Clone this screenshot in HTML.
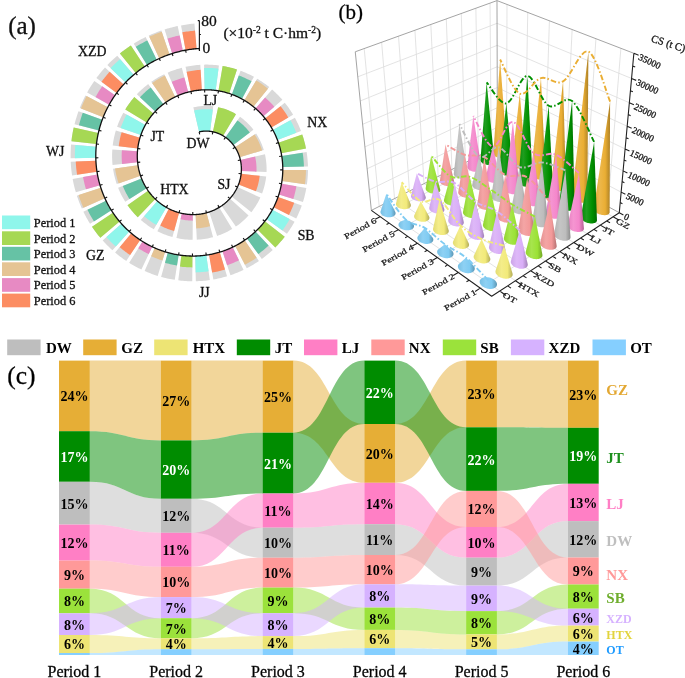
<!DOCTYPE html>
<html><head><meta charset="utf-8"><style>
html,body{margin:0;padding:0;background:#fff;width:685px;height:678px;overflow:hidden}
svg{display:block;will-change:transform}
text{font-family:"Liberation Serif",serif}
.th,.sl,.pa,.per,.c3,.c3c,.c3z,.c3t,.apl{stroke:#111;stroke-width:0.3px}
.pl{font-weight:bold;font-size:14px;text-anchor:middle}
.per{font-size:16px;text-anchor:middle}
.lg{font-weight:bold;font-size:15px}
.pa{font-size:24px}
.sl{font-size:15.5px;fill:#111}
.c3{font-size:10.6px;fill:#222}
.c3c{font-size:11px;fill:#222}
.c3z{font-size:9.3px;fill:#222}
.c3t{font-size:10.6px;fill:#222}
</style></head><body>
<svg width="685" height="678" viewBox="0 0 685 678">
<path d="M89.80,481.80 C125.29,481.80 125.29,498.80 160.78,498.80 L160.78,532.80 C125.29,532.80 125.29,524.60 89.80,524.60 Z" fill="#BEBEBE" fill-opacity="0.5"/>
<path d="M191.58,498.80 C227.07,498.80 227.07,527.70 262.56,527.70 L262.56,557.70 C227.07,557.70 227.07,532.80 191.58,532.80 Z" fill="#BEBEBE" fill-opacity="0.5"/>
<path d="M293.36,527.70 C328.85,527.70 328.85,524.20 364.34,524.20 L364.34,555.00 C328.85,555.00 328.85,557.70 293.36,557.70 Z" fill="#BEBEBE" fill-opacity="0.5"/>
<path d="M395.14,524.20 C430.63,524.20 430.63,557.70 466.12,557.70 L466.12,585.60 C430.63,585.60 430.63,555.00 395.14,555.00 Z" fill="#BEBEBE" fill-opacity="0.5"/>
<path d="M496.92,557.70 C532.41,557.70 532.41,521.10 567.90,521.10 L567.90,557.50 C532.41,557.50 532.41,585.60 496.92,585.60 Z" fill="#BEBEBE" fill-opacity="0.5"/>
<path d="M89.80,360.60 C125.29,360.60 125.29,360.60 160.78,360.60 L160.78,440.40 C125.29,440.40 125.29,431.20 89.80,431.20 Z" fill="#E6AE36" fill-opacity="0.5"/>
<path d="M191.58,360.60 C227.07,360.60 227.07,360.60 262.56,360.60 L262.56,432.70 C227.07,432.70 227.07,440.40 191.58,440.40 Z" fill="#E6AE36" fill-opacity="0.5"/>
<path d="M293.36,360.60 C328.85,360.60 328.85,424.00 364.34,424.00 L364.34,482.80 C328.85,482.80 328.85,432.70 293.36,432.70 Z" fill="#E6AE36" fill-opacity="0.5"/>
<path d="M395.14,424.00 C430.63,424.00 430.63,360.60 466.12,360.60 L466.12,427.30 C430.63,427.30 430.63,482.80 395.14,482.80 Z" fill="#E6AE36" fill-opacity="0.5"/>
<path d="M496.92,360.60 C532.41,360.60 532.41,360.60 567.90,360.60 L567.90,427.80 C532.41,427.80 532.41,427.30 496.92,427.30 Z" fill="#E6AE36" fill-opacity="0.5"/>
<path d="M89.80,635.00 C125.29,635.00 125.29,638.30 160.78,638.30 L160.78,649.20 C125.29,649.20 125.29,653.00 89.80,653.00 Z" fill="#EDE474" fill-opacity="0.5"/>
<path d="M191.58,638.30 C227.07,638.30 227.07,636.10 262.56,636.10 L262.56,648.90 C227.07,648.90 227.07,649.20 191.58,649.20 Z" fill="#EDE474" fill-opacity="0.5"/>
<path d="M293.36,636.10 C328.85,636.10 328.85,629.90 364.34,629.90 L364.34,648.20 C328.85,648.20 328.85,648.90 293.36,648.90 Z" fill="#EDE474" fill-opacity="0.5"/>
<path d="M395.14,629.90 C430.63,629.90 430.63,634.40 466.12,634.40 L466.12,649.30 C430.63,649.30 430.63,648.20 395.14,648.20 Z" fill="#EDE474" fill-opacity="0.5"/>
<path d="M496.92,634.40 C532.41,634.40 532.41,625.60 567.90,625.60 L567.90,641.60 C532.41,641.60 532.41,649.30 496.92,649.30 Z" fill="#EDE474" fill-opacity="0.5"/>
<path d="M89.80,431.20 C125.29,431.20 125.29,440.40 160.78,440.40 L160.78,498.80 C125.29,498.80 125.29,481.80 89.80,481.80 Z" fill="#008C00" fill-opacity="0.5"/>
<path d="M191.58,440.40 C227.07,440.40 227.07,432.70 262.56,432.70 L262.56,493.50 C227.07,493.50 227.07,498.80 191.58,498.80 Z" fill="#008C00" fill-opacity="0.5"/>
<path d="M293.36,432.70 C328.85,432.70 328.85,360.60 364.34,360.60 L364.34,424.00 C328.85,424.00 328.85,493.50 293.36,493.50 Z" fill="#008C00" fill-opacity="0.5"/>
<path d="M395.14,360.60 C430.63,360.60 430.63,427.30 466.12,427.30 L466.12,490.90 C430.63,490.90 430.63,424.00 395.14,424.00 Z" fill="#008C00" fill-opacity="0.5"/>
<path d="M496.92,427.30 C532.41,427.30 532.41,427.80 567.90,427.80 L567.90,483.80 C532.41,483.80 532.41,490.90 496.92,490.90 Z" fill="#008C00" fill-opacity="0.5"/>
<path d="M89.80,524.60 C125.29,524.60 125.29,532.80 160.78,532.80 L160.78,566.80 C125.29,566.80 125.29,560.60 89.80,560.60 Z" fill="#FF7FC5" fill-opacity="0.5"/>
<path d="M191.58,532.80 C227.07,532.80 227.07,493.50 262.56,493.50 L262.56,527.70 C227.07,527.70 227.07,566.80 191.58,566.80 Z" fill="#FF7FC5" fill-opacity="0.5"/>
<path d="M293.36,493.50 C328.85,493.50 328.85,482.80 364.34,482.80 L364.34,524.20 C328.85,524.20 328.85,527.70 293.36,527.70 Z" fill="#FF7FC5" fill-opacity="0.5"/>
<path d="M395.14,482.80 C430.63,482.80 430.63,527.00 466.12,527.00 L466.12,557.70 C430.63,557.70 430.63,524.20 395.14,524.20 Z" fill="#FF7FC5" fill-opacity="0.5"/>
<path d="M496.92,527.00 C532.41,527.00 532.41,483.80 567.90,483.80 L567.90,521.10 C532.41,521.10 532.41,557.70 496.92,557.70 Z" fill="#FF7FC5" fill-opacity="0.5"/>
<path d="M89.80,560.60 C125.29,560.60 125.29,566.80 160.78,566.80 L160.78,597.10 C125.29,597.10 125.29,588.70 89.80,588.70 Z" fill="#FF9999" fill-opacity="0.5"/>
<path d="M191.58,566.80 C227.07,566.80 227.07,557.70 262.56,557.70 L262.56,587.60 C227.07,587.60 227.07,597.10 191.58,597.10 Z" fill="#FF9999" fill-opacity="0.5"/>
<path d="M293.36,557.70 C328.85,557.70 328.85,555.00 364.34,555.00 L364.34,584.30 C328.85,584.30 328.85,587.60 293.36,587.60 Z" fill="#FF9999" fill-opacity="0.5"/>
<path d="M395.14,555.00 C430.63,555.00 430.63,490.90 466.12,490.90 L466.12,527.00 C430.63,527.00 430.63,584.30 395.14,584.30 Z" fill="#FF9999" fill-opacity="0.5"/>
<path d="M496.92,490.90 C532.41,490.90 532.41,557.50 567.90,557.50 L567.90,584.50 C532.41,584.50 532.41,527.00 496.92,527.00 Z" fill="#FF9999" fill-opacity="0.5"/>
<path d="M89.80,588.70 C125.29,588.70 125.29,618.20 160.78,618.20 L160.78,638.30 C125.29,638.30 125.29,613.30 89.80,613.30 Z" fill="#9BE23B" fill-opacity="0.5"/>
<path d="M191.58,618.20 C227.07,618.20 227.07,587.60 262.56,587.60 L262.56,613.20 C227.07,613.20 227.07,638.30 191.58,638.30 Z" fill="#9BE23B" fill-opacity="0.5"/>
<path d="M293.36,587.60 C328.85,587.60 328.85,607.60 364.34,607.60 L364.34,629.90 C328.85,629.90 328.85,613.20 293.36,613.20 Z" fill="#9BE23B" fill-opacity="0.5"/>
<path d="M395.14,607.60 C430.63,607.60 430.63,611.10 466.12,611.10 L466.12,634.40 C430.63,634.40 430.63,629.90 395.14,629.90 Z" fill="#9BE23B" fill-opacity="0.5"/>
<path d="M496.92,611.10 C532.41,611.10 532.41,584.50 567.90,584.50 L567.90,608.70 C532.41,608.70 532.41,634.40 496.92,634.40 Z" fill="#9BE23B" fill-opacity="0.5"/>
<path d="M89.80,613.30 C125.29,613.30 125.29,597.10 160.78,597.10 L160.78,618.20 C125.29,618.20 125.29,635.00 89.80,635.00 Z" fill="#D6B2FF" fill-opacity="0.5"/>
<path d="M191.58,597.10 C227.07,597.10 227.07,613.20 262.56,613.20 L262.56,636.10 C227.07,636.10 227.07,618.20 191.58,618.20 Z" fill="#D6B2FF" fill-opacity="0.5"/>
<path d="M293.36,613.20 C328.85,613.20 328.85,584.30 364.34,584.30 L364.34,607.60 C328.85,607.60 328.85,636.10 293.36,636.10 Z" fill="#D6B2FF" fill-opacity="0.5"/>
<path d="M395.14,584.30 C430.63,584.30 430.63,585.60 466.12,585.60 L466.12,611.10 C430.63,611.10 430.63,607.60 395.14,607.60 Z" fill="#D6B2FF" fill-opacity="0.5"/>
<path d="M496.92,585.60 C532.41,585.60 532.41,608.70 567.90,608.70 L567.90,625.60 C532.41,625.60 532.41,611.10 496.92,611.10 Z" fill="#D6B2FF" fill-opacity="0.5"/>
<path d="M89.80,653.00 C125.29,653.00 125.29,649.20 160.78,649.20 L160.78,655.00 C125.29,655.00 125.29,655.00 89.80,655.00 Z" fill="#85CFFF" fill-opacity="0.5"/>
<path d="M191.58,649.20 C227.07,649.20 227.07,648.90 262.56,648.90 L262.56,655.00 C227.07,655.00 227.07,655.00 191.58,655.00 Z" fill="#85CFFF" fill-opacity="0.5"/>
<path d="M293.36,648.90 C328.85,648.90 328.85,648.20 364.34,648.20 L364.34,655.00 C328.85,655.00 328.85,655.00 293.36,655.00 Z" fill="#85CFFF" fill-opacity="0.5"/>
<path d="M395.14,648.20 C430.63,648.20 430.63,649.30 466.12,649.30 L466.12,655.00 C430.63,655.00 430.63,655.00 395.14,655.00 Z" fill="#85CFFF" fill-opacity="0.5"/>
<path d="M496.92,649.30 C532.41,649.30 532.41,641.60 567.90,641.60 L567.90,655.00 C532.41,655.00 532.41,655.00 496.92,655.00 Z" fill="#85CFFF" fill-opacity="0.5"/>
<rect x="59.00" y="360.60" width="30.80" height="70.60" fill="#E6AE36"/>
<rect x="59.00" y="431.20" width="30.80" height="50.60" fill="#008C00"/>
<rect x="59.00" y="481.80" width="30.80" height="42.80" fill="#BEBEBE"/>
<rect x="59.00" y="524.60" width="30.80" height="36.00" fill="#FF7FC5"/>
<rect x="59.00" y="560.60" width="30.80" height="28.10" fill="#FF9999"/>
<rect x="59.00" y="588.70" width="30.80" height="24.60" fill="#9BE23B"/>
<rect x="59.00" y="613.30" width="30.80" height="21.70" fill="#D6B2FF"/>
<rect x="59.00" y="635.00" width="30.80" height="18.00" fill="#EDE474"/>
<rect x="59.00" y="653.00" width="30.80" height="2.00" fill="#85CFFF"/>
<rect x="160.78" y="360.60" width="30.80" height="79.80" fill="#E6AE36"/>
<rect x="160.78" y="440.40" width="30.80" height="58.40" fill="#008C00"/>
<rect x="160.78" y="498.80" width="30.80" height="34.00" fill="#BEBEBE"/>
<rect x="160.78" y="532.80" width="30.80" height="34.00" fill="#FF7FC5"/>
<rect x="160.78" y="566.80" width="30.80" height="30.30" fill="#FF9999"/>
<rect x="160.78" y="597.10" width="30.80" height="21.10" fill="#D6B2FF"/>
<rect x="160.78" y="618.20" width="30.80" height="20.10" fill="#9BE23B"/>
<rect x="160.78" y="638.30" width="30.80" height="10.90" fill="#EDE474"/>
<rect x="160.78" y="649.20" width="30.80" height="5.80" fill="#85CFFF"/>
<rect x="262.56" y="360.60" width="30.80" height="72.10" fill="#E6AE36"/>
<rect x="262.56" y="432.70" width="30.80" height="60.80" fill="#008C00"/>
<rect x="262.56" y="493.50" width="30.80" height="34.20" fill="#FF7FC5"/>
<rect x="262.56" y="527.70" width="30.80" height="30.00" fill="#BEBEBE"/>
<rect x="262.56" y="557.70" width="30.80" height="29.90" fill="#FF9999"/>
<rect x="262.56" y="587.60" width="30.80" height="25.60" fill="#9BE23B"/>
<rect x="262.56" y="613.20" width="30.80" height="22.90" fill="#D6B2FF"/>
<rect x="262.56" y="636.10" width="30.80" height="12.80" fill="#EDE474"/>
<rect x="262.56" y="648.90" width="30.80" height="6.10" fill="#85CFFF"/>
<rect x="364.34" y="360.60" width="30.80" height="63.40" fill="#008C00"/>
<rect x="364.34" y="424.00" width="30.80" height="58.80" fill="#E6AE36"/>
<rect x="364.34" y="482.80" width="30.80" height="41.40" fill="#FF7FC5"/>
<rect x="364.34" y="524.20" width="30.80" height="30.80" fill="#BEBEBE"/>
<rect x="364.34" y="555.00" width="30.80" height="29.30" fill="#FF9999"/>
<rect x="364.34" y="584.30" width="30.80" height="23.30" fill="#D6B2FF"/>
<rect x="364.34" y="607.60" width="30.80" height="22.30" fill="#9BE23B"/>
<rect x="364.34" y="629.90" width="30.80" height="18.30" fill="#EDE474"/>
<rect x="364.34" y="648.20" width="30.80" height="6.80" fill="#85CFFF"/>
<rect x="466.12" y="360.60" width="30.80" height="66.70" fill="#E6AE36"/>
<rect x="466.12" y="427.30" width="30.80" height="63.60" fill="#008C00"/>
<rect x="466.12" y="490.90" width="30.80" height="36.10" fill="#FF9999"/>
<rect x="466.12" y="527.00" width="30.80" height="30.70" fill="#FF7FC5"/>
<rect x="466.12" y="557.70" width="30.80" height="27.90" fill="#BEBEBE"/>
<rect x="466.12" y="585.60" width="30.80" height="25.50" fill="#D6B2FF"/>
<rect x="466.12" y="611.10" width="30.80" height="23.30" fill="#9BE23B"/>
<rect x="466.12" y="634.40" width="30.80" height="14.90" fill="#EDE474"/>
<rect x="466.12" y="649.30" width="30.80" height="5.70" fill="#85CFFF"/>
<rect x="567.90" y="360.60" width="30.80" height="67.20" fill="#E6AE36"/>
<rect x="567.90" y="427.80" width="30.80" height="56.00" fill="#008C00"/>
<rect x="567.90" y="483.80" width="30.80" height="37.30" fill="#FF7FC5"/>
<rect x="567.90" y="521.10" width="30.80" height="36.40" fill="#BEBEBE"/>
<rect x="567.90" y="557.50" width="30.80" height="27.00" fill="#FF9999"/>
<rect x="567.90" y="584.50" width="30.80" height="24.20" fill="#9BE23B"/>
<rect x="567.90" y="608.70" width="30.80" height="16.90" fill="#D6B2FF"/>
<rect x="567.90" y="625.60" width="30.80" height="16.00" fill="#EDE474"/>
<rect x="567.90" y="641.60" width="30.80" height="13.40" fill="#85CFFF"/>
<text id="pc0GZ" x="74.40" y="401.30" class="pl" fill="#000000">24%</text>
<text id="pc0JT" x="74.40" y="461.90" class="pl" fill="#FFFFFF">17%</text>
<text id="pc0DW" x="74.40" y="508.60" class="pl" fill="#000000">15%</text>
<text id="pc0LJ" x="74.40" y="548.00" class="pl" fill="#000000">12%</text>
<text id="pc0NX" x="74.40" y="580.05" class="pl" fill="#000000">9%</text>
<text id="pc0SB" x="74.40" y="606.40" class="pl" fill="#000000">8%</text>
<text id="pc0XZD" x="74.40" y="629.55" class="pl" fill="#000000">8%</text>
<text id="pc0HTX" x="74.40" y="649.40" class="pl" fill="#000000">6%</text>
<text id="cp1" x="74.40" y="676.8" class="per">Period 1</text>
<text id="pc1GZ" x="176.18" y="405.90" class="pl" fill="#000000">27%</text>
<text id="pc1JT" x="176.18" y="475.00" class="pl" fill="#FFFFFF">20%</text>
<text id="pc1DW" x="176.18" y="521.20" class="pl" fill="#000000">12%</text>
<text id="pc1LJ" x="176.18" y="555.20" class="pl" fill="#000000">11%</text>
<text id="pc1NX" x="176.18" y="587.35" class="pl" fill="#000000">10%</text>
<text id="pc1XZD" x="176.18" y="613.05" class="pl" fill="#000000">7%</text>
<text id="pc1SB" x="176.18" y="633.65" class="pl" fill="#000000">7%</text>
<text id="pc1HTX" x="176.18" y="649.15" class="pl" fill="#000000">4%</text>
<text id="cp2" x="176.18" y="676.8" class="per">Period 2</text>
<text id="pc2GZ" x="277.96" y="402.05" class="pl" fill="#000000">25%</text>
<text id="pc2JT" x="277.96" y="468.50" class="pl" fill="#FFFFFF">21%</text>
<text id="pc2LJ" x="277.96" y="516.00" class="pl" fill="#000000">11%</text>
<text id="pc2DW" x="277.96" y="548.10" class="pl" fill="#000000">10%</text>
<text id="pc2NX" x="277.96" y="578.05" class="pl" fill="#000000">10%</text>
<text id="pc2SB" x="277.96" y="605.80" class="pl" fill="#000000">9%</text>
<text id="pc2XZD" x="277.96" y="630.05" class="pl" fill="#000000">8%</text>
<text id="pc2HTX" x="277.96" y="647.90" class="pl" fill="#000000">4%</text>
<text id="cp3" x="277.96" y="676.8" class="per">Period 3</text>
<text id="pc3JT" x="379.74" y="397.70" class="pl" fill="#FFFFFF">22%</text>
<text id="pc3GZ" x="379.74" y="458.80" class="pl" fill="#000000">20%</text>
<text id="pc3LJ" x="379.74" y="508.90" class="pl" fill="#000000">14%</text>
<text id="pc3DW" x="379.74" y="545.00" class="pl" fill="#000000">11%</text>
<text id="pc3NX" x="379.74" y="575.05" class="pl" fill="#000000">10%</text>
<text id="pc3XZD" x="379.74" y="601.35" class="pl" fill="#000000">8%</text>
<text id="pc3SB" x="379.74" y="624.15" class="pl" fill="#000000">8%</text>
<text id="pc3HTX" x="379.74" y="644.45" class="pl" fill="#000000">6%</text>
<text id="cp4" x="379.74" y="676.8" class="per">Period 4</text>
<text id="pc4GZ" x="481.52" y="399.35" class="pl" fill="#000000">23%</text>
<text id="pc4JT" x="481.52" y="464.50" class="pl" fill="#FFFFFF">22%</text>
<text id="pc4NX" x="481.52" y="514.35" class="pl" fill="#000000">12%</text>
<text id="pc4LJ" x="481.52" y="547.75" class="pl" fill="#000000">10%</text>
<text id="pc4DW" x="481.52" y="577.05" class="pl" fill="#000000">9%</text>
<text id="pc4XZD" x="481.52" y="603.75" class="pl" fill="#000000">9%</text>
<text id="pc4SB" x="481.52" y="628.15" class="pl" fill="#000000">8%</text>
<text id="pc4HTX" x="481.52" y="647.25" class="pl" fill="#000000">5%</text>
<text id="cp5" x="481.52" y="676.8" class="per">Period 5</text>
<text id="pc5GZ" x="583.30" y="399.60" class="pl" fill="#000000">23%</text>
<text id="pc5JT" x="583.30" y="461.20" class="pl" fill="#FFFFFF">19%</text>
<text id="pc5LJ" x="583.30" y="507.85" class="pl" fill="#000000">13%</text>
<text id="pc5DW" x="583.30" y="544.70" class="pl" fill="#000000">12%</text>
<text id="pc5NX" x="583.30" y="576.40" class="pl" fill="#000000">9%</text>
<text id="pc5SB" x="583.30" y="602.00" class="pl" fill="#000000">8%</text>
<text id="pc5XZD" x="583.30" y="622.55" class="pl" fill="#000000">6%</text>
<text id="pc5HTX" x="583.30" y="639.00" class="pl" fill="#000000">6%</text>
<text id="pc5OT" x="583.30" y="653.70" class="pl" fill="#000000">4%</text>
<text id="cp6" x="583.30" y="676.8" class="per">Period 6</text>
<rect x="7.2" y="339.5" width="33.4" height="15.7" fill="#BEBEBE"/>
<text id="lgDW" x="46.0" y="352.8" class="lg">DW</text>
<rect x="83.2" y="339.5" width="33.4" height="15.7" fill="#E6AE36"/>
<text id="lgGZ" x="121.3" y="352.8" class="lg">GZ</text>
<rect x="154.2" y="339.5" width="33.4" height="15.7" fill="#EDE474"/>
<text id="lgHTX" x="192.7" y="352.8" class="lg">HTX</text>
<rect x="236.8" y="339.5" width="33.4" height="15.7" fill="#008C00"/>
<text id="lgJT" x="274.7" y="352.8" class="lg">JT</text>
<rect x="304.0" y="339.5" width="33.4" height="15.7" fill="#FF7FC5"/>
<text id="lgLJ" x="341.7" y="352.8" class="lg">LJ</text>
<rect x="371.3" y="339.5" width="33.4" height="15.7" fill="#FF9999"/>
<text id="lgNX" x="408.8" y="352.8" class="lg">NX</text>
<rect x="442.8" y="339.5" width="33.4" height="15.7" fill="#9BE23B"/>
<text id="lgSB" x="480.3" y="352.8" class="lg">SB</text>
<rect x="510.9" y="339.5" width="33.4" height="15.7" fill="#D6B2FF"/>
<text id="lgXZD" x="548.6" y="352.8" class="lg">XZD</text>
<rect x="592.5" y="339.5" width="33.4" height="15.7" fill="#85CFFF"/>
<text id="lgOT" x="630.2" y="352.8" class="lg">OT</text>
<text id="lc" x="7.3" y="383.6" class="pa" style="font-size:25.5px">(c)</text>
<text id="rlGZ" x="606.3" y="395.2" fill="#E3A833" style="font-weight:bold;font-size:15px">GZ</text>
<text id="rlJT" x="606.3" y="462.8" fill="#1D8F1D" style="font-weight:bold;font-size:15px">JT</text>
<text id="rlLJ" x="606.3" y="509.2" fill="#FF7FC5" style="font-weight:bold;font-size:15px">LJ</text>
<text id="rlDW" x="606.3" y="546.0" fill="#BFBFBF" style="font-weight:bold;font-size:15px">DW</text>
<text id="rlNX" x="606.3" y="580.0" fill="#FF9999" style="font-weight:bold;font-size:15px">NX</text>
<text id="rlSB" x="606.3" y="602.9" fill="#6FAE2E" style="font-weight:bold;font-size:15px">SB</text>
<text id="rlXZD" x="606.3" y="622.9" fill="#D6B2FF" style="font-weight:bold;font-size:12px">XZD</text>
<text id="rlHTX" x="606.3" y="639.3" fill="#E2D43E" style="font-weight:bold;font-size:12px">HTX</text>
<text id="rlOT" x="606.3" y="654.2" fill="#1E9BFF" style="font-weight:bold;font-size:12px">OT</text>
<path d="M199.12,131.88 L200.32,131.63 L201.53,131.42 L202.75,131.26 L203.97,131.15 L205.20,131.09 L206.43,131.08 L207.66,131.11 L208.89,131.19 L210.11,131.32 L213.22,106.31 L211.04,106.08 L208.85,105.94 L206.65,105.88 L204.43,105.90 L202.21,106.01 L199.99,106.21 L197.77,106.50 L195.56,106.88 L193.35,107.35 Z" fill="#D9D9D9"/>
<path d="M199.12,131.88 L200.32,131.63 L201.53,131.42 L202.75,131.26 L203.97,131.15 L205.20,131.09 L206.43,131.08 L207.66,131.11 L208.89,131.19 L210.11,131.32 L212.82,109.56 L210.76,109.35 L208.70,109.21 L206.62,109.15 L204.53,109.18 L202.44,109.28 L200.35,109.47 L198.26,109.74 L196.18,110.10 L194.10,110.54 Z" fill="#8FF6EB"/>
<path d="M212.87,131.79 L214.07,132.06 L215.25,132.39 L216.43,132.75 L217.58,133.16 L218.73,133.61 L219.85,134.10 L220.96,134.63 L222.05,135.20 L223.12,135.81 L235.98,114.14 L234.14,113.09 L232.26,112.11 L230.34,111.19 L228.39,110.33 L226.39,109.55 L224.37,108.84 L222.31,108.20 L220.23,107.63 L218.12,107.14 Z" fill="#D9D9D9"/>
<path d="M212.87,131.79 L214.07,132.06 L215.25,132.39 L216.43,132.75 L217.58,133.16 L218.73,133.61 L219.85,134.10 L220.96,134.63 L222.05,135.20 L223.12,135.81 L235.98,114.14 L234.14,113.09 L232.26,112.11 L230.34,111.19 L228.39,110.33 L226.39,109.55 L224.37,108.84 L222.31,108.20 L220.23,107.63 L218.12,107.14 Z" fill="#A6D854"/>
<path d="M225.47,137.34 L226.46,138.06 L227.43,138.82 L228.36,139.61 L229.28,140.44 L230.16,141.29 L231.01,142.18 L231.84,143.09 L232.63,144.03 L233.40,144.99 L253.41,129.68 L252.14,128.07 L250.81,126.50 L249.42,124.96 L247.98,123.47 L246.49,122.03 L244.94,120.63 L243.34,119.29 L241.70,117.99 L240.01,116.75 Z" fill="#D9D9D9"/>
<path d="M225.47,137.34 L226.46,138.06 L227.43,138.82 L228.36,139.61 L229.28,140.44 L230.16,141.29 L231.01,142.18 L231.84,143.09 L232.63,144.03 L233.40,144.99 L249.81,132.44 L248.63,130.94 L247.39,129.48 L246.11,128.06 L244.77,126.68 L243.39,125.34 L241.96,124.05 L240.48,122.80 L238.96,121.61 L237.39,120.46 Z" fill="#66C2A5"/>
<path d="M235.01,147.28 L235.67,148.32 L236.29,149.38 L236.88,150.46 L237.43,151.55 L237.95,152.67 L238.43,153.80 L238.87,154.94 L239.29,156.10 L239.66,157.27 L263.78,149.97 L263.17,148.05 L262.49,146.16 L261.76,144.28 L260.97,142.42 L260.11,140.58 L259.20,138.77 L258.23,136.98 L257.20,135.22 L256.11,133.50 Z" fill="#D9D9D9"/>
<path d="M235.01,147.28 L235.67,148.32 L236.29,149.38 L236.88,150.46 L237.43,151.55 L237.95,152.67 L238.43,153.80 L238.87,154.94 L239.29,156.10 L239.66,157.27 L262.09,150.48 L261.49,148.62 L260.84,146.77 L260.13,144.94 L259.36,143.14 L258.53,141.35 L257.64,139.59 L256.69,137.85 L255.69,136.14 L254.63,134.46 Z" fill="#E5C494"/>
<path d="M240.38,159.98 L240.63,161.18 L240.85,162.39 L241.03,163.61 L241.18,164.83 L241.29,166.05 L241.36,167.28 L241.39,168.51 L241.39,169.74 L241.36,170.96 L266.53,172.08 L266.59,170.12 L266.59,168.15 L266.53,166.17 L266.42,164.20 L266.24,162.22 L266.01,160.25 L265.71,158.29 L265.36,156.33 L264.95,154.37 Z" fill="#D9D9D9"/>
<path d="M240.38,159.98 L240.63,161.18 L240.85,162.39 L241.03,163.61 L241.18,164.83 L241.29,166.05 L241.36,167.28 L241.39,168.51 L241.39,169.74 L241.36,170.96 L256.46,171.64 L256.51,169.96 L256.51,168.29 L256.46,166.61 L256.37,164.94 L256.22,163.27 L256.02,161.59 L255.77,159.93 L255.47,158.27 L255.12,156.62 Z" fill="#E78AC3"/>
<path d="M241.14,173.76 L240.99,174.97 L240.80,176.19 L240.58,177.40 L240.32,178.60 L240.03,179.79 L239.70,180.98 L239.34,182.15 L238.95,183.32 L238.53,184.47 L262.06,193.49 L262.72,191.68 L263.34,189.85 L263.91,187.99 L264.42,186.12 L264.88,184.23 L265.29,182.33 L265.64,180.41 L265.94,178.48 L266.19,176.54 Z" fill="#D9D9D9"/>
<path d="M241.14,173.76 L240.99,174.97 L240.80,176.19 L240.58,177.40 L240.32,178.60 L240.03,179.79 L239.70,180.98 L239.34,182.15 L238.95,183.32 L238.53,184.47 L255.94,191.15 L256.54,189.51 L257.10,187.85 L257.61,186.17 L258.08,184.48 L258.49,182.77 L258.86,181.05 L259.18,179.31 L259.45,177.57 L259.67,175.81 Z" fill="#FC8D62"/>
<path d="M237.44,187.05 L236.92,188.16 L236.36,189.26 L235.77,190.34 L235.16,191.40 L234.51,192.45 L233.84,193.48 L233.14,194.49 L232.41,195.48 L231.66,196.45 L251.36,212.16 L252.53,210.66 L253.65,209.12 L254.74,207.56 L255.78,205.96 L256.79,204.33 L257.75,202.67 L258.66,200.99 L259.53,199.28 L260.36,197.54 Z" fill="#D9D9D9"/>
<path d="M229.85,198.59 L229.01,199.49 L228.15,200.37 L227.27,201.22 L226.37,202.06 L225.45,202.87 L224.50,203.65 L223.54,204.42 L222.55,205.15 L221.55,205.86 L235.85,226.61 L237.38,225.53 L238.88,224.40 L240.36,223.24 L241.80,222.04 L243.22,220.80 L244.61,219.52 L245.96,218.20 L247.28,216.85 L248.57,215.46 Z" fill="#D9D9D9"/>
<path d="M219.20,207.38 L218.14,208.01 L217.06,208.60 L215.98,209.18 L214.87,209.72 L213.76,210.23 L212.63,210.72 L211.49,211.18 L210.34,211.61 L209.18,212.01 L217.12,235.93 L218.87,235.32 L220.60,234.67 L222.32,233.98 L224.03,233.24 L225.72,232.47 L227.39,231.64 L229.04,230.78 L230.67,229.87 L232.27,228.93 Z" fill="#D9D9D9"/>
<path d="M206.49,212.82 L205.30,213.13 L204.11,213.40 L202.90,213.65 L201.69,213.87 L200.48,214.06 L199.26,214.22 L198.04,214.36 L196.82,214.46 L195.59,214.53 L196.80,239.70 L198.62,239.59 L200.45,239.44 L202.27,239.24 L204.09,239.00 L205.90,238.72 L207.71,238.39 L209.51,238.02 L211.31,237.60 L213.09,237.14 Z" fill="#D9D9D9"/>
<path d="M206.49,212.82 L205.30,213.13 L204.11,213.40 L202.90,213.65 L201.69,213.87 L200.48,214.06 L199.26,214.22 L198.04,214.36 L196.82,214.46 L195.59,214.53 L196.25,228.38 L197.81,228.28 L199.36,228.15 L200.92,227.99 L202.47,227.78 L204.01,227.54 L205.55,227.26 L207.08,226.94 L208.61,226.59 L210.12,226.20 Z" fill="#E5C494"/>
<path d="M192.79,214.59 L191.56,214.57 L190.33,214.52 L189.11,214.44 L187.88,214.33 L186.66,214.20 L185.44,214.03 L184.23,213.84 L183.02,213.62 L181.82,213.37 L176.43,237.99 L178.20,238.35 L179.98,238.68 L181.77,238.96 L183.57,239.21 L185.37,239.41 L187.18,239.57 L189.00,239.68 L190.82,239.76 L192.64,239.79 Z" fill="#D9D9D9"/>
<path d="M192.79,214.59 L191.56,214.57 L190.33,214.52 L189.11,214.44 L187.88,214.33 L186.66,214.20 L185.44,214.03 L184.23,213.84 L183.02,213.62 L181.82,213.37 L180.52,219.28 L181.86,219.55 L183.21,219.80 L184.56,220.01 L185.92,220.20 L187.28,220.35 L188.64,220.47 L190.01,220.56 L191.38,220.62 L192.75,220.64 Z" fill="#E78AC3"/>
<path d="M179.10,212.70 L177.92,212.36 L176.74,211.99 L175.58,211.60 L174.42,211.18 L173.28,210.74 L172.14,210.27 L171.02,209.77 L169.90,209.25 L168.80,208.71 L157.37,231.17 L158.98,231.96 L160.60,232.72 L162.24,233.44 L163.90,234.13 L165.58,234.78 L167.27,235.39 L168.98,235.97 L170.70,236.50 L172.43,237.00 Z" fill="#D9D9D9"/>
<path d="M179.10,212.70 L177.92,212.36 L176.74,211.99 L175.58,211.60 L174.42,211.18 L173.28,210.74 L172.14,210.27 L171.02,209.77 L169.90,209.25 L168.80,208.71 L160.23,225.55 L161.71,226.29 L163.20,226.98 L164.72,227.65 L166.25,228.28 L167.79,228.88 L169.35,229.45 L170.92,229.97 L172.50,230.47 L174.10,230.93 Z" fill="#FC8D62"/>
<path d="M166.34,207.38 L165.28,206.75 L164.23,206.10 L163.20,205.43 L162.19,204.74 L161.19,204.03 L160.20,203.29 L159.24,202.53 L158.29,201.76 L157.35,200.96 L140.76,219.93 L142.11,221.08 L143.49,222.21 L144.89,223.30 L146.31,224.37 L147.76,225.40 L149.23,226.41 L150.73,227.38 L152.25,228.32 L153.79,229.23 Z" fill="#D9D9D9"/>
<path d="M166.34,207.38 L165.28,206.75 L164.23,206.10 L163.20,205.43 L162.19,204.74 L161.19,204.03 L160.20,203.29 L159.24,202.53 L158.29,201.76 L157.35,200.96 L144.08,216.13 L145.35,217.22 L146.64,218.27 L147.95,219.30 L149.29,220.30 L150.65,221.27 L152.03,222.21 L153.43,223.13 L154.85,224.01 L156.30,224.86 Z" fill="#8FF6EB"/>
<path d="M155.29,199.06 L154.41,198.20 L153.56,197.32 L152.72,196.42 L151.90,195.50 L151.10,194.57 L150.33,193.61 L149.57,192.65 L148.83,191.66 L148.11,190.66 L127.48,205.13 L128.51,206.56 L129.56,207.97 L130.65,209.36 L131.77,210.73 L132.92,212.07 L134.09,213.39 L135.30,214.68 L136.53,215.95 L137.79,217.20 Z" fill="#D9D9D9"/>
<path d="M155.29,199.06 L154.41,198.20 L153.56,197.32 L152.72,196.42 L151.90,195.50 L151.10,194.57 L150.33,193.61 L149.57,192.65 L148.83,191.66 L148.11,190.66 L127.48,205.13 L128.51,206.56 L129.56,207.97 L130.65,209.36 L131.77,210.73 L132.92,212.07 L134.09,213.39 L135.30,214.68 L136.53,215.95 L137.79,217.20 Z" fill="#A6D854"/>
<path d="M146.56,188.33 L145.92,187.29 L145.29,186.23 L144.69,185.16 L144.11,184.07 L143.56,182.98 L143.02,181.87 L142.51,180.75 L142.02,179.62 L141.56,178.49 L118.13,187.77 L118.79,189.38 L119.48,190.99 L120.21,192.58 L120.97,194.16 L121.76,195.72 L122.59,197.26 L123.45,198.79 L124.34,200.30 L125.26,201.80 Z" fill="#D9D9D9"/>
<path d="M146.56,188.33 L145.92,187.29 L145.29,186.23 L144.69,185.16 L144.11,184.07 L143.56,182.98 L143.02,181.87 L142.51,180.75 L142.02,179.62 L141.56,178.49 L122.82,185.91 L123.44,187.43 L124.09,188.94 L124.77,190.44 L125.49,191.92 L126.23,193.39 L127.01,194.84 L127.82,196.28 L128.65,197.70 L129.52,199.11 Z" fill="#66C2A5"/>
<path d="M140.59,175.86 L140.20,174.69 L139.84,173.52 L139.50,172.34 L139.18,171.15 L138.89,169.96 L138.63,168.76 L138.38,167.55 L138.17,166.34 L137.97,165.13 L113.05,168.86 L113.32,170.57 L113.63,172.28 L113.97,173.98 L114.35,175.68 L114.76,177.36 L115.21,179.05 L115.69,180.72 L116.20,182.38 L116.75,184.04 Z" fill="#D9D9D9"/>
<path d="M140.59,175.86 L140.20,174.69 L139.84,173.52 L139.50,172.34 L139.18,171.15 L138.89,169.96 L138.63,168.76 L138.38,167.55 L138.17,166.34 L137.97,165.13 L115.04,168.56 L115.31,170.23 L115.61,171.90 L115.95,173.56 L116.31,175.22 L116.72,176.87 L117.15,178.51 L117.62,180.14 L118.12,181.77 L118.66,183.38 Z" fill="#E5C494"/>
<path d="M137.62,162.35 L137.51,161.13 L137.42,159.90 L137.35,158.67 L137.31,157.44 L137.29,156.22 L137.30,154.99 L137.33,153.76 L137.39,152.53 L137.47,151.30 L112.34,149.43 L112.22,151.15 L112.15,152.87 L112.10,154.59 L112.09,156.32 L112.12,158.04 L112.17,159.77 L112.27,161.50 L112.39,163.22 L112.55,164.94 Z" fill="#D9D9D9"/>
<path d="M137.62,162.35 L137.51,161.13 L137.42,159.90 L137.35,158.67 L137.31,157.44 L137.29,156.22 L137.30,154.99 L137.33,153.76 L137.39,152.53 L137.47,151.30 L121.88,150.14 L121.79,151.67 L121.72,153.21 L121.68,154.74 L121.67,156.28 L121.69,157.82 L121.74,159.35 L121.82,160.89 L121.94,162.42 L122.08,163.96 Z" fill="#E78AC3"/>
<path d="M137.74,148.52 L137.89,147.30 L138.07,146.08 L138.28,144.87 L138.51,143.66 L138.76,142.46 L139.03,141.26 L139.33,140.07 L139.65,138.88 L140.00,137.70 L115.87,130.44 L115.39,132.08 L114.94,133.73 L114.53,135.40 L114.14,137.07 L113.79,138.74 L113.47,140.43 L113.19,142.12 L112.93,143.82 L112.71,145.53 Z" fill="#D9D9D9"/>
<path d="M137.74,148.52 L137.89,147.30 L138.07,146.08 L138.28,144.87 L138.51,143.66 L138.76,142.46 L139.03,141.26 L139.33,140.07 L139.65,138.88 L140.00,137.70 L121.66,132.18 L121.21,133.71 L120.79,135.25 L120.41,136.80 L120.05,138.36 L119.72,139.92 L119.43,141.50 L119.16,143.07 L118.92,144.66 L118.72,146.24 Z" fill="#FC8D62"/>
<path d="M140.86,135.04 L141.28,133.88 L141.71,132.73 L142.17,131.59 L142.66,130.46 L143.16,129.34 L143.68,128.23 L144.23,127.13 L144.79,126.04 L145.38,124.96 L123.33,112.75 L122.52,114.24 L121.74,115.76 L120.98,117.28 L120.26,118.82 L119.56,120.38 L118.89,121.95 L118.26,123.53 L117.65,125.13 L117.07,126.73 Z" fill="#D9D9D9"/>
<path d="M140.86,135.04 L141.28,133.88 L141.71,132.73 L142.17,131.59 L142.66,130.46 L143.16,129.34 L143.68,128.23 L144.23,127.13 L144.79,126.04 L145.38,124.96 L126.64,114.58 L125.86,116.01 L125.11,117.46 L124.39,118.92 L123.69,120.40 L123.03,121.89 L122.39,123.40 L121.77,124.91 L121.19,126.44 L120.64,127.98 Z" fill="#8FF6EB"/>
<path d="M146.78,122.54 L147.43,121.49 L148.10,120.46 L148.79,119.44 L149.50,118.44 L150.23,117.45 L150.97,116.47 L151.73,115.50 L152.51,114.55 L153.31,113.62 L134.27,97.11 L133.17,98.39 L132.10,99.70 L131.05,101.03 L130.03,102.38 L129.03,103.75 L128.05,105.13 L127.10,106.54 L126.17,107.96 L125.28,109.40 Z" fill="#D9D9D9"/>
<path d="M146.78,122.54 L147.43,121.49 L148.10,120.46 L148.79,119.44 L149.50,118.44 L150.23,117.45 L150.97,116.47 L151.73,115.50 L152.51,114.55 L153.31,113.62 L134.27,97.11 L133.17,98.39 L132.10,99.70 L131.05,101.03 L130.03,102.38 L129.03,103.75 L128.05,105.13 L127.10,106.54 L126.17,107.96 L125.28,109.40 Z" fill="#A6D854"/>
<path d="M155.19,111.54 L156.04,110.65 L156.90,109.78 L157.79,108.93 L158.69,108.09 L159.60,107.27 L160.53,106.46 L161.47,105.67 L162.43,104.90 L163.40,104.15 L148.11,84.11 L146.78,85.15 L145.47,86.20 L144.18,87.28 L142.91,88.39 L141.66,89.51 L140.42,90.67 L139.21,91.84 L138.02,93.03 L136.85,94.25 Z" fill="#D9D9D9"/>
<path d="M155.19,111.54 L156.04,110.65 L156.90,109.78 L157.79,108.93 L158.69,108.09 L159.60,107.27 L160.53,106.46 L161.47,105.67 L162.43,104.90 L163.40,104.15 L150.71,87.52 L149.44,88.50 L148.19,89.51 L146.96,90.54 L145.75,91.60 L144.55,92.67 L143.38,93.77 L142.22,94.89 L141.08,96.03 L139.97,97.19 Z" fill="#66C2A5"/>
<path d="M165.66,102.49 L166.67,101.80 L167.69,101.12 L168.73,100.46 L169.78,99.82 L170.84,99.20 L171.91,98.59 L172.99,98.01 L174.08,97.44 L175.19,96.90 L164.20,74.22 L162.70,74.96 L161.21,75.73 L159.74,76.53 L158.28,77.35 L156.83,78.20 L155.40,79.08 L153.98,79.98 L152.58,80.90 L151.20,81.85 Z" fill="#D9D9D9"/>
<path d="M165.66,102.49 L166.67,101.80 L167.69,101.12 L168.73,100.46 L169.78,99.82 L170.84,99.20 L171.91,98.59 L172.99,98.01 L174.08,97.44 L175.19,96.90 L164.86,75.58 L163.38,76.31 L161.92,77.07 L160.47,77.85 L159.03,78.66 L157.61,79.50 L156.20,80.36 L154.81,81.25 L153.43,82.16 L152.07,83.09 Z" fill="#E5C494"/>
<path d="M177.73,95.73 L178.86,95.25 L180.00,94.79 L181.15,94.34 L182.30,93.92 L183.46,93.52 L184.63,93.14 L185.81,92.78 L186.99,92.44 L188.17,92.12 L181.83,67.73 L180.22,68.16 L178.62,68.63 L177.03,69.11 L175.44,69.63 L173.87,70.18 L172.30,70.75 L170.74,71.35 L169.19,71.97 L167.66,72.63 Z" fill="#D9D9D9"/>
<path d="M177.73,95.73 L178.86,95.25 L180.00,94.79 L181.15,94.34 L182.30,93.92 L183.46,93.52 L184.63,93.14 L185.81,92.78 L186.99,92.44 L188.17,92.12 L184.37,77.49 L182.93,77.87 L181.50,78.29 L180.07,78.72 L178.65,79.19 L177.24,79.67 L175.84,80.19 L174.45,80.72 L173.06,81.28 L171.69,81.87 Z" fill="#E78AC3"/>
<path d="M190.90,91.47 L192.10,91.22 L193.31,90.99 L194.52,90.78 L195.73,90.59 L196.95,90.42 L198.17,90.27 L199.39,90.14 L200.62,90.04 L201.84,89.95 L200.31,64.80 L198.65,64.91 L197.00,65.06 L195.35,65.23 L193.70,65.43 L192.06,65.66 L190.42,65.91 L188.78,66.20 L187.15,66.51 L185.52,66.85 Z" fill="#D9D9D9"/>
<path d="M190.90,91.47 L192.10,91.22 L193.31,90.99 L194.52,90.78 L195.73,90.59 L196.95,90.42 L198.17,90.27 L199.39,90.14 L200.62,90.04 L201.84,89.95 L200.61,69.83 L199.04,69.94 L197.48,70.07 L195.91,70.24 L194.35,70.43 L192.79,70.64 L191.24,70.88 L189.69,71.15 L188.14,71.45 L186.59,71.77 Z" fill="#FC8D62"/>
<path d="M204.64,89.83 L205.87,89.82 L207.10,89.82 L208.33,89.84 L209.56,89.89 L210.78,89.95 L212.01,90.04 L213.23,90.15 L214.46,90.28 L215.68,90.42 L218.92,65.43 L217.28,65.23 L215.64,65.06 L213.99,64.92 L212.34,64.80 L210.69,64.71 L209.04,64.65 L207.39,64.62 L205.73,64.62 L204.08,64.64 Z" fill="#D9D9D9"/>
<path d="M204.64,89.83 L205.87,89.82 L207.10,89.82 L208.33,89.84 L209.56,89.89 L210.78,89.95 L212.01,90.04 L213.23,90.15 L214.46,90.28 L215.68,90.42 L218.49,68.68 L216.91,68.49 L215.32,68.32 L213.73,68.19 L212.14,68.07 L210.54,67.99 L208.95,67.93 L207.35,67.90 L205.75,67.89 L204.15,67.91 Z" fill="#8FF6EB"/>
<path d="M218.45,90.84 L219.66,91.05 L220.86,91.28 L222.07,91.54 L223.26,91.81 L224.46,92.11 L225.65,92.42 L226.83,92.75 L228.01,93.11 L229.18,93.48 L237.00,69.52 L235.43,69.03 L233.86,68.55 L232.28,68.11 L230.69,67.69 L229.09,67.30 L227.48,66.93 L225.87,66.59 L224.25,66.27 L222.63,65.99 Z" fill="#D9D9D9"/>
<path d="M218.45,90.84 L219.66,91.05 L220.86,91.28 L222.07,91.54 L223.26,91.81 L224.46,92.11 L225.65,92.42 L226.83,92.75 L228.01,93.11 L229.18,93.48 L237.00,69.52 L235.43,69.03 L233.86,68.55 L232.28,68.11 L230.69,67.69 L229.09,67.30 L227.48,66.93 L225.87,66.59 L224.25,66.27 L222.63,65.99 Z" fill="#A6D854"/>
<path d="M231.82,94.40 L232.97,94.83 L234.11,95.28 L235.25,95.76 L236.38,96.25 L237.50,96.76 L238.61,97.28 L239.71,97.83 L240.80,98.39 L241.88,98.97 L253.95,76.85 L252.51,76.07 L251.06,75.33 L249.59,74.60 L248.11,73.90 L246.61,73.22 L245.11,72.57 L243.60,71.94 L242.07,71.33 L240.54,70.75 Z" fill="#D9D9D9"/>
<path d="M231.82,94.40 L232.97,94.83 L234.11,95.28 L235.25,95.76 L236.38,96.25 L237.50,96.76 L238.61,97.28 L239.71,97.83 L240.80,98.39 L241.88,98.97 L251.54,81.27 L250.17,80.54 L248.79,79.83 L247.39,79.14 L245.98,78.47 L244.57,77.83 L243.14,77.20 L241.70,76.61 L240.25,76.03 L238.79,75.48 Z" fill="#66C2A5"/>
<path d="M244.32,100.35 L245.37,100.99 L246.41,101.64 L247.44,102.31 L248.46,103.00 L249.47,103.70 L250.47,104.42 L251.45,105.16 L252.43,105.91 L253.39,106.67 L269.24,87.08 L267.96,86.07 L266.67,85.07 L265.36,84.10 L264.04,83.14 L262.70,82.21 L261.34,81.30 L259.97,80.41 L258.59,79.54 L257.19,78.69 Z" fill="#D9D9D9"/>
<path d="M244.32,100.35 L245.37,100.99 L246.41,101.64 L247.44,102.31 L248.46,103.00 L249.47,103.70 L250.47,104.42 L251.45,105.16 L252.43,105.91 L253.39,106.67 L267.97,88.65 L266.72,87.65 L265.45,86.68 L264.17,85.72 L262.87,84.79 L261.56,83.87 L260.23,82.98 L258.89,82.11 L257.53,81.25 L256.16,80.42 Z" fill="#E5C494"/>
<path d="M255.53,108.47 L256.45,109.29 L257.36,110.12 L258.25,110.96 L259.13,111.82 L260.00,112.69 L260.85,113.57 L261.69,114.47 L262.52,115.38 L263.33,116.30 L282.40,99.83 L281.33,98.61 L280.24,97.41 L279.13,96.22 L278.00,95.05 L276.85,93.90 L275.69,92.76 L274.50,91.65 L273.30,90.55 L272.08,89.47 Z" fill="#D9D9D9"/>
<path d="M255.53,108.47 L256.45,109.29 L257.36,110.12 L258.25,110.96 L259.13,111.82 L260.00,112.69 L260.85,113.57 L261.69,114.47 L262.52,115.38 L263.33,116.30 L274.39,106.75 L273.43,105.66 L272.45,104.57 L271.45,103.51 L270.44,102.46 L269.41,101.42 L268.36,100.40 L267.30,99.40 L266.22,98.42 L265.13,97.45 Z" fill="#E78AC3"/>
<path d="M265.12,118.46 L265.88,119.42 L266.63,120.40 L267.36,121.38 L268.08,122.38 L268.78,123.39 L269.46,124.41 L270.13,125.44 L270.79,126.49 L271.42,127.54 L293.08,114.65 L292.24,113.26 L291.38,111.89 L290.50,110.53 L289.59,109.19 L288.67,107.86 L287.73,106.54 L286.76,105.24 L285.77,103.95 L284.77,102.68 Z" fill="#D9D9D9"/>
<path d="M265.12,118.46 L265.88,119.42 L266.63,120.40 L267.36,121.38 L268.08,122.38 L268.78,123.39 L269.46,124.41 L270.13,125.44 L270.79,126.49 L271.42,127.54 L288.31,117.48 L287.52,116.17 L286.70,114.87 L285.87,113.59 L285.02,112.31 L284.14,111.05 L283.25,109.80 L282.33,108.57 L281.40,107.35 L280.45,106.15 Z" fill="#FC8D62"/>
<path d="M272.81,129.97 L273.40,131.05 L273.96,132.14 L274.51,133.24 L275.04,134.35 L275.56,135.46 L276.06,136.59 L276.54,137.72 L277.00,138.86 L277.45,140.00 L301.00,131.03 L300.41,129.53 L299.80,128.04 L299.17,126.55 L298.52,125.07 L297.84,123.61 L297.14,122.15 L296.42,120.71 L295.67,119.27 L294.91,117.85 Z" fill="#D9D9D9"/>
<path d="M272.81,129.97 L273.40,131.05 L273.96,132.14 L274.51,133.24 L275.04,134.35 L275.56,135.46 L276.06,136.59 L276.54,137.72 L277.00,138.86 L277.45,140.00 L296.29,132.83 L295.73,131.40 L295.15,129.97 L294.55,128.56 L293.92,127.15 L293.28,125.76 L292.61,124.37 L291.93,122.99 L291.22,121.63 L290.49,120.27 Z" fill="#8FF6EB"/>
<path d="M278.40,142.64 L278.79,143.80 L279.16,144.97 L279.51,146.15 L279.85,147.33 L280.16,148.52 L280.46,149.71 L280.74,150.91 L281.01,152.11 L281.25,153.31 L305.98,148.47 L305.66,146.90 L305.32,145.33 L304.95,143.76 L304.56,142.20 L304.14,140.64 L303.70,139.09 L303.24,137.55 L302.75,136.02 L302.24,134.49 Z" fill="#D9D9D9"/>
<path d="M278.40,142.64 L278.79,143.80 L279.16,144.97 L279.51,146.15 L279.85,147.33 L280.16,148.52 L280.46,149.71 L280.74,150.91 L281.01,152.11 L281.25,153.31 L305.98,148.47 L305.66,146.90 L305.32,145.33 L304.95,143.76 L304.56,142.20 L304.14,140.64 L303.70,139.09 L303.24,137.55 L302.75,136.02 L302.24,134.49 Z" fill="#A6D854"/>
<path d="M281.74,156.07 L281.93,157.29 L282.10,158.50 L282.25,159.72 L282.38,160.95 L282.49,162.17 L282.58,163.39 L282.66,164.62 L282.72,165.85 L282.76,167.08 L307.95,166.44 L307.90,164.84 L307.82,163.24 L307.72,161.64 L307.60,160.04 L307.45,158.44 L307.28,156.85 L307.09,155.25 L306.87,153.66 L306.62,152.08 Z" fill="#D9D9D9"/>
<path d="M281.74,156.07 L281.93,157.29 L282.10,158.50 L282.25,159.72 L282.38,160.95 L282.49,162.17 L282.58,163.39 L282.66,164.62 L282.72,165.85 L282.76,167.08 L303.92,166.55 L303.87,165.00 L303.80,163.46 L303.70,161.92 L303.58,160.38 L303.44,158.84 L303.28,157.31 L303.09,155.77 L302.88,154.24 L302.64,152.72 Z" fill="#66C2A5"/>
<path d="M282.78,169.88 L282.76,171.11 L282.72,172.34 L282.67,173.56 L282.60,174.79 L282.50,176.02 L282.39,177.24 L282.27,178.46 L282.12,179.68 L281.96,180.90 L306.91,184.44 L307.12,182.86 L307.31,181.27 L307.47,179.68 L307.62,178.09 L307.74,176.49 L307.83,174.89 L307.91,173.30 L307.96,171.70 L307.98,170.09 Z" fill="#D9D9D9"/>
<path d="M282.78,169.88 L282.76,171.11 L282.72,172.34 L282.67,173.56 L282.60,174.79 L282.50,176.02 L282.39,177.24 L282.27,178.46 L282.12,179.68 L281.96,180.90 L304.91,184.16 L305.12,182.60 L305.30,181.04 L305.47,179.48 L305.61,177.92 L305.73,176.36 L305.82,174.79 L305.89,173.22 L305.94,171.65 L305.97,170.08 Z" fill="#E5C494"/>
<path d="M281.52,183.67 L281.29,184.87 L281.06,186.08 L280.80,187.28 L280.52,188.48 L280.23,189.67 L279.92,190.86 L279.60,192.05 L279.25,193.23 L278.89,194.40 L302.93,201.97 L303.40,200.44 L303.84,198.91 L304.27,197.38 L304.67,195.83 L305.05,194.28 L305.40,192.73 L305.74,191.17 L306.05,189.60 L306.34,188.03 Z" fill="#D9D9D9"/>
<path d="M281.52,183.67 L281.29,184.87 L281.06,186.08 L280.80,187.28 L280.52,188.48 L280.23,189.67 L279.92,190.86 L279.60,192.05 L279.25,193.23 L278.89,194.40 L293.32,198.94 L293.74,197.56 L294.15,196.17 L294.53,194.77 L294.89,193.37 L295.24,191.96 L295.56,190.55 L295.86,189.13 L296.15,187.71 L296.41,186.29 Z" fill="#E78AC3"/>
<path d="M278.01,197.06 L277.59,198.22 L277.16,199.37 L276.71,200.51 L276.25,201.65 L275.77,202.78 L275.27,203.91 L274.76,205.02 L274.23,206.13 L273.68,207.23 L296.19,218.57 L296.89,217.15 L297.58,215.71 L298.24,214.27 L298.88,212.81 L299.51,211.35 L300.11,209.88 L300.69,208.40 L301.25,206.91 L301.79,205.41 Z" fill="#D9D9D9"/>
<path d="M278.01,197.06 L277.59,198.22 L277.16,199.37 L276.71,200.51 L276.25,201.65 L275.77,202.78 L275.27,203.91 L274.76,205.02 L274.23,206.13 L273.68,207.23 L288.99,214.94 L289.64,213.62 L290.27,212.29 L290.89,210.95 L291.49,209.60 L292.06,208.25 L292.62,206.88 L293.16,205.51 L293.68,204.13 L294.18,202.74 Z" fill="#FC8D62"/>
<path d="M272.38,209.71 L271.79,210.79 L271.18,211.85 L270.55,212.91 L269.91,213.96 L269.25,215.00 L268.58,216.03 L267.90,217.05 L267.20,218.06 L266.48,219.06 L286.90,233.84 L287.82,232.55 L288.72,231.24 L289.60,229.93 L290.47,228.60 L291.31,227.26 L292.14,225.90 L292.95,224.54 L293.74,223.16 L294.51,221.77 Z" fill="#D9D9D9"/>
<path d="M272.38,209.71 L271.79,210.79 L271.18,211.85 L270.55,212.91 L269.91,213.96 L269.25,215.00 L268.58,216.03 L267.90,217.05 L267.20,218.06 L266.48,219.06 L282.41,230.59 L283.28,229.36 L284.14,228.12 L284.98,226.87 L285.80,225.61 L286.61,224.33 L287.39,223.05 L288.16,221.75 L288.91,220.44 L289.64,219.12 Z" fill="#8FF6EB"/>
<path d="M264.81,221.30 L264.05,222.27 L263.27,223.23 L262.49,224.17 L261.69,225.11 L260.88,226.03 L260.05,226.94 L259.22,227.84 L258.37,228.73 L257.50,229.60 L275.34,247.40 L276.45,246.28 L277.54,245.14 L278.62,243.98 L279.68,242.81 L280.73,241.62 L281.75,240.42 L282.77,239.20 L283.76,237.97 L284.74,236.72 Z" fill="#D9D9D9"/>
<path d="M264.81,221.30 L264.05,222.27 L263.27,223.23 L262.49,224.17 L261.69,225.11 L260.88,226.03 L260.05,226.94 L259.22,227.84 L258.37,228.73 L257.50,229.60 L275.34,247.40 L276.45,246.28 L277.54,245.14 L278.62,243.98 L279.68,242.81 L280.73,241.62 L281.75,240.42 L282.77,239.20 L283.76,237.97 L284.74,236.72 Z" fill="#A6D854"/>
<path d="M255.50,231.55 L254.59,232.39 L253.68,233.21 L252.76,234.02 L251.82,234.82 L250.88,235.61 L249.92,236.38 L248.95,237.14 L247.97,237.88 L246.99,238.61 L261.84,258.97 L263.11,258.03 L264.36,257.08 L265.60,256.10 L266.83,255.11 L268.04,254.11 L269.24,253.08 L270.43,252.04 L271.60,250.98 L272.76,249.91 Z" fill="#D9D9D9"/>
<path d="M255.50,231.55 L254.59,232.39 L253.68,233.21 L252.76,234.02 L251.82,234.82 L250.88,235.61 L249.92,236.38 L248.95,237.14 L247.97,237.88 L246.99,238.61 L258.28,254.08 L259.48,253.20 L260.66,252.29 L261.84,251.37 L263.00,250.43 L264.15,249.48 L265.29,248.51 L266.41,247.52 L267.52,246.52 L268.62,245.51 Z" fill="#66C2A5"/>
<path d="M244.70,240.23 L243.68,240.91 L242.65,241.59 L241.61,242.24 L240.57,242.89 L239.51,243.52 L238.44,244.13 L237.37,244.73 L236.29,245.32 L235.20,245.89 L246.75,268.29 L248.14,267.56 L249.53,266.81 L250.90,266.04 L252.26,265.25 L253.61,264.45 L254.95,263.62 L256.28,262.78 L257.60,261.92 L258.91,261.04 Z" fill="#D9D9D9"/>
<path d="M244.70,240.23 L243.68,240.91 L242.65,241.59 L241.61,242.24 L240.57,242.89 L239.51,243.52 L238.44,244.13 L237.37,244.73 L236.29,245.32 L235.20,245.89 L244.90,264.70 L246.25,264.00 L247.58,263.27 L248.91,262.53 L250.22,261.77 L251.53,261.00 L252.82,260.20 L254.10,259.39 L255.37,258.56 L256.64,257.71 Z" fill="#E5C494"/>
<path d="M232.69,247.13 L231.58,247.65 L230.46,248.16 L229.34,248.65 L228.20,249.13 L227.06,249.59 L225.92,250.03 L224.77,250.46 L223.61,250.88 L222.45,251.28 L230.46,275.17 L231.94,274.66 L233.42,274.13 L234.89,273.58 L236.35,273.01 L237.80,272.43 L239.25,271.82 L240.69,271.19 L242.12,270.54 L243.55,269.88 Z" fill="#D9D9D9"/>
<path d="M232.69,247.13 L231.58,247.65 L230.46,248.16 L229.34,248.65 L228.20,249.13 L227.06,249.59 L225.92,250.03 L224.77,250.46 L223.61,250.88 L222.45,251.28 L227.09,265.13 L228.44,264.67 L229.78,264.19 L231.12,263.69 L232.45,263.18 L233.77,262.64 L235.09,262.09 L236.40,261.52 L237.70,260.93 L238.99,260.32 Z" fill="#E78AC3"/>
<path d="M219.78,252.13 L218.60,252.47 L217.41,252.80 L216.23,253.12 L215.03,253.42 L213.84,253.70 L212.64,253.97 L211.44,254.22 L210.23,254.46 L209.02,254.67 L213.35,279.50 L214.89,279.22 L216.42,278.92 L217.96,278.60 L219.48,278.26 L221.01,277.90 L222.53,277.52 L224.04,277.12 L225.55,276.69 L227.05,276.25 Z" fill="#D9D9D9"/>
<path d="M219.78,252.13 L218.60,252.47 L217.41,252.80 L216.23,253.12 L215.03,253.42 L213.84,253.70 L212.64,253.97 L211.44,254.22 L210.23,254.46 L209.02,254.67 L212.14,272.55 L213.58,272.29 L215.03,272.00 L216.47,271.70 L217.90,271.38 L219.34,271.04 L220.76,270.69 L222.19,270.31 L223.60,269.91 L225.02,269.50 Z" fill="#FC8D62"/>
<path d="M206.25,255.11 L205.04,255.28 L203.82,255.43 L202.60,255.56 L201.37,255.68 L200.15,255.78 L198.92,255.87 L197.69,255.94 L196.47,255.99 L195.24,256.03 L195.82,281.22 L197.38,281.17 L198.94,281.11 L200.50,281.02 L202.06,280.91 L203.62,280.78 L205.17,280.63 L206.73,280.46 L208.28,280.27 L209.83,280.06 Z" fill="#D9D9D9"/>
<path d="M206.25,255.11 L205.04,255.28 L203.82,255.43 L202.60,255.56 L201.37,255.68 L200.15,255.78 L198.92,255.87 L197.69,255.94 L196.47,255.99 L195.24,256.03 L195.62,272.40 L197.06,272.36 L198.51,272.30 L199.95,272.22 L201.39,272.12 L202.83,272.00 L204.27,271.86 L205.71,271.70 L207.14,271.52 L208.58,271.33 Z" fill="#8FF6EB"/>
<path d="M192.44,256.05 L191.21,256.03 L189.98,256.00 L188.75,255.95 L187.52,255.89 L186.30,255.81 L185.07,255.71 L183.85,255.60 L182.63,255.47 L181.41,255.33 L178.28,280.33 L179.82,280.51 L181.37,280.68 L182.93,280.82 L184.48,280.94 L186.04,281.04 L187.59,281.13 L189.15,281.19 L190.71,281.23 L192.27,281.25 Z" fill="#D9D9D9"/>
<path d="M192.44,256.05 L191.21,256.03 L189.98,256.00 L188.75,255.95 L187.52,255.89 L186.30,255.81 L185.07,255.71 L183.85,255.60 L182.63,255.47 L181.41,255.33 L180.00,266.58 L181.37,266.74 L182.73,266.88 L184.11,267.01 L185.48,267.12 L186.85,267.21 L188.23,267.28 L189.61,267.34 L190.98,267.37 L192.36,267.39 Z" fill="#A6D854"/>
<path d="M178.63,254.94 L177.42,254.74 L176.21,254.53 L175.00,254.30 L173.80,254.06 L172.59,253.80 L171.40,253.52 L170.20,253.23 L169.01,252.93 L167.83,252.61 L161.09,276.89 L162.59,277.29 L164.09,277.68 L165.61,278.05 L167.12,278.40 L168.64,278.72 L170.17,279.03 L171.70,279.32 L173.23,279.59 L174.77,279.84 Z" fill="#D9D9D9"/>
<path d="M178.63,254.94 L177.42,254.74 L176.21,254.53 L175.00,254.30 L173.80,254.06 L172.59,253.80 L171.40,253.52 L170.20,253.23 L169.01,252.93 L167.83,252.61 L165.00,262.80 L166.31,263.16 L167.64,263.50 L168.96,263.82 L170.30,264.13 L171.63,264.42 L172.97,264.69 L174.31,264.94 L175.66,265.18 L177.01,265.40 Z" fill="#66C2A5"/>
<path d="M165.14,251.82 L163.97,251.45 L162.80,251.06 L161.64,250.66 L160.48,250.24 L159.33,249.81 L158.18,249.37 L157.04,248.91 L155.91,248.43 L154.78,247.95 L144.61,271.00 L146.04,271.62 L147.47,272.22 L148.91,272.80 L150.35,273.36 L151.81,273.90 L153.27,274.43 L154.74,274.94 L156.21,275.42 L157.69,275.89 Z" fill="#D9D9D9"/>
<path d="M165.14,251.82 L163.97,251.45 L162.80,251.06 L161.64,250.66 L160.48,250.24 L159.33,249.81 L158.18,249.37 L157.04,248.91 L155.91,248.43 L154.78,247.95 L151.12,256.25 L152.36,256.78 L153.60,257.30 L154.84,257.80 L156.10,258.29 L157.36,258.76 L158.62,259.22 L159.90,259.66 L161.17,260.08 L162.46,260.48 Z" fill="#E5C494"/>
<path d="M152.24,246.78 L151.13,246.24 L150.03,245.69 L148.94,245.13 L147.85,244.55 L146.78,243.96 L145.71,243.36 L144.64,242.74 L143.59,242.11 L142.54,241.46 L129.19,262.83 L130.50,263.64 L131.83,264.44 L133.17,265.22 L134.52,265.98 L135.88,266.72 L137.24,267.45 L138.62,268.16 L140.01,268.86 L141.40,269.53 Z" fill="#D9D9D9"/>
<path d="M152.24,246.78 L151.13,246.24 L150.03,245.69 L148.94,245.13 L147.85,244.55 L146.78,243.96 L145.71,243.36 L144.64,242.74 L143.59,242.11 L142.54,241.46 L138.27,248.30 L139.40,249.00 L140.54,249.68 L141.69,250.35 L142.85,251.01 L144.02,251.65 L145.20,252.27 L146.38,252.88 L147.57,253.48 L148.77,254.06 Z" fill="#E78AC3"/>
<path d="M140.19,239.94 L139.17,239.26 L138.16,238.56 L137.16,237.84 L136.17,237.12 L135.19,236.38 L134.21,235.63 L133.25,234.87 L132.30,234.09 L131.35,233.30 L115.10,252.57 L116.29,253.56 L117.49,254.53 L118.70,255.49 L119.93,256.43 L121.16,257.36 L122.41,258.27 L123.67,259.17 L124.94,260.05 L126.22,260.92 Z" fill="#D9D9D9"/>
<path d="M140.19,239.94 L139.17,239.26 L138.16,238.56 L137.16,237.84 L136.17,237.12 L135.19,236.38 L134.21,235.63 L133.25,234.87 L132.30,234.09 L131.35,233.30 L119.65,247.17 L120.77,248.11 L121.90,249.02 L123.05,249.93 L124.20,250.82 L125.36,251.69 L126.54,252.55 L127.73,253.40 L128.93,254.23 L130.13,255.05 Z" fill="#FC8D62"/>
<path d="M129.24,231.47 L128.32,230.64 L127.42,229.81 L126.53,228.96 L125.65,228.10 L124.78,227.23 L123.93,226.35 L123.08,225.46 L122.24,224.56 L121.42,223.65 L102.63,240.45 L103.67,241.59 L104.72,242.72 L105.78,243.84 L106.86,244.94 L107.95,246.03 L109.05,247.11 L110.17,248.18 L111.30,249.23 L112.45,250.26 Z" fill="#D9D9D9"/>
<path d="M129.24,231.47 L128.32,230.64 L127.42,229.81 L126.53,228.96 L125.65,228.10 L124.78,227.23 L123.93,226.35 L123.08,225.46 L122.24,224.56 L121.42,223.65 L106.39,237.09 L107.38,238.19 L108.39,239.27 L109.41,240.34 L110.44,241.40 L111.49,242.45 L112.55,243.48 L113.62,244.50 L114.71,245.51 L115.80,246.50 Z" fill="#8FF6EB"/>
<path d="M119.58,221.54 L118.79,220.59 L118.02,219.64 L117.25,218.68 L116.50,217.71 L115.76,216.72 L115.04,215.73 L114.32,214.73 L113.62,213.73 L112.93,212.71 L91.99,226.73 L92.86,228.01 L93.74,229.27 L94.63,230.52 L95.54,231.76 L96.47,232.99 L97.41,234.21 L98.37,235.42 L99.34,236.61 L100.33,237.80 Z" fill="#D9D9D9"/>
<path d="M119.58,221.54 L118.79,220.59 L118.02,219.64 L117.25,218.68 L116.50,217.71 L115.76,216.72 L115.04,215.73 L114.32,214.73 L113.62,213.73 L112.93,212.71 L91.99,226.73 L92.86,228.01 L93.74,229.27 L94.63,230.52 L95.54,231.76 L96.47,232.99 L97.41,234.21 L98.37,235.42 L99.34,236.61 L100.33,237.80 Z" fill="#A6D854"/>
<path d="M111.40,210.36 L110.75,209.32 L110.12,208.26 L109.49,207.21 L108.88,206.14 L108.29,205.06 L107.70,203.98 L107.13,202.89 L106.57,201.80 L106.03,200.70 L83.36,211.71 L84.04,213.09 L84.74,214.45 L85.45,215.82 L86.18,217.17 L86.93,218.51 L87.69,219.85 L88.47,221.17 L89.27,222.49 L90.08,223.79 Z" fill="#D9D9D9"/>
<path d="M111.40,210.36 L110.75,209.32 L110.12,208.26 L109.49,207.21 L108.88,206.14 L108.29,205.06 L107.70,203.98 L107.13,202.89 L106.57,201.80 L106.03,200.70 L87.44,209.73 L88.10,211.05 L88.77,212.37 L89.46,213.69 L90.16,214.99 L90.88,216.29 L91.62,217.57 L92.37,218.85 L93.14,220.12 L93.92,221.38 Z" fill="#66C2A5"/>
<path d="M104.84,198.16 L104.34,197.04 L103.86,195.91 L103.39,194.77 L102.93,193.63 L102.48,192.49 L102.05,191.34 L101.64,190.18 L101.23,189.02 L100.85,187.85 L76.89,195.67 L77.37,197.13 L77.88,198.57 L78.40,200.02 L78.93,201.45 L79.49,202.89 L80.06,204.31 L80.65,205.73 L81.26,207.14 L81.88,208.54 Z" fill="#D9D9D9"/>
<path d="M104.84,198.16 L104.34,197.04 L103.86,195.91 L103.39,194.77 L102.93,193.63 L102.48,192.49 L102.05,191.34 L101.64,190.18 L101.23,189.02 L100.85,187.85 L78.57,195.12 L79.04,196.56 L79.54,197.99 L80.05,199.41 L80.58,200.83 L81.13,202.24 L81.69,203.64 L82.27,205.04 L82.87,206.43 L83.49,207.81 Z" fill="#E5C494"/>
<path d="M100.01,185.18 L99.67,184.00 L99.34,182.81 L99.03,181.62 L98.73,180.43 L98.45,179.24 L98.18,178.04 L97.92,176.84 L97.68,175.63 L97.45,174.42 L72.66,178.93 L72.94,180.44 L73.24,181.94 L73.56,183.44 L73.90,184.93 L74.25,186.42 L74.63,187.91 L75.02,189.39 L75.42,190.86 L75.85,192.34 Z" fill="#D9D9D9"/>
<path d="M100.01,185.18 L99.67,184.00 L99.34,182.81 L99.03,181.62 L98.73,180.43 L98.45,179.24 L98.18,178.04 L97.92,176.84 L97.68,175.63 L97.45,174.42 L83.07,177.04 L83.33,178.42 L83.61,179.79 L83.90,181.17 L84.21,182.54 L84.53,183.90 L84.88,185.27 L85.23,186.63 L85.61,187.98 L86.00,189.33 Z" fill="#E78AC3"/>
<path d="M96.99,171.66 L96.81,170.45 L96.64,169.23 L96.49,168.01 L96.36,166.79 L96.23,165.56 L96.13,164.34 L96.04,163.11 L95.96,161.89 L95.89,160.66 L70.72,161.80 L70.80,163.33 L70.90,164.86 L71.01,166.38 L71.14,167.90 L71.29,169.43 L71.46,170.95 L71.65,172.46 L71.86,173.98 L72.08,175.49 Z" fill="#D9D9D9"/>
<path d="M96.99,171.66 L96.81,170.45 L96.64,169.23 L96.49,168.01 L96.36,166.79 L96.23,165.56 L96.13,164.34 L96.04,163.11 L95.96,161.89 L95.89,160.66 L75.76,161.58 L75.83,163.04 L75.92,164.51 L76.03,165.97 L76.16,167.44 L76.31,168.90 L76.47,170.36 L76.65,171.82 L76.85,173.27 L77.06,174.73 Z" fill="#FC8D62"/>
<path d="M95.80,157.86 L95.79,156.63 L95.79,155.40 L95.80,154.17 L95.83,152.94 L95.87,151.72 L95.93,150.49 L96.00,149.26 L96.09,148.04 L96.19,146.81 L71.09,144.60 L70.96,146.12 L70.85,147.64 L70.76,149.17 L70.69,150.69 L70.64,152.22 L70.61,153.74 L70.59,155.27 L70.59,156.80 L70.61,158.33 Z" fill="#D9D9D9"/>
<path d="M95.80,157.86 L95.79,156.63 L95.79,155.40 L95.80,154.17 L95.83,152.94 L95.87,151.72 L95.93,150.49 L96.00,149.26 L96.09,148.04 L96.19,146.81 L75.35,144.98 L75.23,146.45 L75.13,147.92 L75.04,149.39 L74.97,150.87 L74.92,152.34 L74.89,153.82 L74.87,155.29 L74.87,156.77 L74.89,158.25 Z" fill="#8FF6EB"/>
<path d="M96.47,144.02 L96.62,142.80 L96.78,141.59 L96.96,140.37 L97.15,139.16 L97.35,137.94 L97.57,136.73 L97.80,135.53 L98.05,134.32 L98.31,133.12 L73.72,127.62 L73.40,129.11 L73.09,130.61 L72.80,132.10 L72.53,133.60 L72.28,135.10 L72.04,136.61 L71.82,138.12 L71.62,139.63 L71.44,141.14 Z" fill="#D9D9D9"/>
<path d="M96.47,144.02 L96.62,142.80 L96.78,141.59 L96.96,140.37 L97.15,139.16 L97.35,137.94 L97.57,136.73 L97.80,135.53 L98.05,134.32 L98.31,133.12 L73.72,127.62 L73.40,129.11 L73.09,130.61 L72.80,132.10 L72.53,133.60 L72.28,135.10 L72.04,136.61 L71.82,138.12 L71.62,139.63 L71.44,141.14 Z" fill="#A6D854"/>
<path d="M98.96,130.40 L99.27,129.21 L99.59,128.02 L99.92,126.84 L100.27,125.66 L100.63,124.48 L101.01,123.31 L101.40,122.15 L101.80,120.99 L102.21,119.83 L78.55,111.17 L78.04,112.60 L77.54,114.04 L77.06,115.48 L76.59,116.93 L76.14,118.38 L75.71,119.84 L75.30,121.31 L74.90,122.78 L74.52,124.25 Z" fill="#D9D9D9"/>
<path d="M98.96,130.40 L99.27,129.21 L99.59,128.02 L99.92,126.84 L100.27,125.66 L100.63,124.48 L101.01,123.31 L101.40,122.15 L101.80,120.99 L102.21,119.83 L82.81,112.73 L82.31,114.11 L81.83,115.50 L81.37,116.89 L80.92,118.29 L80.49,119.69 L80.07,121.10 L79.67,122.51 L79.29,123.93 L78.92,125.36 Z" fill="#66C2A5"/>
<path d="M103.21,117.21 L103.67,116.07 L104.14,114.94 L104.63,113.81 L105.13,112.69 L105.64,111.57 L106.16,110.46 L106.70,109.35 L107.25,108.25 L107.81,107.16 L85.47,95.50 L84.78,96.85 L84.10,98.21 L83.43,99.58 L82.79,100.95 L82.15,102.33 L81.54,103.72 L80.94,105.12 L80.35,106.52 L79.78,107.93 Z" fill="#D9D9D9"/>
<path d="M103.21,117.21 L103.67,116.07 L104.14,114.94 L104.63,113.81 L105.13,112.69 L105.64,111.57 L106.16,110.46 L106.70,109.35 L107.25,108.25 L107.81,107.16 L86.59,96.08 L85.90,97.42 L85.23,98.77 L84.57,100.12 L83.93,101.48 L83.30,102.85 L82.69,104.23 L82.10,105.61 L81.52,107.00 L80.96,108.39 Z" fill="#E5C494"/>
<path d="M109.14,104.69 L109.74,103.62 L110.36,102.56 L110.99,101.50 L111.63,100.45 L112.28,99.41 L112.94,98.38 L113.61,97.35 L114.30,96.33 L115.00,95.32 L94.34,80.88 L93.48,82.13 L92.63,83.39 L91.80,84.66 L90.98,85.93 L90.18,87.22 L89.39,88.52 L88.62,89.82 L87.86,91.13 L87.11,92.46 Z" fill="#D9D9D9"/>
<path d="M109.14,104.69 L109.74,103.62 L110.36,102.56 L110.99,101.50 L111.63,100.45 L112.28,99.41 L112.94,98.38 L113.61,97.35 L114.30,96.33 L115.00,95.32 L102.19,86.37 L101.39,87.53 L100.61,88.69 L99.83,89.87 L99.07,91.05 L98.33,92.25 L97.60,93.45 L96.88,94.66 L96.17,95.88 L95.48,97.11 Z" fill="#E78AC3"/>
<path d="M116.63,93.04 L117.37,92.06 L118.12,91.08 L118.87,90.12 L119.64,89.16 L120.42,88.21 L121.21,87.26 L122.01,86.33 L122.82,85.41 L123.65,84.49 L105.00,67.54 L103.99,68.67 L102.99,69.81 L102.00,70.95 L101.03,72.11 L100.07,73.29 L99.12,74.47 L98.19,75.66 L97.27,76.86 L96.36,78.08 Z" fill="#D9D9D9"/>
<path d="M116.63,93.04 L117.37,92.06 L118.12,91.08 L118.87,90.12 L119.64,89.16 L120.42,88.21 L121.21,87.26 L122.01,86.33 L122.82,85.41 L123.65,84.49 L109.66,71.78 L108.70,72.85 L107.74,73.94 L106.80,75.03 L105.88,76.14 L104.96,77.25 L104.06,78.38 L103.17,79.52 L102.29,80.66 L101.43,81.82 Z" fill="#FC8D62"/>
<path d="M125.56,82.45 L126.41,81.56 L127.28,80.69 L128.15,79.83 L129.03,78.97 L129.93,78.13 L130.83,77.30 L131.74,76.47 L132.67,75.66 L133.60,74.86 L117.25,55.68 L116.10,56.67 L114.97,57.67 L113.85,58.68 L112.73,59.71 L111.63,60.74 L110.55,61.80 L109.47,62.86 L108.40,63.93 L107.35,65.02 Z" fill="#D9D9D9"/>
<path d="M125.56,82.45 L126.41,81.56 L127.28,80.69 L128.15,79.83 L129.03,78.97 L129.93,78.13 L130.83,77.30 L131.74,76.47 L132.67,75.66 L133.60,74.86 L120.19,59.13 L119.08,60.09 L117.99,61.05 L116.90,62.03 L115.83,63.02 L114.77,64.03 L113.71,65.04 L112.67,66.07 L111.65,67.11 L110.63,68.16 Z" fill="#8FF6EB"/>
<path d="M135.75,73.07 L136.71,72.30 L137.68,71.54 L138.65,70.80 L139.64,70.06 L140.63,69.34 L141.63,68.62 L142.64,67.92 L143.66,67.23 L144.68,66.55 L130.87,45.47 L129.62,46.31 L128.37,47.16 L127.13,48.02 L125.90,48.89 L124.68,49.78 L123.47,50.69 L122.27,51.61 L121.08,52.54 L119.90,53.48 Z" fill="#D9D9D9"/>
<path d="M135.75,73.07 L136.71,72.30 L137.68,71.54 L138.65,70.80 L139.64,70.06 L140.63,69.34 L141.63,68.62 L142.64,67.92 L143.66,67.23 L144.68,66.55 L130.87,45.47 L129.62,46.31 L128.37,47.16 L127.13,48.02 L125.90,48.89 L124.68,49.78 L123.47,50.69 L122.27,51.61 L121.08,52.54 L119.90,53.48 Z" fill="#A6D854"/>
<path d="M147.05,65.05 L148.09,64.41 L149.15,63.78 L150.21,63.16 L151.28,62.55 L152.36,61.96 L153.44,61.37 L154.53,60.80 L155.62,60.25 L156.72,59.70 L145.65,37.06 L144.30,37.73 L142.96,38.42 L141.62,39.12 L140.29,39.83 L138.97,40.56 L137.66,41.31 L136.36,42.06 L135.06,42.84 L133.77,43.63 Z" fill="#D9D9D9"/>
<path d="M147.05,65.05 L148.09,64.41 L149.15,63.78 L150.21,63.16 L151.28,62.55 L152.36,61.96 L153.44,61.37 L154.53,60.80 L155.62,60.25 L156.72,59.70 L147.31,40.46 L146.00,41.11 L144.69,41.78 L143.39,42.46 L142.10,43.15 L140.82,43.86 L139.54,44.58 L138.28,45.32 L137.02,46.07 L135.76,46.84 Z" fill="#66C2A5"/>
<path d="M159.25,58.50 L160.37,58.00 L161.50,57.50 L162.63,57.02 L163.77,56.55 L164.91,56.10 L166.05,55.65 L167.21,55.22 L168.36,54.80 L169.52,54.40 L161.34,30.56 L159.92,31.06 L158.50,31.57 L157.09,32.10 L155.68,32.64 L154.29,33.20 L152.89,33.78 L151.51,34.37 L150.13,34.97 L148.75,35.59 Z" fill="#D9D9D9"/>
<path d="M159.25,58.50 L160.37,58.00 L161.50,57.50 L162.63,57.02 L163.77,56.55 L164.91,56.10 L166.05,55.65 L167.21,55.22 L168.36,54.80 L169.52,54.40 L161.75,31.76 L160.34,32.25 L158.93,32.76 L157.54,33.28 L156.15,33.82 L154.76,34.37 L153.38,34.94 L152.01,35.52 L150.64,36.12 L149.28,36.74 Z" fill="#E5C494"/>
<path d="M172.18,53.52 L173.36,53.16 L174.53,52.81 L175.71,52.47 L176.90,52.14 L178.09,51.83 L179.28,51.53 L180.48,51.25 L181.68,50.97 L182.88,50.71 L177.68,26.06 L176.21,26.37 L174.75,26.71 L173.28,27.06 L171.83,27.42 L170.37,27.80 L168.92,28.20 L167.47,28.62 L166.03,29.05 L164.59,29.49 Z" fill="#D9D9D9"/>
<path d="M172.18,53.52 L173.36,53.16 L174.53,52.81 L175.71,52.47 L176.90,52.14 L178.09,51.83 L179.28,51.53 L180.48,51.25 L181.68,50.97 L182.88,50.71 L179.66,35.43 L178.29,35.72 L176.92,36.03 L175.56,36.36 L174.21,36.70 L172.85,37.05 L171.50,37.42 L170.16,37.81 L168.81,38.21 L167.48,38.62 Z" fill="#E78AC3"/>
<path d="M185.62,50.17 L186.83,49.95 L188.05,49.75 L189.26,49.56 L190.48,49.38 L191.69,49.22 L192.91,49.07 L194.14,48.93 L195.36,48.81 L196.58,48.69 L194.44,23.59 L192.94,23.72 L191.45,23.87 L189.95,24.04 L188.46,24.23 L186.97,24.43 L185.49,24.64 L184.00,24.88 L182.52,25.13 L181.04,25.39 Z" fill="#D9D9D9"/>
<path d="M185.62,50.17 L186.83,49.95 L188.05,49.75 L189.26,49.56 L190.48,49.38 L191.69,49.22 L192.91,49.07 L194.14,48.93 L195.36,48.81 L196.58,48.69 L195.04,30.62 L193.62,30.74 L192.20,30.89 L190.78,31.05 L189.37,31.22 L187.96,31.41 L186.54,31.62 L185.14,31.84 L183.73,32.08 L182.32,32.33 Z" fill="#FC8D62"/>
<path d="M199.12,131.88 L199.44,131.81 L199.76,131.74 L200.09,131.67 L200.41,131.61 L200.74,131.55 L201.07,131.49 L201.40,131.44 L201.73,131.39 L202.06,131.34 L202.39,131.30 L202.73,131.26 L203.07,131.23 L203.40,131.20 L203.74,131.17 L204.08,131.14 L204.42,131.12 L204.76,131.11 L205.10,131.09 L205.44,131.08 L205.79,131.08 L206.13,131.07 L206.47,131.08 L206.82,131.08 L207.17,131.09 L207.51,131.10 L207.86,131.12 L208.21,131.14 L208.56,131.16 L208.90,131.19 L209.25,131.23 L209.60,131.26 L209.95,131.30 L210.30,131.34 L210.65,131.39 L211.00,131.44 L211.35,131.50 L211.70,131.56 L212.05,131.62 L212.40,131.69 L212.75,131.76 L213.10,131.84 L213.45,131.92 L213.80,132.00 L214.15,132.09 L214.50,132.18 L214.85,132.27 L215.20,132.37 L215.55,132.47 L215.90,132.58 L216.25,132.69 L216.59,132.81 L216.94,132.93 L217.28,133.05 L217.63,133.18 L217.97,133.31 L218.32,133.44 L218.66,133.58 L219.00,133.73 L219.34,133.87 L219.68,134.02 L220.02,134.18 L220.36,134.34 L220.69,134.50 L221.03,134.67 L221.36,134.84 L221.70,135.01 L222.03,135.19 L222.36,135.37 L222.69,135.56 L223.02,135.75 L223.34,135.95 L223.67,136.14 L223.99,136.35 L224.31,136.55 L224.63,136.76 L224.95,136.98 L225.27,137.19 L225.58,137.42 L225.89,137.64 L226.21,137.87 L226.51,138.10 L226.82,138.34 L227.13,138.58 L227.43,138.83 L227.73,139.07 L228.03,139.33 L228.32,139.58 L228.62,139.84 L228.91,140.10 L229.20,140.37 L229.49,140.64 L229.77,140.91 L230.06,141.19 L230.33,141.47 L230.61,141.75 L230.89,142.04 L231.16,142.33 L231.43,142.63 L231.70,142.92 L231.96,143.23 L232.22,143.53 L232.48,143.84 L232.73,144.15 L232.99,144.47 L233.24,144.78 L233.48,145.10 L233.73,145.43 L233.97,145.76 L234.20,146.09 L234.44,146.42 L234.67,146.76 L234.90,147.10 L235.12,147.44 L235.34,147.79 L235.56,148.14 L235.77,148.49 L235.98,148.84 L236.19,149.20 L236.39,149.56 L236.59,149.93 L236.79,150.29 L236.98,150.66 L237.17,151.03 L237.36,151.41 L237.54,151.79 L237.72,152.17 L237.89,152.55 L238.06,152.93 L238.23,153.32 L238.39,153.71 L238.55,154.10 L238.70,154.50 L238.86,154.89 L239.00,155.29 L239.14,155.69 L239.28,156.10 L239.42,156.50 L239.55,156.91 L239.67,157.32 L239.80,157.73 L239.91,158.14 L240.03,158.56 L240.14,158.98 L240.24,159.40 L240.34,159.82 L240.44,160.24 L240.53,160.67 L240.62,161.09 L240.70,161.52 L240.78,161.95 L240.85,162.38 L240.92,162.81 L240.98,163.25 L241.04,163.68 L241.10,164.12 L241.15,164.56 L241.20,165.00 L241.24,165.44 L241.27,165.88 L241.31,166.32 L241.33,166.76 L241.36,167.21 L241.37,167.65 L241.39,168.10 L241.40,168.55 L241.40,169.00 L241.40,169.45 L241.39,169.89 L241.38,170.34 L241.36,170.80 L241.34,171.25 L241.32,171.70 L241.29,172.15 L241.25,172.60 L241.21,173.06 L241.17,173.51 L241.12,173.96 L241.06,174.42 L241.00,174.87 L240.94,175.32 L240.87,175.78 L240.79,176.23 L240.71,176.68 L240.63,177.14 L240.54,177.59 L240.44,178.04 L240.34,178.49 L240.24,178.95 L240.13,179.40 L240.01,179.85 L239.89,180.30 L239.77,180.75 L239.64,181.20 L239.50,181.65 L239.36,182.09 L239.22,182.54 L239.07,182.99 L238.91,183.43 L238.75,183.88 L238.59,184.32 L238.42,184.76 L238.24,185.20 L238.06,185.64 L237.88,186.08 L237.69,186.52 L237.49,186.95 L237.29,187.38 L237.09,187.82 L236.88,188.25 L236.66,188.68 L236.44,189.10 L236.22,189.53 L235.99,189.95 L235.75,190.38 L235.51,190.80 L235.27,191.21 L235.02,191.63 L234.77,192.04 L234.51,192.46 L234.24,192.87 L233.98,193.27 L233.70,193.68 L233.43,194.08 L233.14,194.48 L232.86,194.88 L232.56,195.28 L232.27,195.67 L231.97,196.06 L231.66,196.45 L231.35,196.83 L231.04,197.21 L230.72,197.59 L230.39,197.97 L230.07,198.34 L229.73,198.71 L229.40,199.08 L229.05,199.44 L228.71,199.81 L228.36,200.16 L228.00,200.52 L227.64,200.87 L227.28,201.22 L226.91,201.56 L226.54,201.90 L226.17,202.24 L225.79,202.57 L225.40,202.91 L225.01,203.23 L224.62,203.56 L224.23,203.87 L223.83,204.19 L223.42,204.50 L223.01,204.81 L222.60,205.11 L222.19,205.41 L221.77,205.71 L221.34,206.00 L220.92,206.29 L220.49,206.57 L220.05,206.85 L219.62,207.13 L219.18,207.40 L218.73,207.66 L218.28,207.92 L217.83,208.18 L217.38,208.44 L216.92,208.68 L216.46,208.93 L215.99,209.17 L215.52,209.40 L215.05,209.63 L214.58,209.86 L214.10,210.08 L213.62,210.29 L213.14,210.50 L212.65,210.71 L212.17,210.91 L211.67,211.11 L211.18,211.30 L210.68,211.48 L210.18,211.66 L209.68,211.84 L209.18,212.01 L208.67,212.18 L208.16,212.34 L207.65,212.49 L207.14,212.64 L206.62,212.78 L206.10,212.92 L205.58,213.06 L205.06,213.19 L204.53,213.31 L204.00,213.43 L203.48,213.54 L202.94,213.65 L202.41,213.75 L201.88,213.84 L201.34,213.93 L200.80,214.02 L200.27,214.09 L199.72,214.17 L199.18,214.23 L198.64,214.30 L198.09,214.35 L197.55,214.40 L197.00,214.45 L196.45,214.48 L195.90,214.52 L195.35,214.54 L194.80,214.57 L194.25,214.58 L193.69,214.59 L193.14,214.59 L192.58,214.59 L192.03,214.58 L191.47,214.57 L190.91,214.55 L190.36,214.52 L189.80,214.49 L189.24,214.45 L188.68,214.41 L188.12,214.36 L187.57,214.30 L187.01,214.24 L186.45,214.17 L185.89,214.09 L185.33,214.01 L184.77,213.93 L184.21,213.84 L183.65,213.74 L183.10,213.63 L182.54,213.52 L181.98,213.40 L181.43,213.28 L180.87,213.15 L180.32,213.02 L179.76,212.88 L179.21,212.73 L178.66,212.58 L178.11,212.42 L177.56,212.25 L177.01,212.08 L176.46,211.90 L175.91,211.72 L175.37,211.53 L174.82,211.33 L174.28,211.13 L173.74,210.92 L173.20,210.71 L172.66,210.49 L172.12,210.26 L171.59,210.03 L171.06,209.79 L170.53,209.55 L170.00,209.30 L169.47,209.04 L168.95,208.78 L168.42,208.52 L167.90,208.24 L167.39,207.96 L166.87,207.68 L166.36,207.39 L165.85,207.09 L165.34,206.79 L164.83,206.48 L164.33,206.17 L163.83,205.85 L163.33,205.52 L162.84,205.19 L162.35,204.85 L161.86,204.51 L161.37,204.16 L160.89,203.81 L160.41,203.45 L159.94,203.09 L159.46,202.72 L159.00,202.34 L158.53,201.96 L158.07,201.57 L157.61,201.18 L157.16,200.78 L156.70,200.38 L156.26,199.97 L155.81,199.56 L155.37,199.14 L154.94,198.72 L154.51,198.29 L154.08,197.86 L153.66,197.42 L153.24,196.98 L152.82,196.53 L152.41,196.08 L152.00,195.62 L151.60,195.15 L151.21,194.69 L150.81,194.21 L150.42,193.74 L150.04,193.26 L149.66,192.77 L149.29,192.28 L148.92,191.78 L148.55,191.28 L148.19,190.78 L147.84,190.27 L147.49,189.76 L147.15,189.24 L146.81,188.72 L146.47,188.19 L146.14,187.66 L145.82,187.13 L145.50,186.59 L145.19,186.05 L144.88,185.50 L144.58,184.95 L144.28,184.40 L143.99,183.84 L143.70,183.28 L143.42,182.71 L143.15,182.14 L142.88,181.57 L142.62,181.00 L142.36,180.42 L142.11,179.83 L141.87,179.25 L141.63,178.66 L141.39,178.07 L141.17,177.47 L140.95,176.87 L140.73,176.27 L140.52,175.67 L140.32,175.06 L140.13,174.45 L139.94,173.84 L139.75,173.22 L139.57,172.61 L139.40,171.99 L139.24,171.36 L139.08,170.74 L138.93,170.11 L138.78,169.48 L138.65,168.85 L138.51,168.21 L138.39,167.58 L138.27,166.94 L138.16,166.30 L138.05,165.66 L137.95,165.01 L137.86,164.37 L137.78,163.72 L137.70,163.07 L137.63,162.42 L137.56,161.77 L137.50,161.11 L137.45,160.46 L137.41,159.80 L137.37,159.15 L137.34,158.49 L137.32,157.83 L137.30,157.17 L137.29,156.51 L137.29,155.85 L137.30,155.18 L137.31,154.52 L137.33,153.86 L137.35,153.19 L137.39,152.53 L137.43,151.86 L137.47,151.20 L137.53,150.53 L137.59,149.87 L137.66,149.20 L137.73,148.54 L137.82,147.87 L137.91,147.21 L138.00,146.54 L138.11,145.88 L138.22,145.21 L138.34,144.55 L138.46,143.89 L138.60,143.23 L138.74,142.56 L138.88,141.90 L139.04,141.24 L139.20,140.59 L139.37,139.93 L139.54,139.27 L139.73,138.62 L139.92,137.96 L140.11,137.31 L140.32,136.66 L140.53,136.01 L140.75,135.36 L140.98,134.71 L141.21,134.07 L141.45,133.42 L141.70,132.78 L141.95,132.14 L142.21,131.51 L142.48,130.87 L142.75,130.24 L143.04,129.61 L143.32,128.98 L143.62,128.36 L143.92,127.73 L144.23,127.11 L144.55,126.49 L144.87,125.88 L145.20,125.27 L145.54,124.66 L145.89,124.05 L146.24,123.45 L146.59,122.85 L146.96,122.25 L147.33,121.66 L147.71,121.07 L148.09,120.48 L148.48,119.90 L148.88,119.32 L149.28,118.74 L149.70,118.17 L150.11,117.60 L150.54,117.03 L150.97,116.47 L151.40,115.92 L151.84,115.36 L152.29,114.81 L152.75,114.27 L153.21,113.73 L153.68,113.19 L154.15,112.66 L154.63,112.14 L155.12,111.61 L155.61,111.10 L156.11,110.58 L156.61,110.08 L157.12,109.57 L157.63,109.07 L158.16,108.58 L158.68,108.09 L159.21,107.61 L159.75,107.13 L160.30,106.66 L160.85,106.19 L161.40,105.73 L161.96,105.27 L162.53,104.82 L163.10,104.38 L163.67,103.94 L164.25,103.50 L164.84,103.07 L165.43,102.65 L166.03,102.23 L166.63,101.82 L167.24,101.42 L167.85,101.02 L168.46,100.63 L169.09,100.24 L169.71,99.86 L170.34,99.49 L170.98,99.12 L171.62,98.76 L172.26,98.40 L172.91,98.06 L173.56,97.71 L174.22,97.38 L174.88,97.05 L175.54,96.73 L176.21,96.41 L176.88,96.10 L177.56,95.80 L178.24,95.51 L178.92,95.22 L179.61,94.94 L180.30,94.67 L181.00,94.40 L181.70,94.14 L182.40,93.89 L183.11,93.64 L183.81,93.40 L184.53,93.17 L185.24,92.95 L185.96,92.74 L186.68,92.53 L187.40,92.33 L188.13,92.13 L188.86,91.95 L189.59,91.77 L190.32,91.60 L191.06,91.43 L191.80,91.28 L192.54,91.13 L193.28,90.99 L194.03,90.86 L194.78,90.73 L195.53,90.62 L196.28,90.51 L197.03,90.41 L197.79,90.31 L198.55,90.23 L199.31,90.15 L200.07,90.08 L200.83,90.02 L201.59,89.97 L202.35,89.92 L203.12,89.88 L203.89,89.85 L204.65,89.83 L205.42,89.82 L206.19,89.82 L206.96,89.82 L207.73,89.83 L208.50,89.85 L209.27,89.88 L210.05,89.91 L210.82,89.96 L211.59,90.01 L212.36,90.07 L213.14,90.14 L213.91,90.22 L214.68,90.30 L215.45,90.39 L216.22,90.50 L217.00,90.61 L217.77,90.72 L218.54,90.85 L219.31,90.99 L220.08,91.13 L220.84,91.28 L221.61,91.44 L222.38,91.61 L223.14,91.78 L223.91,91.97 L224.67,92.16 L225.43,92.36 L226.19,92.57 L226.95,92.79 L227.71,93.01 L228.46,93.25 L229.21,93.49 L229.96,93.74 L230.71,94.00 L231.46,94.27 L232.21,94.54 L232.95,94.82 L233.69,95.11 L234.43,95.41 L235.16,95.72 L235.89,96.03 L236.62,96.36 L237.35,96.69 L238.08,97.03 L238.80,97.37 L239.52,97.73 L240.23,98.09 L240.94,98.46 L241.65,98.84 L242.36,99.23 L243.06,99.62 L243.76,100.02 L244.45,100.43 L245.14,100.85 L245.83,101.28 L246.51,101.71 L247.19,102.15 L247.86,102.60 L248.53,103.05 L249.20,103.51 L249.86,103.98 L250.52,104.46 L251.17,104.95 L251.82,105.44 L252.47,105.94 L253.11,106.45 L253.74,106.96 L254.37,107.48 L254.99,108.01 L255.61,108.54 L256.23,109.09 L256.84,109.64 L257.44,110.19 L258.04,110.75 L258.63,111.32 L259.22,111.90 L259.80,112.48 L260.38,113.07 L260.95,113.67 L261.51,114.27 L262.07,114.88 L262.62,115.50 L263.17,116.12 L263.71,116.75 L264.24,117.38 L264.77,118.02 L265.29,118.67 L265.81,119.32 L266.32,119.98 L266.82,120.65 L267.31,121.32 L267.80,121.99 L268.28,122.68 L268.76,123.36 L269.23,124.06 L269.69,124.76 L270.14,125.46 L270.59,126.17 L271.03,126.89 L271.46,127.61 L271.89,128.33 L272.31,129.06 L272.72,129.80 L273.12,130.54 L273.52,131.28 L273.91,132.03 L274.29,132.79 L274.66,133.55 L275.03,134.31 L275.38,135.08 L275.73,135.85 L276.08,136.63 L276.41,137.41 L276.74,138.20 L277.05,138.99 L277.36,139.78 L277.66,140.58 L277.96,141.38 L278.24,142.19 L278.52,143.00 L278.79,143.81 L279.05,144.62 L279.30,145.44 L279.54,146.27 L279.78,147.09 L280.01,147.92 L280.22,148.75 L280.43,149.59 L280.63,150.43 L280.82,151.27 L281.01,152.11 L281.18,152.96 L281.35,153.80 L281.50,154.65 L281.65,155.51 L281.79,156.36 L281.92,157.22 L282.04,158.08 L282.15,158.94 L282.26,159.81 L282.35,160.67 L282.43,161.54 L282.51,162.41 L282.58,163.28 L282.63,164.15 L282.68,165.02 L282.72,165.89 L282.75,166.77 L282.77,167.64 L282.78,168.52 L282.79,169.40 L282.78,170.28 L282.76,171.15 L282.74,172.03 L282.70,172.91 L282.66,173.79 L282.60,174.67 L282.54,175.55 L282.47,176.43 L282.39,177.31 L282.29,178.20 L282.19,179.07 L282.08,179.95 L281.97,180.83 L281.84,181.71 L281.70,182.59 L281.55,183.47 L281.39,184.34 L281.23,185.22 L281.05,186.09 L280.87,186.96 L280.67,187.83 L280.47,188.70 L280.26,189.57 L280.04,190.44 L279.80,191.31 L279.56,192.17 L279.31,193.03 L279.05,193.89 L278.78,194.75 L278.51,195.60 L278.22,196.46 L277.92,197.31 L277.62,198.15 L277.30,199.00 L276.98,199.84 L276.64,200.68 L276.30,201.52 L275.95,202.35 L275.59,203.19 L275.22,204.01 L274.84,204.84 L274.45,205.66 L274.06,206.48 L273.65,207.29 L273.24,208.10 L272.82,208.91 L272.38,209.71 L271.94,210.51 L271.49,211.30 L271.03,212.10 L270.57,212.88 L270.09,213.66 L269.61,214.44 L269.11,215.21 L268.61,215.98 L268.10,216.75 L267.58,217.51 L267.06,218.26 L266.52,219.01 L265.98,219.75 L265.43,220.49 L264.87,221.22 L264.30,221.95 L263.72,222.67 L263.14,223.39 L262.55,224.10 L261.95,224.81 L261.34,225.51 L260.72,226.20 L260.10,226.89 L259.47,227.57 L258.83,228.25 L258.18,228.92 L257.53,229.58 L256.87,230.24 L256.20,230.89 L255.52,231.53 L254.84,232.17 L254.15,232.80 L253.45,233.42 L252.74,234.04 L252.03,234.64 L251.31,235.25 L250.59,235.84 L249.85,236.43 L249.12,237.01 L248.37,237.58 L247.62,238.15 L246.86,238.71 L246.09,239.26 L245.32,239.80 L244.54,240.34 L243.76,240.86 L242.97,241.38 L242.17,241.89 L241.37,242.40 L240.56,242.89 L239.74,243.38 L238.92,243.86 L238.10,244.33 L237.27,244.79 L236.43,245.24 L235.59,245.69 L234.74,246.12 L233.89,246.55 L233.03,246.97 L232.17,247.38 L231.30,247.78 L230.43,248.18 L229.55,248.56 L228.67,248.93 L227.78,249.30 L226.89,249.66 L226.00,250.00 L225.10,250.34 L224.19,250.67 L223.28,250.99 L222.37,251.30 L221.46,251.60 L220.54,251.89 L219.61,252.17 L218.69,252.45 L217.75,252.71 L216.82,252.96 L215.88,253.21 L214.94,253.44 L214.00,253.66 L213.05,253.88 L212.10,254.08 L211.15,254.28 L210.19,254.46 L209.24,254.64 L208.28,254.80 L207.31,254.96 L206.35,255.10 L205.38,255.23 L204.41,255.36 L203.44,255.47 L202.47,255.58 L201.49,255.67 L200.52,255.75 L199.54,255.83 L198.56,255.89 L197.58,255.94 L196.60,255.99 L195.61,256.02 L194.63,256.04 L193.64,256.05 L192.66,256.05 L191.67,256.04 L190.68,256.02 L189.70,255.99 L188.71,255.95 L187.72,255.90 L186.73,255.84 L185.74,255.77 L184.75,255.68 L183.77,255.59 L182.78,255.49 L181.79,255.37 L180.80,255.25 L179.82,255.11 L178.83,254.97 L177.85,254.81 L176.86,254.64 L175.88,254.47 L174.90,254.28 L173.92,254.08 L172.94,253.87 L171.97,253.65 L170.99,253.43 L170.02,253.19 L169.04,252.94 L168.07,252.67 L167.11,252.40 L166.14,252.12 L165.18,251.83 L164.22,251.53 L163.26,251.22 L162.30,250.89 L161.35,250.56 L160.40,250.22 L159.46,249.86 L158.51,249.50 L157.57,249.12 L156.63,248.74 L155.70,248.34 L154.77,247.94 L153.84,247.53 L152.92,247.10 L152.00,246.67 L151.09,246.22 L150.18,245.77 L149.27,245.30 L148.37,244.83 L147.47,244.34 L146.58,243.85 L145.69,243.35 L144.80,242.83 L143.92,242.31 L143.05,241.78 L142.18,241.23 L141.32,240.68 L140.46,240.12 L139.60,239.55 L138.76,238.97 L137.91,238.38 L137.08,237.78 L136.25,237.17 L135.42,236.56 L134.60,235.93 L133.79,235.30 L132.98,234.65 L132.18,234.00 L131.39,233.34 L130.60,232.66 L129.82,231.99 L129.04,231.30 L128.28,230.60 L127.52,229.89 L126.76,229.18 L126.01,228.46 L125.27,227.73 L124.54,226.99 L123.82,226.24 L123.10,225.49 L122.39,224.72 L121.69,223.95 L120.99,223.17 L120.30,222.38 L119.62,221.59 L118.95,220.79 L118.29,219.98 L117.63,219.16 L116.99,218.33 L116.35,217.50 L115.72,216.66 L115.10,215.82 L114.48,214.96 L113.88,214.10 L113.28,213.23 L112.69,212.36 L112.12,211.48 L111.55,210.59 L110.99,209.69 L110.43,208.79 L109.89,207.88 L109.36,206.97 L108.83,206.05 L108.32,205.12 L107.81,204.19 L107.32,203.25 L106.83,202.31 L106.36,201.36 L105.89,200.41 L105.43,199.44 L104.99,198.48 L104.55,197.51 L104.12,196.53 L103.71,195.55 L103.30,194.56 L102.90,193.57 L102.52,192.57 L102.14,191.57 L101.77,190.57 L101.42,189.56 L101.07,188.54 L100.74,187.52 L100.41,186.50 L100.10,185.47 L99.80,184.44 L99.51,183.40 L99.22,182.37 L98.95,181.32 L98.69,180.28 L98.44,179.23 L98.21,178.18 L97.98,177.12 L97.76,176.06 L97.56,175.00 L97.36,173.94 L97.18,172.87 L97.01,171.80 L96.85,170.73 L96.70,169.65 L96.56,168.57 L96.43,167.50 L96.32,166.41 L96.21,165.33 L96.12,164.25 L96.04,163.16 L95.97,162.07 L95.91,160.98 L95.86,159.89 L95.83,158.80 L95.80,157.71 L95.79,156.62 L95.79,155.52 L95.80,154.43 L95.82,153.33 L95.85,152.23 L95.90,151.14 L95.95,150.04 L96.02,148.94 L96.10,147.85 L96.19,146.75 L96.30,145.65 L96.41,144.56 L96.54,143.46 L96.68,142.37 L96.82,141.28 L96.99,140.18 L97.16,139.09 L97.34,138.00 L97.54,136.91 L97.75,135.82 L97.96,134.74 L98.20,133.65 L98.44,132.57 L98.69,131.49 L98.96,130.41 L99.23,129.33 L99.52,128.26 L99.82,127.18 L100.13,126.12 L100.46,125.05 L100.79,123.98 L101.14,122.92 L101.49,121.86 L101.86,120.81 L102.24,119.76 L102.63,118.71 L103.03,117.66 L103.45,116.62 L103.87,115.58 L104.31,114.55 L104.76,113.52 L105.21,112.49 L105.68,111.47 L106.16,110.45 L106.66,109.44 L107.16,108.43 L107.67,107.43 L108.20,106.43 L108.73,105.44 L109.28,104.45 L109.83,103.47 L110.40,102.49 L110.98,101.51 L111.57,100.55 L112.17,99.59 L112.78,98.63 L113.40,97.68 L114.03,96.74 L114.67,95.80 L115.32,94.87 L115.98,93.94 L116.65,93.02 L117.33,92.11 L118.02,91.20 L118.72,90.30 L119.44,89.41 L120.16,88.53 L120.89,87.65 L121.63,86.78 L122.38,85.91 L123.14,85.06 L123.91,84.21 L124.69,83.37 L125.47,82.53 L126.27,81.71 L127.08,80.89 L127.89,80.08 L128.72,79.28 L129.55,78.48 L130.39,77.70 L131.24,76.92 L132.10,76.15 L132.97,75.40 L133.85,74.64 L134.73,73.90 L135.62,73.17 L136.53,72.45 L137.44,71.73 L138.35,71.02 L139.28,70.33 L140.21,69.64 L141.15,68.96 L142.10,68.29 L143.06,67.64 L144.02,66.99 L145.00,66.35 L145.97,65.72 L146.96,65.10 L147.95,64.49 L148.95,63.89 L149.96,63.30 L150.97,62.72 L152.00,62.16 L153.02,61.60 L154.06,61.05 L155.10,60.51 L156.14,59.99 L157.19,59.47 L158.25,58.97 L159.32,58.47 L160.39,57.99 L161.46,57.52 L162.54,57.06 L163.63,56.61 L164.72,56.17 L165.82,55.74 L166.92,55.33 L168.03,54.92 L169.14,54.53 L170.26,54.15 L171.38,53.78 L172.51,53.42 L173.64,53.07 L174.77,52.74 L175.91,52.41 L177.05,52.10 L178.20,51.80 L179.35,51.52 L180.51,51.24 L181.66,50.98 L182.83,50.72 L183.99,50.49 L185.16,50.26 L186.33,50.04 L187.50,49.84 L188.68,49.65 L189.86,49.47 L191.04,49.30 L192.23,49.15 L193.41,49.01 L194.60,48.88 L195.79,48.76 L196.98,48.66 L198.18,48.57 L199.37,48.49" fill="none" stroke="#111" stroke-width="1.3"/>
<path d="M199.12,131.88 L199.71,134.42 M212.87,131.79 L212.33,134.33 M225.47,137.34 L223.97,139.46 M235.01,147.28 L232.83,148.70 M240.38,159.98 L237.84,160.56 M241.14,173.76 L238.56,173.47 M237.44,187.05 L235.08,185.97 M229.85,198.59 L227.92,196.85 M219.20,207.38 L217.85,205.16 M206.49,212.82 L205.81,210.31 M192.79,214.59 L192.80,211.99 M179.10,212.70 L179.79,210.19 M166.34,207.38 L167.63,205.12 M155.29,199.06 L157.09,197.19 M146.56,188.33 L148.76,186.95 M140.59,175.86 L143.05,175.02 M137.62,162.35 L140.21,162.08 M137.74,148.52 L140.32,148.83 M140.86,135.04 L143.32,135.90 M146.78,122.54 L149.00,123.89 M155.19,111.54 L157.08,113.32 M165.66,102.49 L167.15,104.62 M177.73,95.73 L178.77,98.11 M190.90,91.47 L191.45,94.01 M204.64,89.83 L204.70,92.43 M218.45,90.84 L218.01,93.40 M231.82,94.40 L230.92,96.84 M244.32,100.35 L242.99,102.59 M255.53,108.47 L253.82,110.43 M265.12,118.46 L263.09,120.08 M272.81,129.97 L270.53,131.22 M278.40,142.64 L275.94,143.48 M281.74,156.07 L279.18,156.48 M282.78,169.88 L280.18,169.86 M281.52,183.67 L278.96,183.22 M278.01,197.06 L275.56,196.20 M272.38,209.71 L270.10,208.47 M264.81,221.30 L262.75,219.71 M255.50,231.55 L253.71,229.66 M244.70,240.23 L243.23,238.08 M232.69,247.13 L231.58,244.79 M219.78,252.13 L219.03,249.64 M206.25,255.11 L205.89,252.54 M192.44,256.05 L192.45,253.45 M178.63,254.94 L179.03,252.37 M165.14,251.82 L165.91,249.33 M152.24,246.78 L153.36,244.43 M140.19,239.94 L141.63,237.78 M129.24,231.47 L130.97,229.53 M119.58,221.54 L121.57,219.86 M111.40,210.36 L113.60,208.97 M104.84,198.16 L107.21,197.09 M100.01,185.18 L102.51,184.44 M96.99,171.66 L99.56,171.27 M95.80,157.86 L98.40,157.81 M96.47,144.02 L99.05,144.32 M98.96,130.40 L101.48,131.03 M103.21,117.21 L105.63,118.17 M109.14,104.69 L111.41,105.96 M116.63,93.04 L118.73,94.59 M125.56,82.45 L127.43,84.24 M135.75,73.07 L137.39,75.09 M147.05,65.05 L148.41,67.26 M159.25,58.50 L160.34,60.87 M172.18,53.52 L172.96,56.00 M185.62,50.17 L186.10,52.73 M199.37,48.49 L199.53,51.09" stroke="#111" stroke-width="1.1" fill="none"/>
<path d="M199.37,48.49 L199.37,20.6 M197.77,20.6 L199.37,20.6 M199.37,34.5 L200.87,34.5 M199.37,48.49 L199.37,50.69" stroke="#111" stroke-width="1.1" fill="none"/>
<text id="s80" x="201.3" y="25.9" class="sl">80</text>
<text id="s0" x="202.4" y="53.3" class="sl">0</text>
<text id="sunit" x="223.4" y="38.0" class="sl" font-size="13.8px">(×10<tspan dy="-5" font-size="9.5px">-2</tspan><tspan dy="5"> t C·hm</tspan><tspan dy="-5" font-size="9.5px">-2</tspan><tspan dy="5">)</tspan></text>
<text id="sa_a" class="th" x="8.2" y="33.9" font-size="25px" fill="#111">(a)</text>
<text id="sa_XZD" class="th" x="78" y="56.4" font-size="13.8px" fill="#111">XZD</text>
<text id="sa_NX" class="th" x="307.2" y="127.1" font-size="13.8px" fill="#111">NX</text>
<text id="sa_WJ" class="th" x="45.9" y="156.3" font-size="13.8px" fill="#111">WJ</text>
<text id="sa_SB" class="th" x="297.7" y="239.6" font-size="13.8px" fill="#111">SB</text>
<text id="sa_GZ" class="th" x="86.1" y="259.9" font-size="13.8px" fill="#111">GZ</text>
<text id="sa_JJ" class="th" x="198.9" y="296.6" font-size="13.8px" fill="#111">JJ</text>
<text id="sa_LJ" class="th" x="203.4" y="104.6" font-size="13.8px" fill="#111">LJ</text>
<text id="sa_DW" class="th" x="186.6" y="148.4" font-size="13.8px" fill="#111">DW</text>
<text id="sa_JT" class="th" x="150.4" y="141.0" font-size="13.8px" fill="#111">JT</text>
<text id="sa_HTX" class="th" x="160.2" y="193.9" font-size="13.8px" fill="#111">HTX</text>
<text id="sa_SJ" class="th" x="217.4" y="188.8" font-size="13.8px" fill="#111">SJ</text>
<rect x="2" y="215.5" width="28.2" height="13.7" fill="#8FF6EB"/>
<text id="ap1" class="apl" x="33.8" y="226.7" font-size="12.4px" fill="#111">Period 1</text>
<rect x="2" y="231.3" width="28.2" height="13.7" fill="#A6D854"/>
<text id="ap2" class="apl" x="33.8" y="242.5" font-size="12.4px" fill="#111">Period 2</text>
<rect x="2" y="246.8" width="28.2" height="13.7" fill="#66C2A5"/>
<text id="ap3" class="apl" x="33.8" y="258.0" font-size="12.4px" fill="#111">Period 3</text>
<rect x="2" y="262.3" width="28.2" height="13.7" fill="#E5C494"/>
<text id="ap4" class="apl" x="33.8" y="273.5" font-size="12.4px" fill="#111">Period 4</text>
<rect x="2" y="278.1" width="28.2" height="13.7" fill="#E78AC3"/>
<text id="ap5" class="apl" x="33.8" y="289.3" font-size="12.4px" fill="#111">Period 5</text>
<rect x="2" y="293.6" width="28.2" height="13.7" fill="#FC8D62"/>
<text id="ap6" class="apl" x="33.8" y="304.8" font-size="12.4px" fill="#111">Period 6</text>
<defs><linearGradient id="gGZ5" gradientUnits="userSpaceOnUse" x1="493.28" y1="0" x2="507.20" y2="0"><stop offset="0" stop-color="#DCA431"/><stop offset="0.35" stop-color="#EDB84C"/><stop offset="0.7" stop-color="#EAAE34"/><stop offset="1" stop-color="#AD8126"/></linearGradient><linearGradient id="gJT5" gradientUnits="userSpaceOnUse" x1="480.45" y1="0" x2="494.51" y2="0"><stop offset="0" stop-color="#008700"/><stop offset="0.35" stop-color="#1F9D1F"/><stop offset="0.7" stop-color="#009000"/><stop offset="1" stop-color="#006B00"/></linearGradient><linearGradient id="gGZ4" gradientUnits="userSpaceOnUse" x1="511.74" y1="0" x2="526.01" y2="0"><stop offset="0" stop-color="#DCA431"/><stop offset="0.35" stop-color="#EDB84C"/><stop offset="0.7" stop-color="#EAAE34"/><stop offset="1" stop-color="#AD8126"/></linearGradient><linearGradient id="gLJ5" gradientUnits="userSpaceOnUse" x1="467.29" y1="0" x2="481.48" y2="0"><stop offset="0" stop-color="#E57EBF"/><stop offset="0.35" stop-color="#F595D1"/><stop offset="0.7" stop-color="#F486CB"/><stop offset="1" stop-color="#B56396"/></linearGradient><linearGradient id="gJT4" gradientUnits="userSpaceOnUse" x1="498.88" y1="0" x2="513.30" y2="0"><stop offset="0" stop-color="#008700"/><stop offset="0.35" stop-color="#1F9D1F"/><stop offset="0.7" stop-color="#009000"/><stop offset="1" stop-color="#006B00"/></linearGradient><linearGradient id="gDW5" gradientUnits="userSpaceOnUse" x1="453.78" y1="0" x2="468.11" y2="0"><stop offset="0" stop-color="#B2B2B2"/><stop offset="0.35" stop-color="#C5C5C5"/><stop offset="0.7" stop-color="#BDBDBD"/><stop offset="1" stop-color="#8C8C8C"/></linearGradient><linearGradient id="gGZ3" gradientUnits="userSpaceOnUse" x1="530.95" y1="0" x2="545.61" y2="0"><stop offset="0" stop-color="#DCA431"/><stop offset="0.35" stop-color="#EDB84C"/><stop offset="0.7" stop-color="#EAAE34"/><stop offset="1" stop-color="#AD8126"/></linearGradient><linearGradient id="gLJ4" gradientUnits="userSpaceOnUse" x1="485.69" y1="0" x2="500.25" y2="0"><stop offset="0" stop-color="#E57EBF"/><stop offset="0.35" stop-color="#F595D1"/><stop offset="0.7" stop-color="#F486CB"/><stop offset="1" stop-color="#B56396"/></linearGradient><linearGradient id="gNX5" gradientUnits="userSpaceOnUse" x1="439.90" y1="0" x2="454.38" y2="0"><stop offset="0" stop-color="#E49090"/><stop offset="0.35" stop-color="#F4A5A5"/><stop offset="0.7" stop-color="#F39999"/><stop offset="1" stop-color="#B47171"/></linearGradient><linearGradient id="gJT3" gradientUnits="userSpaceOnUse" x1="518.09" y1="0" x2="532.88" y2="0"><stop offset="0" stop-color="#008700"/><stop offset="0.35" stop-color="#1F9D1F"/><stop offset="0.7" stop-color="#009000"/><stop offset="1" stop-color="#006B00"/></linearGradient><linearGradient id="gDW4" gradientUnits="userSpaceOnUse" x1="472.14" y1="0" x2="486.84" y2="0"><stop offset="0" stop-color="#B2B2B2"/><stop offset="0.35" stop-color="#C5C5C5"/><stop offset="0.7" stop-color="#BDBDBD"/><stop offset="1" stop-color="#8C8C8C"/></linearGradient><linearGradient id="gGZ2" gradientUnits="userSpaceOnUse" x1="550.97" y1="0" x2="566.04" y2="0"><stop offset="0" stop-color="#DCA431"/><stop offset="0.35" stop-color="#EDB84C"/><stop offset="0.7" stop-color="#EAAE34"/><stop offset="1" stop-color="#AD8126"/></linearGradient><linearGradient id="gSB5" gradientUnits="userSpaceOnUse" x1="425.65" y1="0" x2="440.27" y2="0"><stop offset="0" stop-color="#92D432"/><stop offset="0.35" stop-color="#A7E54D"/><stop offset="0.7" stop-color="#9BE235"/><stop offset="1" stop-color="#73A727"/></linearGradient><linearGradient id="gLJ3" gradientUnits="userSpaceOnUse" x1="504.88" y1="0" x2="519.82" y2="0"><stop offset="0" stop-color="#E57EBF"/><stop offset="0.35" stop-color="#F595D1"/><stop offset="0.7" stop-color="#F486CB"/><stop offset="1" stop-color="#B56396"/></linearGradient><linearGradient id="gNX4" gradientUnits="userSpaceOnUse" x1="458.22" y1="0" x2="473.07" y2="0"><stop offset="0" stop-color="#E49090"/><stop offset="0.35" stop-color="#F4A5A5"/><stop offset="0.7" stop-color="#F39999"/><stop offset="1" stop-color="#B47171"/></linearGradient><linearGradient id="gJT2" gradientUnits="userSpaceOnUse" x1="538.12" y1="0" x2="553.32" y2="0"><stop offset="0" stop-color="#008700"/><stop offset="0.35" stop-color="#1F9D1F"/><stop offset="0.7" stop-color="#009000"/><stop offset="1" stop-color="#006B00"/></linearGradient><linearGradient id="gXZD5" gradientUnits="userSpaceOnUse" x1="411.00" y1="0" x2="425.79" y2="0"><stop offset="0" stop-color="#CCA4E8"/><stop offset="0.35" stop-color="#DEB8F8"/><stop offset="0.7" stop-color="#D9AEF7"/><stop offset="1" stop-color="#A181B7"/></linearGradient><linearGradient id="gDW3" gradientUnits="userSpaceOnUse" x1="491.30" y1="0" x2="506.39" y2="0"><stop offset="0" stop-color="#B2B2B2"/><stop offset="0.35" stop-color="#C5C5C5"/><stop offset="0.7" stop-color="#BDBDBD"/><stop offset="1" stop-color="#8C8C8C"/></linearGradient><linearGradient id="gGZ1" gradientUnits="userSpaceOnUse" x1="571.86" y1="0" x2="588.40" y2="0"><stop offset="0" stop-color="#DCA431"/><stop offset="0.35" stop-color="#EDB84C"/><stop offset="0.7" stop-color="#EAAE34"/><stop offset="1" stop-color="#AD8126"/></linearGradient><linearGradient id="gSB4" gradientUnits="userSpaceOnUse" x1="443.92" y1="0" x2="458.92" y2="0"><stop offset="0" stop-color="#92D432"/><stop offset="0.35" stop-color="#A7E54D"/><stop offset="0.7" stop-color="#9BE235"/><stop offset="1" stop-color="#73A727"/></linearGradient><linearGradient id="gLJ2" gradientUnits="userSpaceOnUse" x1="524.90" y1="0" x2="540.25" y2="0"><stop offset="0" stop-color="#E57EBF"/><stop offset="0.35" stop-color="#F595D1"/><stop offset="0.7" stop-color="#F486CB"/><stop offset="1" stop-color="#B56396"/></linearGradient><linearGradient id="gHTX5" gradientUnits="userSpaceOnUse" x1="395.94" y1="0" x2="410.90" y2="0"><stop offset="0" stop-color="#E3DC73"/><stop offset="0.35" stop-color="#F4ED8A"/><stop offset="0.7" stop-color="#F2EA7A"/><stop offset="1" stop-color="#B3AD5A"/></linearGradient><linearGradient id="gNX3" gradientUnits="userSpaceOnUse" x1="477.34" y1="0" x2="492.59" y2="0"><stop offset="0" stop-color="#E49090"/><stop offset="0.35" stop-color="#F4A5A5"/><stop offset="0.7" stop-color="#F39999"/><stop offset="1" stop-color="#B47171"/></linearGradient><linearGradient id="gJT1" gradientUnits="userSpaceOnUse" x1="559.01" y1="0" x2="574.67" y2="0"><stop offset="0" stop-color="#008700"/><stop offset="0.35" stop-color="#1F9D1F"/><stop offset="0.7" stop-color="#009000"/><stop offset="1" stop-color="#006B00"/></linearGradient><linearGradient id="gXZD4" gradientUnits="userSpaceOnUse" x1="429.20" y1="0" x2="444.37" y2="0"><stop offset="0" stop-color="#CCA4E8"/><stop offset="0.35" stop-color="#DEB8F8"/><stop offset="0.7" stop-color="#D9AEF7"/><stop offset="1" stop-color="#A181B7"/></linearGradient><linearGradient id="gDW2" gradientUnits="userSpaceOnUse" x1="511.30" y1="0" x2="526.81" y2="0"><stop offset="0" stop-color="#B2B2B2"/><stop offset="0.35" stop-color="#C5C5C5"/><stop offset="0.7" stop-color="#BDBDBD"/><stop offset="1" stop-color="#8C8C8C"/></linearGradient><linearGradient id="gGZ0" gradientUnits="userSpaceOnUse" x1="593.68" y1="0" x2="610.11" y2="0"><stop offset="0" stop-color="#DCA431"/><stop offset="0.35" stop-color="#EDB84C"/><stop offset="0.7" stop-color="#EAAE34"/><stop offset="1" stop-color="#AD8126"/></linearGradient><linearGradient id="gOT5" gradientUnits="userSpaceOnUse" x1="380.45" y1="0" x2="395.59" y2="0"><stop offset="0" stop-color="#77BFE3"/><stop offset="0.35" stop-color="#8ED1F4"/><stop offset="0.7" stop-color="#7FCBF2"/><stop offset="1" stop-color="#5E96B3"/></linearGradient><linearGradient id="gSB3" gradientUnits="userSpaceOnUse" x1="462.99" y1="0" x2="478.40" y2="0"><stop offset="0" stop-color="#92D432"/><stop offset="0.35" stop-color="#A7E54D"/><stop offset="0.7" stop-color="#9BE235"/><stop offset="1" stop-color="#73A727"/></linearGradient><linearGradient id="gLJ1" gradientUnits="userSpaceOnUse" x1="545.80" y1="0" x2="561.61" y2="0"><stop offset="0" stop-color="#E57EBF"/><stop offset="0.35" stop-color="#F595D1"/><stop offset="0.7" stop-color="#F486CB"/><stop offset="1" stop-color="#B56396"/></linearGradient><linearGradient id="gHTX4" gradientUnits="userSpaceOnUse" x1="414.06" y1="0" x2="429.41" y2="0"><stop offset="0" stop-color="#E3DC73"/><stop offset="0.35" stop-color="#F4ED8A"/><stop offset="0.7" stop-color="#F2EA7A"/><stop offset="1" stop-color="#B3AD5A"/></linearGradient><linearGradient id="gNX2" gradientUnits="userSpaceOnUse" x1="497.32" y1="0" x2="512.99" y2="0"><stop offset="0" stop-color="#E49090"/><stop offset="0.35" stop-color="#F4A5A5"/><stop offset="0.7" stop-color="#F39999"/><stop offset="1" stop-color="#B47171"/></linearGradient><linearGradient id="gJT0" gradientUnits="userSpaceOnUse" x1="580.85" y1="0" x2="596.97" y2="0"><stop offset="0" stop-color="#008700"/><stop offset="0.35" stop-color="#1F9D1F"/><stop offset="0.7" stop-color="#009000"/><stop offset="1" stop-color="#006B00"/></linearGradient><linearGradient id="gXZD3" gradientUnits="userSpaceOnUse" x1="448.22" y1="0" x2="463.80" y2="0"><stop offset="0" stop-color="#CCA4E8"/><stop offset="0.35" stop-color="#DEB8F8"/><stop offset="0.7" stop-color="#D9AEF7"/><stop offset="1" stop-color="#A181B7"/></linearGradient><linearGradient id="gDW1" gradientUnits="userSpaceOnUse" x1="532.21" y1="0" x2="548.17" y2="0"><stop offset="0" stop-color="#B2B2B2"/><stop offset="0.35" stop-color="#C5C5C5"/><stop offset="0.7" stop-color="#BDBDBD"/><stop offset="1" stop-color="#8C8C8C"/></linearGradient><linearGradient id="gOT4" gradientUnits="userSpaceOnUse" x1="398.49" y1="0" x2="414.02" y2="0"><stop offset="0" stop-color="#77BFE3"/><stop offset="0.35" stop-color="#8ED1F4"/><stop offset="0.7" stop-color="#7FCBF2"/><stop offset="1" stop-color="#5E96B3"/></linearGradient><linearGradient id="gSB2" gradientUnits="userSpaceOnUse" x1="482.93" y1="0" x2="498.77" y2="0"><stop offset="0" stop-color="#92D432"/><stop offset="0.35" stop-color="#A7E54D"/><stop offset="0.7" stop-color="#9BE235"/><stop offset="1" stop-color="#73A727"/></linearGradient><linearGradient id="gLJ0" gradientUnits="userSpaceOnUse" x1="567.65" y1="0" x2="583.94" y2="0"><stop offset="0" stop-color="#E57EBF"/><stop offset="0.35" stop-color="#F595D1"/><stop offset="0.7" stop-color="#F486CB"/><stop offset="1" stop-color="#B56396"/></linearGradient><linearGradient id="gHTX3" gradientUnits="userSpaceOnUse" x1="433.02" y1="0" x2="448.78" y2="0"><stop offset="0" stop-color="#E3DC73"/><stop offset="0.35" stop-color="#F4ED8A"/><stop offset="0.7" stop-color="#F2EA7A"/><stop offset="1" stop-color="#B3AD5A"/></linearGradient><linearGradient id="gNX1" gradientUnits="userSpaceOnUse" x1="518.21" y1="0" x2="534.34" y2="0"><stop offset="0" stop-color="#E49090"/><stop offset="0.35" stop-color="#F4A5A5"/><stop offset="0.7" stop-color="#F39999"/><stop offset="1" stop-color="#B47171"/></linearGradient><linearGradient id="gXZD2" gradientUnits="userSpaceOnUse" x1="468.12" y1="0" x2="484.13" y2="0"><stop offset="0" stop-color="#CCA4E8"/><stop offset="0.35" stop-color="#DEB8F8"/><stop offset="0.7" stop-color="#D9AEF7"/><stop offset="1" stop-color="#A181B7"/></linearGradient><linearGradient id="gDW0" gradientUnits="userSpaceOnUse" x1="554.07" y1="0" x2="570.52" y2="0"><stop offset="0" stop-color="#B2B2B2"/><stop offset="0.35" stop-color="#C5C5C5"/><stop offset="0.7" stop-color="#BDBDBD"/><stop offset="1" stop-color="#8C8C8C"/></linearGradient><linearGradient id="gOT3" gradientUnits="userSpaceOnUse" x1="417.37" y1="0" x2="433.31" y2="0"><stop offset="0" stop-color="#77BFE3"/><stop offset="0.35" stop-color="#8ED1F4"/><stop offset="0.7" stop-color="#7FCBF2"/><stop offset="1" stop-color="#5E96B3"/></linearGradient><linearGradient id="gSB1" gradientUnits="userSpaceOnUse" x1="503.80" y1="0" x2="520.10" y2="0"><stop offset="0" stop-color="#92D432"/><stop offset="0.35" stop-color="#A7E54D"/><stop offset="0.7" stop-color="#9BE235"/><stop offset="1" stop-color="#73A727"/></linearGradient><linearGradient id="gHTX2" gradientUnits="userSpaceOnUse" x1="452.86" y1="0" x2="469.06" y2="0"><stop offset="0" stop-color="#E3DC73"/><stop offset="0.35" stop-color="#F4ED8A"/><stop offset="0.7" stop-color="#F2EA7A"/><stop offset="1" stop-color="#B3AD5A"/></linearGradient><linearGradient id="gNX0" gradientUnits="userSpaceOnUse" x1="540.08" y1="0" x2="556.70" y2="0"><stop offset="0" stop-color="#E49090"/><stop offset="0.35" stop-color="#F4A5A5"/><stop offset="0.7" stop-color="#F39999"/><stop offset="1" stop-color="#B47171"/></linearGradient><linearGradient id="gXZD1" gradientUnits="userSpaceOnUse" x1="488.95" y1="0" x2="505.43" y2="0"><stop offset="0" stop-color="#CCA4E8"/><stop offset="0.35" stop-color="#DEB8F8"/><stop offset="0.7" stop-color="#D9AEF7"/><stop offset="1" stop-color="#A181B7"/></linearGradient><linearGradient id="gOT2" gradientUnits="userSpaceOnUse" x1="437.14" y1="0" x2="453.52" y2="0"><stop offset="0" stop-color="#77BFE3"/><stop offset="0.35" stop-color="#8ED1F4"/><stop offset="0.7" stop-color="#7FCBF2"/><stop offset="1" stop-color="#5E96B3"/></linearGradient><linearGradient id="gSB0" gradientUnits="userSpaceOnUse" x1="525.66" y1="0" x2="542.45" y2="0"><stop offset="0" stop-color="#92D432"/><stop offset="0.35" stop-color="#A7E54D"/><stop offset="0.7" stop-color="#9BE235"/><stop offset="1" stop-color="#73A727"/></linearGradient><linearGradient id="gHTX1" gradientUnits="userSpaceOnUse" x1="473.65" y1="0" x2="490.32" y2="0"><stop offset="0" stop-color="#E3DC73"/><stop offset="0.35" stop-color="#F4ED8A"/><stop offset="0.7" stop-color="#F2EA7A"/><stop offset="1" stop-color="#B3AD5A"/></linearGradient><linearGradient id="gXZD0" gradientUnits="userSpaceOnUse" x1="510.79" y1="0" x2="527.77" y2="0"><stop offset="0" stop-color="#CCA4E8"/><stop offset="0.35" stop-color="#DEB8F8"/><stop offset="0.7" stop-color="#D9AEF7"/><stop offset="1" stop-color="#A181B7"/></linearGradient><linearGradient id="gOT1" gradientUnits="userSpaceOnUse" x1="457.87" y1="0" x2="474.74" y2="0"><stop offset="0" stop-color="#77BFE3"/><stop offset="0.35" stop-color="#8ED1F4"/><stop offset="0.7" stop-color="#7FCBF2"/><stop offset="1" stop-color="#5E96B3"/></linearGradient><linearGradient id="gHTX0" gradientUnits="userSpaceOnUse" x1="495.45" y1="0" x2="512.63" y2="0"><stop offset="0" stop-color="#E3DC73"/><stop offset="0.35" stop-color="#F4ED8A"/><stop offset="0.7" stop-color="#F2EA7A"/><stop offset="1" stop-color="#B3AD5A"/></linearGradient><linearGradient id="gOT0" gradientUnits="userSpaceOnUse" x1="479.63" y1="0" x2="497.01" y2="0"><stop offset="0" stop-color="#77BFE3"/><stop offset="0.35" stop-color="#8ED1F4"/><stop offset="0.7" stop-color="#7FCBF2"/><stop offset="1" stop-color="#5E96B3"/></linearGradient></defs>
<path d="M379.20,206.41 L364.19,48.57 M394.55,198.61 L381.63,42.27 M409.48,191.03 L398.53,36.16 M424.02,183.64 L414.93,30.24 M438.16,176.45 L430.84,24.49 M451.94,169.46 L446.29,18.91 M465.36,162.64 L461.29,13.49 M478.44,155.99 L475.87,8.22 M491.19,149.51 L490.05,3.10 M607.88,206.50 L620.91,48.32 M585.85,194.50 L595.93,38.70 M564.75,183.01 L572.13,29.53 M544.53,171.99 L549.42,20.79 M525.13,161.42 L527.74,12.44 M506.49,151.26 L507.01,4.46 M369.28,189.91 L497.39,127.28 M621.14,192.13 L497.39,127.28 M367.13,168.75 L497.33,107.68 M623.09,170.88 L497.33,107.68 M364.92,146.90 L497.26,87.51 M625.10,148.92 L497.26,87.51 M362.62,124.32 L497.20,66.74 M627.18,126.23 L497.20,66.74 M360.25,100.97 L497.13,45.35 M629.33,102.76 L497.13,45.35 M357.80,76.81 L497.06,23.32 M631.56,78.46 L497.06,23.32 M499.73,291.02 L379.20,206.41 M515.46,280.71 L394.55,198.61 M530.71,270.72 L409.48,191.03 M545.48,261.04 L424.02,183.64 M559.81,251.65 L438.16,176.45 M573.71,242.54 L451.94,169.46 M587.20,233.71 L465.36,162.64 M600.30,225.12 L478.44,155.99 M613.03,216.78 L491.19,149.51 M480.25,288.15 L607.88,206.50 M458.26,272.44 L585.85,194.50 M437.33,257.50 L564.75,183.01 M417.37,243.25 L544.53,171.99 M398.33,229.66 L525.13,161.42 M380.15,216.67 L506.49,151.26" stroke="#DCDCDC" stroke-width="0.8" fill="none"/>
<path d="M355.26,51.79 L496.99,0.60 M496.99,0.60 L633.87,53.31 M371.36,210.40 L355.26,51.79 M497.45,146.33 L496.99,0.60 M371.36,210.40 L497.45,146.33 M619.26,212.70 L497.45,146.33" stroke="#9A9A9A" stroke-width="0.9" fill="none"/>
<path d="M493.28,153.66 L493.30,153.35 L500.12,59.52 L507.20,155.34 L507.19,155.66 L507.13,155.97 L507.01,156.27 L506.85,156.55 L506.63,156.82 L506.36,157.07 L506.04,157.30 L505.68,157.51 L505.28,157.70 L504.84,157.87 L504.37,158.00 L503.86,158.11 L503.32,158.20 L502.76,158.25 L502.18,158.28 L501.59,158.28 L500.98,158.25 L500.37,158.19 L499.76,158.10 L499.15,157.98 L498.55,157.84 L497.97,157.67 L497.40,157.48 L496.85,157.26 L496.33,157.03 L495.85,156.77 L495.39,156.50 L494.97,156.21 L494.59,155.92 L494.26,155.61 L493.97,155.29 L493.73,154.96 L493.54,154.64 L493.40,154.31 L493.32,153.99 Z" fill="url(#gGZ5)"/>
<path d="M480.45,160.25 L486.63,82.28 L494.51,161.97 L494.49,162.30 L494.42,162.62 L494.29,162.92 L494.12,163.21 L493.89,163.49 L493.61,163.75 L493.29,163.98 L492.92,164.20 L492.50,164.39 L492.05,164.56 L491.57,164.70 L491.05,164.82 L490.50,164.90 L489.94,164.96 L489.35,164.99 L488.75,164.98 L488.13,164.95 L487.52,164.89 L486.90,164.80 L486.29,164.68 L485.69,164.53 L485.10,164.36 L484.53,164.16 L483.98,163.94 L483.46,163.70 L482.97,163.44 L482.51,163.16 L482.10,162.87 L481.72,162.56 L481.39,162.24 L481.11,161.92 L480.88,161.58 L480.69,161.25 L480.56,160.91 L480.48,160.58 Z" fill="url(#gJT5)"/>
<path d="M511.74,163.59 L519.77,93.63 L526.01,165.67 L526.01,165.99 L525.95,166.32 L525.85,166.63 L525.69,166.92 L525.47,167.20 L525.21,167.46 L524.90,167.70 L524.54,167.92 L524.13,168.12 L523.69,168.29 L523.21,168.43 L522.70,168.55 L522.15,168.64 L521.58,168.69 L520.99,168.72 L520.38,168.72 L519.77,168.69 L519.14,168.62 L518.51,168.53 L517.89,168.41 L517.27,168.26 L516.67,168.09 L516.08,167.89 L515.52,167.66 L514.98,167.42 L514.47,167.15 L513.99,166.87 L513.56,166.57 L513.16,166.26 L512.81,165.94 L512.50,165.60 L512.24,165.27 L512.04,164.93 L511.88,164.59 L511.78,164.25 L511.74,163.91 Z" fill="url(#gGZ4)"/>
<path d="M467.29,167.01 L467.32,166.68 L473.30,116.10 L481.45,168.44 L481.48,168.78 L481.45,169.11 L481.37,169.44 L481.24,169.75 L481.05,170.05 L480.81,170.33 L480.53,170.60 L480.19,170.84 L479.81,171.06 L479.39,171.26 L478.93,171.43 L478.43,171.58 L477.91,171.70 L477.35,171.78 L476.77,171.84 L476.18,171.87 L475.57,171.87 L474.95,171.83 L474.33,171.77 L473.70,171.68 L473.09,171.55 L472.48,171.40 L471.89,171.23 L471.31,171.02 L470.76,170.80 L470.24,170.55 L469.75,170.28 L469.30,170.00 L468.89,169.69 L468.52,169.38 L468.19,169.05 L467.91,168.72 L467.68,168.38 L467.50,168.03 L467.38,167.69 L467.31,167.34 Z" fill="url(#gLJ5)"/>
<path d="M498.88,170.77 L498.90,170.43 L506.30,103.43 L513.30,172.57 L513.29,172.91 L513.23,173.24 L513.11,173.55 L512.94,173.86 L512.72,174.15 L512.44,174.41 L512.12,174.66 L511.75,174.89 L511.34,175.09 L510.89,175.26 L510.40,175.41 L509.87,175.53 L509.32,175.62 L508.74,175.68 L508.14,175.71 L507.53,175.70 L506.90,175.67 L506.27,175.60 L505.63,175.51 L505.00,175.39 L504.38,175.23 L503.78,175.05 L503.19,174.85 L502.62,174.62 L502.08,174.37 L501.57,174.09 L501.10,173.80 L500.66,173.50 L500.27,173.18 L499.92,172.85 L499.62,172.51 L499.36,172.16 L499.16,171.81 L499.02,171.46 L498.92,171.11 Z" fill="url(#gJT4)"/>
<path d="M453.78,173.94 L459.36,123.95 L468.09,175.41 L468.11,175.76 L468.07,176.10 L467.98,176.44 L467.84,176.76 L467.64,177.07 L467.39,177.36 L467.09,177.63 L466.75,177.88 L466.36,178.11 L465.93,178.31 L465.45,178.49 L464.95,178.64 L464.41,178.76 L463.85,178.85 L463.26,178.91 L462.66,178.94 L462.04,178.93 L461.41,178.90 L460.78,178.83 L460.15,178.74 L459.53,178.61 L458.92,178.46 L458.32,178.28 L457.75,178.07 L457.20,177.84 L456.68,177.58 L456.19,177.30 L455.74,177.01 L455.33,176.70 L454.96,176.38 L454.64,176.04 L454.36,175.70 L454.14,175.35 L453.97,174.99 L453.85,174.64 L453.79,174.29 Z" fill="url(#gDW5)"/>
<path d="M530.95,174.25 L540.96,78.08 L545.61,176.76 L545.56,177.09 L545.47,177.42 L545.31,177.72 L545.11,178.02 L544.85,178.29 L544.54,178.54 L544.18,178.77 L543.78,178.97 L543.33,179.15 L542.84,179.30 L542.32,179.42 L541.77,179.51 L541.19,179.57 L540.59,179.60 L539.97,179.60 L539.34,179.56 L538.70,179.50 L538.05,179.40 L537.41,179.27 L536.77,179.12 L536.15,178.94 L535.54,178.73 L534.96,178.50 L534.40,178.24 L533.87,177.96 L533.37,177.67 L532.91,177.36 L532.50,177.03 L532.13,176.70 L531.80,176.35 L531.53,176.00 L531.30,175.65 L531.13,175.29 L531.02,174.94 L530.96,174.59 Z" fill="url(#gGZ3)"/>
<path d="M485.69,177.81 L485.71,177.46 L492.74,146.59 L500.21,179.30 L500.25,179.66 L500.23,180.00 L500.16,180.34 L500.03,180.67 L499.86,180.98 L499.62,181.28 L499.34,181.55 L499.00,181.81 L498.62,182.04 L498.20,182.24 L497.74,182.42 L497.24,182.57 L496.70,182.70 L496.14,182.79 L495.55,182.85 L494.94,182.88 L494.32,182.87 L493.69,182.84 L493.05,182.77 L492.41,182.68 L491.77,182.55 L491.15,182.39 L490.54,182.21 L489.94,182.00 L489.38,181.76 L488.84,181.50 L488.33,181.22 L487.85,180.92 L487.42,180.61 L487.03,180.28 L486.68,179.94 L486.39,179.59 L486.14,179.23 L485.95,178.88 L485.81,178.52 L485.72,178.16 Z" fill="url(#gLJ4)"/>
<path d="M439.90,181.06 L445.57,144.41 L454.30,182.21 L454.37,182.57 L454.38,182.93 L454.33,183.28 L454.23,183.63 L454.08,183.96 L453.87,184.27 L453.61,184.57 L453.30,184.85 L452.94,185.11 L452.54,185.34 L452.10,185.55 L451.62,185.73 L451.10,185.89 L450.55,186.01 L449.98,186.10 L449.38,186.16 L448.77,186.19 L448.14,186.19 L447.51,186.15 L446.87,186.09 L446.24,185.99 L445.61,185.86 L445.00,185.70 L444.40,185.51 L443.82,185.30 L443.27,185.06 L442.75,184.80 L442.26,184.52 L441.81,184.21 L441.40,183.90 L441.04,183.56 L440.72,183.22 L440.45,182.87 L440.23,182.51 L440.07,182.14 L439.96,181.78 L439.90,181.42 Z" fill="url(#gNX5)"/>
<path d="M518.09,181.73 L518.10,181.38 L527.40,76.03 L532.88,183.61 L532.88,183.96 L532.83,184.31 L532.73,184.64 L532.56,184.95 L532.35,185.25 L532.08,185.53 L531.76,185.79 L531.39,186.03 L530.98,186.24 L530.52,186.42 L530.02,186.57 L529.49,186.70 L528.93,186.79 L528.34,186.85 L527.73,186.88 L527.10,186.88 L526.46,186.84 L525.81,186.77 L525.16,186.68 L524.52,186.55 L523.87,186.39 L523.25,186.20 L522.64,185.98 L522.05,185.75 L521.49,185.48 L520.96,185.20 L520.46,184.90 L520.01,184.58 L519.59,184.24 L519.22,183.90 L518.90,183.54 L518.63,183.18 L518.42,182.82 L518.25,182.45 L518.14,182.09 Z" fill="url(#gJT3)"/>
<path d="M472.14,185.04 L472.17,184.68 L478.98,156.64 L486.72,186.20 L486.81,186.57 L486.84,186.93 L486.82,187.29 L486.74,187.64 L486.60,187.97 L486.41,188.30 L486.17,188.60 L485.88,188.88 L485.53,189.14 L485.14,189.38 L484.71,189.59 L484.23,189.78 L483.72,189.93 L483.17,190.06 L482.60,190.15 L482.00,190.21 L481.39,190.24 L480.76,190.24 L480.12,190.21 L479.47,190.14 L478.82,190.04 L478.18,189.91 L477.55,189.75 L476.94,189.56 L476.34,189.34 L475.77,189.10 L475.23,188.83 L474.72,188.54 L474.25,188.24 L473.82,187.91 L473.43,187.57 L473.09,187.22 L472.80,186.87 L472.56,186.50 L472.37,186.13 L472.24,185.76 L472.16,185.40 Z" fill="url(#gDW4)"/>
<path d="M550.97,185.36 L563.06,81.34 L566.04,187.98 L566.01,188.33 L565.92,188.67 L565.78,188.99 L565.58,189.29 L565.33,189.58 L565.02,189.84 L564.66,190.08 L564.26,190.29 L563.81,190.48 L563.32,190.63 L562.79,190.76 L562.23,190.85 L561.64,190.91 L561.03,190.94 L560.39,190.94 L559.75,190.91 L559.09,190.84 L558.43,190.74 L557.77,190.61 L557.11,190.44 L556.47,190.25 L555.84,190.04 L555.23,189.79 L554.65,189.53 L554.10,189.24 L553.58,188.93 L553.10,188.61 L552.66,188.27 L552.27,187.92 L551.92,187.56 L551.63,187.19 L551.39,186.82 L551.20,186.45 L551.07,186.08 L550.99,185.72 Z" fill="url(#gGZ2)"/>
<path d="M425.65,188.74 L425.66,188.38 L425.72,188.02 L431.17,155.51 L440.22,189.56 L440.27,189.93 L440.27,190.30 L440.22,190.66 L440.11,191.01 L439.94,191.35 L439.72,191.68 L439.45,191.98 L439.13,192.27 L438.76,192.53 L438.35,192.78 L437.89,192.99 L437.40,193.18 L436.87,193.33 L436.31,193.46 L435.73,193.56 L435.12,193.62 L434.50,193.65 L433.87,193.64 L433.23,193.61 L432.58,193.54 L431.94,193.44 L431.31,193.31 L430.69,193.14 L430.09,192.95 L429.51,192.73 L428.96,192.49 L428.43,192.22 L427.95,191.93 L427.50,191.62 L427.10,191.29 L426.74,190.95 L426.42,190.59 L426.16,190.23 L425.95,189.86 L425.79,189.49 L425.69,189.11 Z" fill="url(#gSB5)"/>
<path d="M504.88,189.07 L504.89,188.71 L512.89,121.88 L519.82,191.00 L519.81,191.36 L519.75,191.71 L519.64,192.06 L519.47,192.38 L519.24,192.69 L518.96,192.98 L518.63,193.24 L518.25,193.48 L517.82,193.70 L517.36,193.89 L516.85,194.04 L516.31,194.17 L515.74,194.27 L515.14,194.33 L514.52,194.36 L513.88,194.36 L513.23,194.32 L512.58,194.25 L511.92,194.15 L511.27,194.02 L510.62,193.85 L509.99,193.66 L509.38,193.44 L508.79,193.19 L508.23,192.92 L507.70,192.63 L507.20,192.32 L506.75,191.99 L506.34,191.65 L505.97,191.29 L505.66,190.93 L505.39,190.56 L505.18,190.18 L505.02,189.81 L504.92,189.44 Z" fill="url(#gLJ3)"/>
<path d="M458.22,192.46 L458.26,192.10 L464.56,154.77 L472.97,193.66 L473.05,194.04 L473.07,194.41 L473.04,194.78 L472.95,195.14 L472.80,195.48 L472.60,195.81 L472.35,196.12 L472.04,196.41 L471.69,196.68 L471.28,196.93 L470.84,197.15 L470.35,197.34 L469.83,197.50 L469.27,197.62 L468.69,197.72 L468.08,197.78 L467.46,197.81 L466.82,197.81 L466.17,197.77 L465.52,197.70 L464.86,197.60 L464.22,197.47 L463.58,197.30 L462.97,197.11 L462.37,196.88 L461.80,196.63 L461.26,196.36 L460.75,196.07 L460.28,195.75 L459.85,195.42 L459.47,195.07 L459.13,194.71 L458.84,194.34 L458.61,193.97 L458.43,193.59 L458.30,193.21 L458.23,192.83 Z" fill="url(#gNX4)"/>
<path d="M538.12,192.80 L538.16,192.45 L548.69,105.73 L553.32,195.50 L553.29,195.85 L553.19,196.20 L553.04,196.53 L552.83,196.84 L552.56,197.14 L552.25,197.41 L551.88,197.65 L551.46,197.87 L551.00,198.06 L550.50,198.22 L549.96,198.35 L549.39,198.44 L548.79,198.51 L548.17,198.54 L547.53,198.54 L546.87,198.50 L546.21,198.43 L545.54,198.33 L544.87,198.19 L544.21,198.02 L543.56,197.83 L542.93,197.61 L542.32,197.36 L541.74,197.08 L541.19,196.78 L540.67,196.47 L540.19,196.13 L539.76,195.79 L539.37,195.43 L539.02,195.06 L538.73,194.68 L538.50,194.30 L538.32,193.92 L538.19,193.54 L538.13,193.17 Z" fill="url(#gJT2)"/>
<path d="M411.00,196.27 L411.01,195.89 L411.09,195.52 L416.88,173.37 L425.64,196.72 L425.74,197.11 L425.79,197.49 L425.78,197.87 L425.72,198.24 L425.59,198.60 L425.42,198.95 L425.19,199.28 L424.90,199.60 L424.57,199.89 L424.19,200.17 L423.76,200.41 L423.30,200.63 L422.79,200.83 L422.25,200.99 L421.68,201.12 L421.09,201.22 L420.47,201.28 L419.84,201.31 L419.20,201.31 L418.55,201.27 L417.90,201.20 L417.25,201.10 L416.61,200.96 L415.99,200.79 L415.38,200.59 L414.80,200.37 L414.25,200.12 L413.73,199.84 L413.24,199.54 L412.80,199.22 L412.40,198.88 L412.04,198.53 L411.73,198.17 L411.48,197.80 L411.27,197.42 L411.13,197.03 L411.03,196.65 Z" fill="url(#gXZD5)"/>
<path d="M491.30,196.61 L491.32,196.24 L498.72,147.25 L506.35,198.21 L506.39,198.59 L506.38,198.97 L506.31,199.33 L506.19,199.68 L506.00,200.01 L505.77,200.33 L505.47,200.63 L505.13,200.90 L504.74,201.15 L504.31,201.37 L503.83,201.56 L503.31,201.72 L502.76,201.85 L502.18,201.95 L501.57,202.02 L500.94,202.05 L500.29,202.04 L499.64,202.01 L498.97,201.93 L498.31,201.83 L497.65,201.69 L497.00,201.53 L496.37,201.33 L495.75,201.10 L495.16,200.85 L494.60,200.57 L494.07,200.27 L493.57,199.95 L493.12,199.61 L492.71,199.26 L492.35,198.89 L492.04,198.52 L491.78,198.14 L491.58,197.75 L491.43,197.37 L491.33,196.99 Z" fill="url(#gDW3)"/>
<path d="M571.86,196.96 L571.89,196.60 L588.40,51.62 L587.36,199.69 L587.35,200.06 L587.27,200.41 L587.14,200.75 L586.95,201.06 L586.70,201.36 L586.40,201.63 L586.04,201.88 L585.64,202.10 L585.18,202.30 L584.69,202.46 L584.16,202.59 L583.59,202.69 L582.99,202.75 L582.36,202.79 L581.71,202.78 L581.05,202.74 L580.37,202.67 L579.69,202.57 L579.01,202.43 L578.34,202.26 L577.67,202.06 L577.02,201.84 L576.39,201.58 L575.78,201.30 L575.21,201.00 L574.67,200.68 L574.16,200.34 L573.70,199.99 L573.29,199.62 L572.92,199.25 L572.61,198.87 L572.34,198.48 L572.14,198.09 L571.99,197.71 L571.90,197.33 Z" fill="url(#gGZ1)"/>
<path d="M443.92,200.09 L443.97,199.72 L450.44,176.35 L458.71,200.94 L458.84,201.33 L458.91,201.72 L458.92,202.10 L458.88,202.48 L458.78,202.84 L458.62,203.20 L458.41,203.54 L458.14,203.86 L457.82,204.16 L457.46,204.43 L457.04,204.69 L456.58,204.91 L456.09,205.10 L455.55,205.27 L454.99,205.40 L454.39,205.50 L453.77,205.57 L453.14,205.60 L452.49,205.59 L451.83,205.56 L451.17,205.48 L450.52,205.38 L449.86,205.24 L449.23,205.07 L448.60,204.87 L448.00,204.64 L447.43,204.38 L446.89,204.10 L446.38,203.80 L445.91,203.47 L445.49,203.13 L445.11,202.77 L444.78,202.40 L444.50,202.03 L444.27,201.64 L444.10,201.25 L443.98,200.86 L443.92,200.47 Z" fill="url(#gSB4)"/>
<path d="M524.90,200.45 L524.96,200.08 L533.71,153.31 L540.24,202.84 L540.25,203.22 L540.20,203.59 L540.10,203.94 L539.94,204.28 L539.72,204.60 L539.44,204.90 L539.11,205.18 L538.73,205.43 L538.31,205.66 L537.84,205.85 L537.33,206.02 L536.78,206.15 L536.20,206.25 L535.59,206.32 L534.95,206.35 L534.30,206.34 L533.64,206.31 L532.97,206.23 L532.29,206.13 L531.62,205.99 L530.95,205.82 L530.30,205.62 L529.67,205.39 L529.05,205.13 L528.47,204.85 L527.92,204.54 L527.40,204.22 L526.92,203.87 L526.49,203.52 L526.10,203.14 L525.77,202.76 L525.48,202.38 L525.25,201.99 L525.08,201.60 L524.96,201.21 L524.90,200.82 Z" fill="url(#gLJ2)"/>
<path d="M395.94,204.00 L395.97,203.62 L396.05,203.24 L401.70,182.24 L410.62,204.08 L410.77,204.47 L410.86,204.87 L410.90,205.26 L410.88,205.65 L410.81,206.03 L410.67,206.40 L410.48,206.76 L410.24,207.10 L409.94,207.43 L409.60,207.73 L409.20,208.01 L408.77,208.27 L408.29,208.49 L407.77,208.69 L407.22,208.86 L406.64,208.99 L406.03,209.09 L405.40,209.16 L404.76,209.19 L404.11,209.19 L403.45,209.15 L402.80,209.07 L402.14,208.97 L401.50,208.83 L400.87,208.65 L400.27,208.45 L399.68,208.22 L399.13,207.96 L398.61,207.67 L398.12,207.37 L397.68,207.04 L397.28,206.69 L396.93,206.33 L396.63,205.96 L396.38,205.57 L396.19,205.18 L396.05,204.79 L395.96,204.39 Z" fill="url(#gHTX5)"/>
<path d="M477.34,204.36 L477.37,203.98 L484.33,157.19 L492.56,206.01 L492.59,206.40 L492.57,206.78 L492.49,207.16 L492.36,207.52 L492.16,207.86 L491.91,208.19 L491.61,208.49 L491.26,208.77 L490.86,209.03 L490.41,209.25 L489.92,209.45 L489.39,209.62 L488.83,209.75 L488.23,209.85 L487.61,209.92 L486.98,209.95 L486.32,209.95 L485.66,209.91 L484.99,209.84 L484.32,209.73 L483.65,209.59 L483.00,209.41 L482.36,209.21 L481.74,208.98 L481.15,208.72 L480.58,208.43 L480.05,208.12 L479.56,207.79 L479.11,207.45 L478.71,207.08 L478.35,206.71 L478.04,206.32 L477.79,205.93 L477.59,205.54 L477.45,205.14 L477.37,204.75 Z" fill="url(#gNX3)"/>
<path d="M559.01,204.72 L559.05,204.35 L572.12,101.11 L574.67,207.54 L574.64,207.91 L574.56,208.27 L574.41,208.62 L574.21,208.94 L573.95,209.25 L573.64,209.53 L573.27,209.79 L572.86,210.02 L572.40,210.21 L571.89,210.38 L571.34,210.52 L570.77,210.62 L570.16,210.68 L569.52,210.72 L568.86,210.71 L568.19,210.67 L567.51,210.60 L566.82,210.49 L566.13,210.35 L565.45,210.18 L564.78,209.97 L564.13,209.74 L563.49,209.48 L562.89,209.19 L562.31,208.88 L561.77,208.55 L561.27,208.20 L560.81,207.84 L560.40,207.46 L560.03,207.08 L559.72,206.68 L559.47,206.29 L559.27,205.89 L559.12,205.50 L559.04,205.11 Z" fill="url(#gJT1)"/>
<path d="M429.20,208.33 L429.21,207.94 L429.27,207.55 L435.39,181.57 L444.19,208.81 L444.31,209.21 L444.37,209.61 L444.37,210.00 L444.32,210.39 L444.20,210.77 L444.04,211.13 L443.81,211.48 L443.53,211.81 L443.20,212.12 L442.82,212.40 L442.39,212.66 L441.92,212.89 L441.41,213.09 L440.87,213.26 L440.29,213.40 L439.69,213.50 L439.06,213.57 L438.41,213.60 L437.76,213.60 L437.09,213.56 L436.42,213.48 L435.76,213.37 L435.10,213.23 L434.46,213.06 L433.83,212.85 L433.23,212.61 L432.66,212.35 L432.12,212.06 L431.61,211.75 L431.14,211.41 L430.72,211.06 L430.35,210.70 L430.02,210.32 L429.75,209.93 L429.53,209.53 L429.36,209.13 L429.25,208.73 Z" fill="url(#gXZD4)"/>
<path d="M511.30,208.70 L511.31,208.31 L511.38,207.93 L519.62,167.06 L526.75,210.37 L526.81,210.77 L526.81,211.16 L526.75,211.54 L526.64,211.90 L526.46,212.25 L526.23,212.58 L525.95,212.89 L525.61,213.18 L525.22,213.44 L524.78,213.67 L524.30,213.87 L523.77,214.04 L523.22,214.17 L522.62,214.28 L522.00,214.34 L521.36,214.38 L520.70,214.37 L520.03,214.33 L519.35,214.26 L518.67,214.15 L517.99,214.01 L517.32,213.83 L516.66,213.62 L516.02,213.39 L515.41,213.12 L514.82,212.83 L514.27,212.52 L513.75,212.18 L513.28,211.83 L512.85,211.46 L512.46,211.08 L512.13,210.69 L511.85,210.29 L511.63,209.89 L511.46,209.49 L511.35,209.09 Z" fill="url(#gDW2)"/>
<path d="M593.68,209.07 L593.69,208.69 L610.11,101.60 L609.64,212.31 L609.57,212.67 L609.45,213.03 L609.27,213.36 L609.03,213.67 L608.73,213.95 L608.37,214.21 L607.97,214.45 L607.52,214.65 L607.02,214.82 L606.48,214.95 L605.90,215.06 L605.29,215.13 L604.65,215.16 L603.98,215.15 L603.30,215.11 L602.61,215.04 L601.91,214.93 L601.21,214.79 L600.51,214.61 L599.82,214.40 L599.15,214.17 L598.49,213.90 L597.86,213.61 L597.26,213.29 L596.70,212.96 L596.17,212.60 L595.68,212.23 L595.24,211.85 L594.85,211.46 L594.51,211.06 L594.23,210.66 L594.00,210.25 L593.84,209.85 L593.73,209.46 Z" fill="url(#gGZ0)"/>
<path d="M380.45,211.96 L380.49,211.56 L380.59,211.17 L386.35,193.82 L395.34,212.03 L395.48,212.44 L395.56,212.85 L395.59,213.25 L395.56,213.65 L395.47,214.04 L395.33,214.43 L395.13,214.80 L394.87,215.15 L394.56,215.48 L394.20,215.79 L393.79,216.08 L393.34,216.34 L392.85,216.58 L392.32,216.78 L391.75,216.95 L391.16,217.09 L390.54,217.19 L389.91,217.26 L389.26,217.29 L388.59,217.29 L387.93,217.25 L387.26,217.17 L386.61,217.06 L385.96,216.92 L385.33,216.74 L384.72,216.53 L384.13,216.29 L383.58,216.03 L383.06,215.73 L382.57,215.42 L382.14,215.08 L381.74,214.72 L381.40,214.35 L381.10,213.97 L380.86,213.57 L380.67,213.17 L380.54,212.77 L380.47,212.36 Z" fill="url(#gOT5)"/>
<path d="M462.99,212.33 L463.03,211.94 L469.80,176.83 L478.29,213.62 L478.37,214.03 L478.40,214.43 L478.37,214.82 L478.28,215.21 L478.13,215.58 L477.93,215.93 L477.67,216.27 L477.35,216.58 L476.99,216.87 L476.57,217.13 L476.11,217.36 L475.61,217.57 L475.07,217.74 L474.49,217.88 L473.89,217.98 L473.26,218.05 L472.61,218.08 L471.95,218.08 L471.28,218.04 L470.60,217.96 L469.92,217.85 L469.25,217.71 L468.59,217.53 L467.95,217.32 L467.33,217.08 L466.73,216.81 L466.17,216.52 L465.64,216.20 L465.15,215.86 L464.70,215.50 L464.30,215.13 L463.95,214.75 L463.65,214.35 L463.40,213.95 L463.21,213.54 L463.08,213.13 L463.00,212.73 Z" fill="url(#gSB3)"/>
<path d="M545.80,212.71 L545.84,212.33 L556.09,154.70 L561.58,215.21 L561.61,215.60 L561.57,215.99 L561.48,216.36 L561.32,216.72 L561.11,217.05 L560.84,217.37 L560.52,217.66 L560.14,217.92 L559.71,218.15 L559.24,218.36 L558.72,218.53 L558.17,218.67 L557.58,218.77 L556.96,218.84 L556.31,218.87 L555.65,218.87 L554.96,218.83 L554.27,218.76 L553.58,218.64 L552.89,218.50 L552.20,218.32 L551.52,218.11 L550.87,217.87 L550.23,217.60 L549.62,217.31 L549.04,216.99 L548.50,216.65 L548.00,216.29 L547.54,215.91 L547.14,215.53 L546.78,215.13 L546.47,214.73 L546.22,214.32 L546.03,213.91 L545.89,213.50 L545.82,213.10 Z" fill="url(#gLJ1)"/>
<path d="M414.06,216.41 L414.08,216.01 L414.16,215.61 L414.29,215.23 L420.74,201.25 L428.86,216.08 L429.08,216.49 L429.25,216.90 L429.36,217.31 L429.41,217.73 L429.40,218.13 L429.34,218.53 L429.21,218.92 L429.03,219.30 L428.80,219.65 L428.50,219.99 L428.16,220.31 L427.77,220.60 L427.33,220.87 L426.84,221.11 L426.32,221.31 L425.76,221.49 L425.17,221.63 L424.56,221.73 L423.92,221.80 L423.26,221.83 L422.60,221.83 L421.92,221.79 L421.25,221.71 L420.58,221.60 L419.92,221.45 L419.27,221.27 L418.64,221.06 L418.04,220.82 L417.46,220.55 L416.92,220.25 L416.41,219.93 L415.95,219.58 L415.53,219.22 L415.16,218.84 L414.84,218.45 L414.57,218.05 L414.36,217.64 L414.20,217.23 L414.11,216.82 Z" fill="url(#gHTX4)"/>
<path d="M497.32,216.79 L497.34,216.39 L497.41,216.01 L505.25,174.98 L512.94,218.52 L512.99,218.93 L512.98,219.33 L512.92,219.72 L512.79,220.09 L512.61,220.45 L512.36,220.79 L512.06,221.11 L511.71,221.40 L511.31,221.67 L510.86,221.91 L510.37,222.12 L509.83,222.29 L509.26,222.43 L508.66,222.54 L508.03,222.60 L507.38,222.64 L506.71,222.63 L506.03,222.59 L505.34,222.52 L504.65,222.40 L503.96,222.26 L503.29,222.08 L502.63,221.86 L501.99,221.62 L501.37,221.35 L500.78,221.05 L500.23,220.73 L499.71,220.38 L499.24,220.02 L498.81,219.64 L498.44,219.25 L498.11,218.84 L497.84,218.44 L497.62,218.02 L497.46,217.61 L497.36,217.20 Z" fill="url(#gNX2)"/>
<path d="M580.85,217.18 L580.87,216.79 L594.13,141.89 L596.97,220.12 L596.96,220.51 L596.89,220.89 L596.76,221.25 L596.57,221.59 L596.31,221.91 L596.00,222.21 L595.64,222.48 L595.22,222.71 L594.76,222.92 L594.25,223.10 L593.70,223.24 L593.11,223.34 L592.49,223.41 L591.84,223.45 L591.17,223.44 L590.48,223.40 L589.78,223.33 L589.07,223.21 L588.36,223.07 L587.66,222.88 L586.96,222.67 L586.28,222.43 L585.62,222.15 L584.99,221.85 L584.39,221.53 L583.82,221.18 L583.30,220.82 L582.81,220.44 L582.37,220.04 L581.99,219.64 L581.65,219.23 L581.38,218.81 L581.16,218.40 L580.99,217.99 L580.89,217.58 Z" fill="url(#gJT0)"/>
<path d="M448.22,220.53 L448.28,220.12 L454.61,183.03 L463.71,221.86 L463.78,222.27 L463.80,222.69 L463.76,223.09 L463.66,223.49 L463.50,223.87 L463.28,224.23 L463.01,224.58 L462.68,224.90 L462.30,225.20 L461.88,225.47 L461.40,225.71 L460.89,225.92 L460.33,226.10 L459.75,226.24 L459.13,226.34 L458.49,226.41 L457.84,226.45 L457.16,226.44 L456.48,226.40 L455.80,226.33 L455.11,226.21 L454.44,226.06 L453.77,225.88 L453.12,225.66 L452.50,225.42 L451.90,225.14 L451.34,224.84 L450.81,224.51 L450.32,224.16 L449.88,223.79 L449.48,223.41 L449.13,223.01 L448.84,222.61 L448.60,222.19 L448.42,221.77 L448.30,221.35 L448.23,220.94 Z" fill="url(#gXZD3)"/>
<path d="M532.21,220.92 L532.26,220.53 L541.98,162.45 L548.15,223.50 L548.17,223.90 L548.13,224.30 L548.02,224.68 L547.86,225.05 L547.63,225.39 L547.35,225.72 L547.02,226.02 L546.63,226.29 L546.19,226.53 L545.70,226.74 L545.17,226.92 L544.61,227.06 L544.01,227.17 L543.37,227.24 L542.72,227.27 L542.04,227.27 L541.35,227.23 L540.66,227.15 L539.95,227.03 L539.25,226.88 L538.56,226.70 L537.88,226.48 L537.22,226.24 L536.58,225.96 L535.97,225.65 L535.39,225.33 L534.85,224.98 L534.35,224.61 L533.90,224.22 L533.49,223.82 L533.14,223.41 L532.84,223.00 L532.59,222.58 L532.41,222.16 L532.28,221.74 L532.21,221.33 Z" fill="url(#gDW1)"/>
<path d="M398.49,224.72 L398.52,224.31 L398.61,223.90 L398.75,223.50 L398.95,223.12 L399.21,222.76 L399.52,222.42 L399.88,222.10 L400.29,221.81 L400.74,221.54 L401.24,221.30 L401.77,221.10 L405.81,219.60 L410.62,221.86 L411.16,222.16 L411.66,222.49 L412.12,222.83 L412.54,223.20 L412.91,223.58 L413.24,223.98 L413.51,224.39 L413.72,224.81 L413.88,225.23 L413.98,225.66 L414.02,226.08 L414.00,226.50 L413.92,226.91 L413.79,227.31 L413.59,227.69 L413.34,228.06 L413.04,228.41 L412.68,228.74 L412.27,229.04 L411.82,229.31 L411.32,229.56 L410.79,229.77 L410.22,229.95 L409.62,230.09 L408.99,230.20 L408.34,230.27 L407.67,230.31 L407.00,230.30 L406.31,230.26 L405.63,230.18 L404.95,230.07 L404.29,229.92 L403.63,229.73 L403.00,229.51 L402.40,229.26 L401.82,228.98 L401.28,228.68 L400.78,228.34 L400.31,227.99 L399.90,227.62 L399.53,227.23 L399.22,226.83 L398.96,226.41 L398.76,225.99 L398.61,225.57 L398.52,225.15 Z" fill="url(#gOT4)"/>
<path d="M482.93,225.12 L482.96,224.71 L483.04,224.32 L490.52,189.45 L498.73,226.90 L498.77,227.32 L498.76,227.73 L498.68,228.13 L498.54,228.52 L498.34,228.89 L498.09,229.24 L497.78,229.57 L497.41,229.87 L497.00,230.15 L496.54,230.39 L496.03,230.60 L495.48,230.78 L494.90,230.93 L494.29,231.04 L493.65,231.11 L492.98,231.14 L492.31,231.14 L491.62,231.10 L490.92,231.02 L490.22,230.90 L489.53,230.75 L488.85,230.56 L488.19,230.34 L487.54,230.09 L486.92,229.81 L486.33,229.50 L485.78,229.17 L485.27,228.82 L484.80,228.44 L484.37,228.05 L484.00,227.65 L483.68,227.24 L483.41,226.81 L483.20,226.39 L483.05,225.96 L482.96,225.54 Z" fill="url(#gSB2)"/>
<path d="M567.65,225.53 L567.68,225.13 L578.93,173.04 L583.94,228.56 L583.92,228.96 L583.84,229.35 L583.70,229.72 L583.49,230.07 L583.23,230.40 L582.91,230.70 L582.53,230.98 L582.10,231.23 L581.63,231.44 L581.11,231.62 L580.54,231.76 L579.94,231.87 L579.31,231.95 L578.65,231.98 L577.97,231.98 L577.27,231.93 L576.56,231.85 L575.85,231.74 L575.13,231.59 L574.42,231.40 L573.72,231.18 L573.04,230.93 L572.38,230.65 L571.74,230.34 L571.14,230.00 L570.57,229.65 L570.05,229.27 L569.56,228.88 L569.13,228.48 L568.75,228.06 L568.42,227.64 L568.15,227.21 L567.93,226.78 L567.78,226.36 L567.69,225.94 Z" fill="url(#gLJ0)"/>
<path d="M433.02,229.39 L433.03,228.96 L433.09,228.55 L439.43,199.82 L448.57,229.90 L448.70,230.33 L448.77,230.76 L448.78,231.19 L448.72,231.61 L448.61,232.01 L448.44,232.41 L448.21,232.78 L447.92,233.14 L447.58,233.47 L447.19,233.77 L446.75,234.05 L446.26,234.30 L445.73,234.52 L445.17,234.70 L444.57,234.84 L443.94,234.95 L443.29,235.03 L442.62,235.06 L441.94,235.06 L441.25,235.01 L440.55,234.93 L439.86,234.82 L439.18,234.66 L438.51,234.48 L437.86,234.25 L437.24,234.00 L436.64,233.71 L436.07,233.40 L435.55,233.07 L435.06,232.71 L434.62,232.33 L434.23,231.93 L433.89,231.52 L433.60,231.10 L433.37,230.68 L433.19,230.25 L433.08,229.81 Z" fill="url(#gHTX3)"/>
<path d="M518.21,229.79 L518.22,229.38 L518.28,228.97 L527.29,177.35 L534.33,232.03 L534.34,232.45 L534.28,232.86 L534.17,233.25 L533.99,233.63 L533.76,233.98 L533.46,234.31 L533.12,234.62 L532.71,234.90 L532.26,235.15 L531.77,235.37 L531.22,235.55 L530.65,235.70 L530.03,235.81 L529.39,235.88 L528.73,235.91 L528.04,235.91 L527.34,235.87 L526.63,235.79 L525.93,235.67 L525.22,235.51 L524.52,235.33 L523.84,235.10 L523.17,234.85 L522.53,234.56 L521.92,234.25 L521.34,233.91 L520.80,233.55 L520.30,233.17 L519.85,232.77 L519.45,232.36 L519.10,231.94 L518.80,231.51 L518.57,231.08 L518.39,230.65 L518.27,230.22 Z" fill="url(#gNX1)"/>
<path d="M468.12,233.70 L468.15,233.28 L475.44,201.81 L484.01,235.09 L484.10,235.53 L484.13,235.96 L484.11,236.39 L484.02,236.80 L483.87,237.20 L483.66,237.58 L483.39,237.94 L483.07,238.28 L482.69,238.59 L482.26,238.87 L481.79,239.12 L481.27,239.34 L480.71,239.53 L480.11,239.68 L479.49,239.79 L478.84,239.86 L478.16,239.90 L477.47,239.89 L476.78,239.85 L476.07,239.77 L475.37,239.65 L474.67,239.49 L473.98,239.30 L473.31,239.07 L472.67,238.82 L472.05,238.53 L471.46,238.21 L470.91,237.87 L470.39,237.50 L469.93,237.12 L469.51,236.72 L469.14,236.30 L468.82,235.87 L468.56,235.44 L468.36,235.00 L468.22,234.56 L468.14,234.13 Z" fill="url(#gXZD2)"/>
<path d="M554.07,234.12 L554.11,233.71 L565.41,170.31 L570.49,236.82 L570.52,237.24 L570.49,237.66 L570.40,238.06 L570.24,238.44 L570.03,238.80 L569.75,239.14 L569.42,239.45 L569.03,239.74 L568.60,239.99 L568.11,240.21 L567.57,240.40 L567.00,240.54 L566.39,240.66 L565.74,240.73 L565.07,240.77 L564.38,240.76 L563.68,240.72 L562.96,240.64 L562.23,240.52 L561.51,240.36 L560.80,240.17 L560.09,239.94 L559.40,239.68 L558.74,239.39 L558.10,239.07 L557.50,238.73 L556.93,238.36 L556.41,237.98 L555.93,237.57 L555.50,237.16 L555.12,236.73 L554.79,236.29 L554.53,235.85 L554.32,235.41 L554.17,234.98 L554.09,234.54 Z" fill="url(#gDW0)"/>
<path d="M417.37,238.08 L417.38,237.65 L417.46,237.22 L417.60,236.81 L417.79,236.41 L418.04,236.03 L424.66,227.89 L432.09,236.89 L432.43,237.31 L432.72,237.74 L432.96,238.17 L433.13,238.62 L433.25,239.06 L433.31,239.50 L433.30,239.94 L433.24,240.37 L433.11,240.79 L432.93,241.20 L432.68,241.58 L432.38,241.95 L432.03,242.29 L431.62,242.61 L431.17,242.89 L430.67,243.15 L430.12,243.37 L429.55,243.56 L428.93,243.71 L428.30,243.82 L427.63,243.90 L426.95,243.93 L426.26,243.93 L425.56,243.88 L424.86,243.80 L424.16,243.68 L423.47,243.52 L422.80,243.33 L422.15,243.10 L421.52,242.84 L420.92,242.54 L420.35,242.22 L419.83,241.88 L419.34,241.51 L418.91,241.12 L418.52,240.71 L418.18,240.29 L417.90,239.85 L417.68,239.41 L417.52,238.97 L417.41,238.53 Z" fill="url(#gOT3)"/>
<path d="M503.80,238.51 L503.81,238.08 L503.89,237.67 L512.22,204.49 L520.04,240.37 L520.10,240.81 L520.09,241.24 L520.03,241.67 L519.90,242.07 L519.71,242.46 L519.47,242.83 L519.16,243.17 L518.80,243.49 L518.39,243.77 L517.92,244.03 L517.41,244.25 L516.86,244.44 L516.27,244.59 L515.64,244.70 L514.99,244.78 L514.31,244.81 L513.62,244.81 L512.91,244.77 L512.19,244.68 L511.48,244.56 L510.76,244.40 L510.06,244.21 L509.37,243.98 L508.70,243.72 L508.06,243.42 L507.44,243.10 L506.87,242.75 L506.33,242.38 L505.83,241.99 L505.38,241.58 L504.99,241.16 L504.64,240.72 L504.35,240.28 L504.12,239.84 L503.95,239.39 L503.84,238.95 Z" fill="url(#gSB1)"/>
<path d="M452.86,242.53 L452.91,242.09 L453.02,241.67 L453.20,241.27 L460.35,225.49 L468.60,243.06 L468.81,243.51 L468.95,243.96 L469.04,244.41 L469.06,244.86 L469.02,245.30 L468.92,245.72 L468.76,246.14 L468.53,246.53 L468.25,246.90 L467.92,247.25 L467.52,247.57 L467.08,247.86 L466.59,248.12 L466.06,248.35 L465.49,248.54 L464.88,248.69 L464.24,248.80 L463.58,248.88 L462.90,248.92 L462.20,248.91 L461.49,248.87 L460.78,248.78 L460.06,248.66 L459.36,248.50 L458.67,248.30 L458.00,248.07 L457.35,247.80 L456.72,247.50 L456.13,247.18 L455.58,246.83 L455.07,246.45 L454.61,246.05 L454.19,245.64 L453.83,245.21 L453.52,244.77 L453.27,244.32 L453.08,243.87 L452.94,243.42 L452.87,242.97 Z" fill="url(#gHTX2)"/>
<path d="M540.08,242.97 L540.13,242.55 L549.94,202.21 L556.67,245.75 L556.70,246.19 L556.66,246.61 L556.55,247.03 L556.39,247.42 L556.16,247.79 L555.88,248.14 L555.53,248.47 L555.13,248.76 L554.68,249.02 L554.18,249.25 L553.63,249.44 L553.04,249.59 L552.42,249.71 L551.77,249.78 L551.09,249.82 L550.38,249.81 L549.67,249.77 L548.94,249.69 L548.21,249.56 L547.48,249.40 L546.76,249.20 L546.05,248.97 L545.36,248.70 L544.69,248.40 L544.05,248.07 L543.45,247.72 L542.88,247.34 L542.36,246.94 L541.88,246.53 L541.45,246.10 L541.08,245.66 L540.76,245.21 L540.50,244.75 L540.30,244.30 L540.16,243.85 L540.09,243.41 Z" fill="url(#gNX0)"/>
<path d="M488.95,247.49 L488.97,247.05 L489.06,246.62 L497.04,211.37 L505.38,249.41 L505.43,249.86 L505.42,250.31 L505.34,250.74 L505.20,251.16 L505.00,251.56 L504.74,251.94 L504.42,252.29 L504.05,252.62 L503.62,252.91 L503.15,253.18 L502.62,253.41 L502.06,253.60 L501.45,253.76 L500.82,253.87 L500.15,253.95 L499.46,253.99 L498.76,253.98 L498.04,253.94 L497.31,253.85 L496.59,253.73 L495.87,253.56 L495.16,253.36 L494.47,253.13 L493.79,252.85 L493.15,252.55 L492.53,252.22 L491.96,251.86 L491.42,251.48 L490.93,251.07 L490.48,250.65 L490.09,250.22 L489.75,249.77 L489.47,249.31 L489.25,248.86 L489.09,248.40 L488.99,247.94 Z" fill="url(#gXZD1)"/>
<path d="M437.14,251.63 L437.21,251.18 L437.33,250.74 L437.52,250.33 L437.76,249.93 L438.06,249.55 L438.42,249.20 L438.83,248.88 L444.93,244.37 L451.76,250.41 L452.18,250.83 L452.54,251.27 L452.85,251.72 L453.11,252.18 L453.30,252.64 L453.44,253.11 L453.51,253.57 L453.52,254.03 L453.47,254.48 L453.36,254.92 L453.18,255.35 L452.95,255.75 L452.65,256.13 L452.30,256.49 L451.90,256.82 L451.44,257.12 L450.94,257.39 L450.39,257.62 L449.80,257.82 L449.18,257.98 L448.53,258.10 L447.86,258.17 L447.16,258.21 L446.45,258.21 L445.73,258.16 L445.01,258.07 L444.29,257.95 L443.58,257.78 L442.89,257.58 L442.21,257.34 L441.56,257.06 L440.93,256.76 L440.34,256.42 L439.79,256.06 L439.28,255.67 L438.82,255.26 L438.41,254.83 L438.06,254.39 L437.75,253.94 L437.51,253.48 L437.33,253.01 L437.20,252.54 L437.14,252.08 Z" fill="url(#gOT2)"/>
<path d="M525.66,252.09 L525.72,251.65 L535.00,216.56 L542.36,254.49 L542.44,254.95 L542.45,255.40 L542.40,255.85 L542.29,256.27 L542.11,256.68 L541.87,257.06 L541.57,257.42 L541.21,257.75 L540.80,258.06 L540.34,258.32 L539.82,258.56 L539.26,258.75 L538.66,258.91 L538.03,259.03 L537.36,259.11 L536.67,259.15 L535.96,259.14 L535.23,259.10 L534.49,259.01 L533.76,258.88 L533.02,258.72 L532.29,258.51 L531.58,258.27 L530.88,257.99 L530.21,257.69 L529.57,257.35 L528.96,256.98 L528.40,256.59 L527.88,256.18 L527.40,255.76 L526.98,255.31 L526.61,254.86 L526.30,254.39 L526.05,253.93 L525.85,253.46 L525.73,252.99 L525.66,252.54 Z" fill="url(#gSB0)"/>
<path d="M473.65,256.74 L473.68,256.29 L473.78,255.85 L473.94,255.42 L481.66,239.03 L490.01,257.78 L490.18,258.25 L490.28,258.72 L490.32,259.19 L490.29,259.65 L490.21,260.10 L490.05,260.53 L489.84,260.94 L489.57,261.33 L489.23,261.69 L488.85,262.03 L488.40,262.34 L487.91,262.61 L487.38,262.84 L486.80,263.04 L486.18,263.21 L485.53,263.33 L484.85,263.41 L484.15,263.44 L483.44,263.44 L482.71,263.39 L481.98,263.30 L481.24,263.17 L480.52,263.01 L479.80,262.80 L479.10,262.55 L478.43,262.27 L477.78,261.96 L477.16,261.62 L476.59,261.25 L476.05,260.85 L475.56,260.44 L475.12,260.00 L474.73,259.55 L474.40,259.09 L474.13,258.62 L473.91,258.15 L473.76,257.68 L473.67,257.21 Z" fill="url(#gHTX1)"/>
<path d="M510.79,261.95 L510.80,261.49 L510.87,261.04 L519.73,230.30 L527.70,263.97 L527.76,264.44 L527.77,264.91 L527.71,265.36 L527.58,265.80 L527.39,266.22 L527.14,266.62 L526.82,266.99 L526.45,267.33 L526.03,267.64 L525.55,267.92 L525.02,268.16 L524.45,268.36 L523.83,268.53 L523.19,268.65 L522.51,268.73 L521.80,268.77 L521.08,268.76 L520.34,268.72 L519.60,268.63 L518.85,268.49 L518.11,268.32 L517.37,268.11 L516.65,267.86 L515.95,267.58 L515.28,267.26 L514.64,266.91 L514.03,266.54 L513.47,266.13 L512.95,265.71 L512.48,265.27 L512.06,264.81 L511.69,264.34 L511.39,263.86 L511.15,263.38 L510.96,262.90 L510.84,262.42 Z" fill="url(#gXZD0)"/>
<path d="M457.87,266.28 L457.92,265.81 L458.03,265.36 L458.21,264.92 L458.44,264.50 L458.74,264.11 L459.09,263.74 L466.00,257.66 L473.24,265.45 L473.63,265.91 L473.97,266.38 L474.24,266.86 L474.46,267.35 L474.62,267.84 L474.71,268.33 L474.74,268.81 L474.70,269.28 L474.60,269.74 L474.43,270.19 L474.21,270.61 L473.92,271.02 L473.57,271.39 L473.17,271.74 L472.71,272.05 L472.20,272.33 L471.65,272.58 L471.06,272.78 L470.43,272.95 L469.76,273.07 L469.08,273.16 L468.36,273.20 L467.64,273.19 L466.90,273.14 L466.16,273.05 L465.42,272.92 L464.68,272.74 L463.96,272.53 L463.26,272.28 L462.58,271.99 L461.93,271.67 L461.31,271.31 L460.74,270.93 L460.20,270.52 L459.72,270.10 L459.28,269.65 L458.90,269.18 L458.57,268.71 L458.31,268.22 L458.10,267.74 L457.96,267.25 L457.88,266.76 Z" fill="url(#gOT1)"/>
<path d="M495.45,271.66 L495.47,271.18 L495.56,270.72 L495.71,270.27 L504.07,245.64 L512.45,273.24 L512.57,273.74 L512.63,274.23 L512.62,274.71 L512.55,275.18 L512.41,275.63 L512.20,276.06 L511.94,276.47 L511.61,276.86 L511.23,277.21 L510.78,277.53 L510.29,277.82 L509.75,278.06 L509.16,278.27 L508.54,278.44 L507.87,278.57 L507.18,278.65 L506.47,278.69 L505.73,278.69 L504.99,278.64 L504.23,278.55 L503.48,278.41 L502.72,278.23 L501.98,278.01 L501.26,277.76 L500.56,277.46 L499.88,277.14 L499.24,276.78 L498.63,276.39 L498.07,275.97 L497.55,275.54 L497.08,275.08 L496.67,274.61 L496.31,274.12 L496.01,273.63 L495.78,273.14 L495.60,272.64 L495.50,272.14 Z" fill="url(#gHTX0)"/>
<path d="M479.63,281.67 L479.66,281.18 L479.76,280.70 L479.92,280.24 L480.15,279.80 L480.44,279.39 L480.79,279.00 L481.19,278.65 L481.65,278.33 L482.15,278.04 L482.71,277.79 L483.30,277.58 L483.93,277.41 L484.60,277.29 L485.29,277.21 L486.01,277.17 L486.74,277.17 L487.48,277.22 L488.23,277.31 L488.98,277.45 L489.73,277.62 L490.47,277.84 L491.19,278.10 L491.89,278.39 L492.56,278.72 L493.20,279.08 L493.80,279.48 L494.37,279.89 L494.89,280.34 L495.36,280.80 L495.77,281.28 L496.13,281.78 L496.44,282.28 L496.68,282.79 L496.85,283.31 L496.96,283.82 L497.01,284.33 L496.99,284.82 L496.90,285.31 L496.75,285.78 L496.53,286.22 L496.25,286.65 L495.91,287.04 L495.51,287.40 L495.05,287.74 L494.54,288.03 L493.99,288.29 L493.39,288.50 L492.75,288.68 L492.07,288.81 L491.37,288.90 L490.64,288.94 L489.89,288.93 L489.13,288.88 L488.37,288.78 L487.61,288.64 L486.85,288.46 L486.10,288.24 L485.37,287.97 L484.66,287.67 L483.99,287.33 L483.34,286.96 L482.74,286.56 L482.17,286.13 L481.66,285.68 L481.20,285.21 L480.79,284.72 L480.44,284.22 L480.15,283.71 L479.92,283.20 L479.76,282.68 L479.66,282.17 Z" fill="url(#gOT0)"/>
<path d="M488.27,280.38 C484.56,276.60 473.22,263.66 466.00,257.66 C458.78,251.66 451.82,249.33 444.93,244.37 C438.04,239.41 431.18,232.02 424.66,227.89 C418.14,223.77 412.20,225.28 405.81,219.60 C399.42,213.92 389.59,198.12 386.35,193.82" fill="none" stroke="#7FCBF2" stroke-width="1.9" stroke-dasharray="5.5 2.2 1.5 2.2"/>
<path d="M504.07,245.64 C500.34,244.54 488.95,242.39 481.66,239.03 C474.38,235.67 467.39,232.03 460.35,225.49 C453.31,218.95 446.03,203.86 439.43,199.82 C432.83,195.78 427.03,204.18 420.74,201.25 C414.45,198.32 404.88,185.41 401.70,182.24" fill="none" stroke="#F2EA7A" stroke-width="1.9" stroke-dasharray="5.5 2.2 1.5 2.2"/>
<path d="M519.73,230.30 C515.95,227.15 504.42,216.12 497.04,211.37 C489.66,206.62 482.51,206.53 475.44,201.81 C468.37,197.08 461.29,186.40 454.61,183.03 C447.94,179.66 441.68,183.18 435.39,181.57 C429.10,179.96 419.96,174.74 416.88,173.37" fill="none" stroke="#D9AEF7" stroke-width="1.9" stroke-dasharray="5.5 2.2 1.5 2.2"/>
<path d="M535.00,216.56 C531.20,214.55 519.63,209.01 512.22,204.49 C504.80,199.97 497.59,194.06 490.52,189.45 C483.45,184.84 476.47,179.01 469.80,176.83 C463.12,174.64 456.88,179.90 450.44,176.35 C444.00,172.79 434.38,158.98 431.17,155.51" fill="none" stroke="#9BE235" stroke-width="1.9" stroke-dasharray="5.5 2.2 1.5 2.2"/>
<path d="M549.94,202.21 C546.17,198.07 534.74,181.88 527.29,177.35 C519.85,172.81 512.42,178.34 505.25,174.98 C498.09,171.62 491.11,160.56 484.33,157.19 C477.54,153.82 471.02,156.91 464.56,154.77 C458.10,152.64 448.73,146.13 445.57,144.41" fill="none" stroke="#F39999" stroke-width="1.9" stroke-dasharray="5.5 2.2 1.5 2.2"/>
<path d="M565.41,170.31 C561.51,169.00 549.61,162.99 541.98,162.45 C534.34,161.91 526.83,169.60 519.62,167.06 C512.41,164.53 505.49,148.99 498.72,147.25 C491.95,145.51 485.54,160.52 478.98,156.64 C472.42,152.76 462.63,129.40 459.36,123.95" fill="none" stroke="#BDBDBD" stroke-width="1.9" stroke-dasharray="5.5 2.2 1.5 2.2"/>
<path d="M578.93,173.04 C575.12,169.98 563.63,157.99 556.09,154.70 C548.56,151.42 540.91,158.78 533.71,153.31 C526.51,147.84 519.71,123.00 512.89,121.88 C506.06,120.76 499.34,147.56 492.74,146.59 C486.14,145.63 476.54,121.19 473.30,116.10" fill="none" stroke="#F486CB" stroke-width="1.9" stroke-dasharray="5.5 2.2 1.5 2.2"/>
<path d="M594.13,141.89 C590.46,135.10 579.70,107.14 572.12,101.11 C564.55,95.08 556.14,109.91 548.69,105.73 C541.23,101.55 534.46,76.42 527.40,76.03 C520.34,75.65 513.10,102.39 506.30,103.43 C499.51,104.47 489.90,85.80 486.63,82.28" fill="none" stroke="#009000" stroke-width="1.9" stroke-dasharray="5.5 2.2 1.5 2.2"/>
<path d="M610.11,101.60 C606.49,93.27 596.25,54.99 588.40,51.62 C580.56,48.24 570.97,76.93 563.06,81.34 C555.15,85.75 548.17,76.04 540.96,78.08 C533.74,80.13 526.58,96.73 519.77,93.63 C512.97,90.54 503.40,65.21 500.12,59.52" fill="none" stroke="#EAAE34" stroke-width="1.9" stroke-dasharray="5.5 2.2 1.5 2.2"/>
<path d="M491.67,296.30 L371.36,210.40 M491.67,296.30 L619.26,212.70 M619.26,212.70 L633.87,53.31 M480.25,288.15 L475.11,291.43 M469.12,280.20 L466.49,281.84 M458.26,272.44 L453.14,275.57 M447.67,264.88 L445.04,266.45 M437.33,257.50 L432.23,260.48 M427.23,250.29 L424.62,251.78 M417.37,243.25 L412.30,246.09 M407.74,236.38 L405.15,237.80 M398.33,229.66 L393.29,232.37 M389.14,223.09 L386.56,224.45 M380.15,216.67 L375.14,219.27 M499.73,291.02 L506.02,295.43 M507.66,285.82 L511.00,288.13 M515.46,280.71 L521.76,284.98 M523.15,275.67 L526.49,277.91 M530.71,270.72 L537.01,274.86 M538.15,265.84 L541.50,268.01 M545.48,261.04 L551.78,265.05 M552.70,256.31 L556.05,258.41 M559.81,251.65 L566.11,255.54 M566.81,247.06 L570.16,249.10 M573.71,242.54 L580.00,246.32 M580.51,238.09 L583.85,240.07 M587.20,233.71 L593.49,237.37 M593.80,229.38 L597.14,231.30 M600.30,225.12 L606.58,228.68 M606.71,220.92 L610.04,222.79 M613.03,216.78 L619.29,220.24 M619.26,212.70 L623.42,214.97 M620.19,202.50 L622.43,203.69 M621.14,192.13 L625.38,194.34 M622.11,181.59 L624.38,182.75 M623.09,170.88 L627.40,173.04 M624.09,159.99 L626.41,161.13 M625.10,148.92 L629.50,151.03 M626.13,137.67 L628.49,138.78 M627.18,126.23 L631.66,128.28 M628.25,114.59 L630.65,115.66 M629.33,102.76 L633.90,104.74 M630.44,90.71 L632.89,91.75 M631.56,78.46 L636.21,80.37 M632.70,66.00 L635.20,66.99 M633.87,53.31 L638.61,55.14" stroke="#222" stroke-width="1.1" fill="none"/>
<text id="pl1" transform="translate(477.25,293.65) rotate(-29) scale(1,0.75)" text-anchor="end" class="c3">Period 1</text>
<text id="pl2" transform="translate(455.26,277.94) rotate(-29) scale(1,0.75)" text-anchor="end" class="c3">Period 2</text>
<text id="pl3" transform="translate(434.33,263.00) rotate(-29) scale(1,0.75)" text-anchor="end" class="c3">Period 3</text>
<text id="pl4" transform="translate(414.37,248.75) rotate(-29) scale(1,0.75)" text-anchor="end" class="c3">Period 4</text>
<text id="pl5" transform="translate(395.33,235.16) rotate(-29) scale(1,0.75)" text-anchor="end" class="c3">Period 5</text>
<text id="pl6" transform="translate(377.15,222.17) rotate(-29) scale(1,0.75)" text-anchor="end" class="c3">Period 6</text>
<text id="clOT" transform="translate(502.03,296.62) rotate(29) scale(1,0.72)" class="c3c">OT</text>
<text id="clHTX" transform="translate(517.76,286.31) rotate(29) scale(1,0.72)" class="c3c">HTX</text>
<text id="clXZD" transform="translate(533.01,276.32) rotate(29) scale(1,0.72)" class="c3c">XZD</text>
<text id="clSB" transform="translate(547.78,266.64) rotate(29) scale(1,0.72)" class="c3c">SB</text>
<text id="clNX" transform="translate(562.11,257.25) rotate(29) scale(1,0.72)" class="c3c">NX</text>
<text id="clDW" transform="translate(576.01,248.14) rotate(29) scale(1,0.72)" class="c3c">DW</text>
<text id="clLJ" transform="translate(589.50,239.31) rotate(29) scale(1,0.72)" class="c3c">LJ</text>
<text id="clJT" transform="translate(602.60,230.72) rotate(29) scale(1,0.72)" class="c3c">JT</text>
<text id="clGZ" transform="translate(615.33,222.38) rotate(29) scale(1,0.72)" class="c3c">GZ</text>
<text id="zl0" transform="translate(623.26,218.70) rotate(25)" class="c3z">0</text>
<text id="zl1" transform="translate(625.14,198.13) rotate(25)" class="c3z">5000</text>
<text id="zl2" transform="translate(627.09,176.88) rotate(25)" class="c3z">10000</text>
<text id="zl3" transform="translate(629.10,154.92) rotate(25)" class="c3z">15000</text>
<text id="zl4" transform="translate(631.18,132.23) rotate(25)" class="c3z">20000</text>
<text id="zl5" transform="translate(633.33,108.76) rotate(25)" class="c3z">25000</text>
<text id="zl6" transform="translate(635.56,84.46) rotate(25)" class="c3z">30000</text>
<text id="zl7" transform="translate(637.87,59.31) rotate(25)" class="c3z">35000</text>
<text id="cst" transform="translate(650.5,41.5) rotate(17.5)" class="c3t">CS (t C)</text>
<text id="lb" x="338.4" y="19.0" class="pa" style="font-size:21px">(b)</text>
</svg>
</body></html>
